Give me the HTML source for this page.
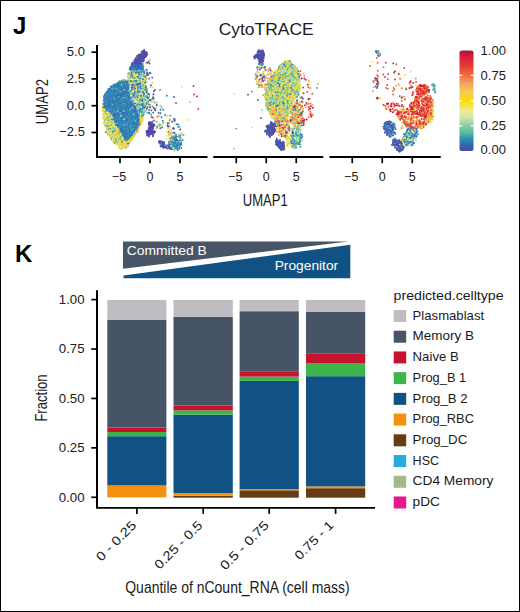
<!DOCTYPE html>
<html><head><meta charset="utf-8"><title>CytoTRACE</title>
<style>
html,body{margin:0;padding:0;background:#fff;}
.fig{position:relative;width:520px;height:612px;box-sizing:border-box;border:1px solid #000;overflow:hidden;background:#fff;}
svg{position:absolute;left:-1px;top:-1px;display:block;}
text{font-family:"Liberation Sans",sans-serif;}
</style></head><body>
<div class="fig">
<svg width="520" height="612" viewBox="0 0 520 612">
<text x="13" y="34.4" font-size="24" text-anchor="start" font-weight="bold" fill="#000" >J</text>
<text x="266.2" y="34.6" font-size="17.2" text-anchor="middle" font-weight="normal" fill="#1a1a1a" textLength="95" lengthAdjust="spacingAndGlyphs" >CytoTRACE</text>
<defs><filter id="sb" x="-5%" y="-5%" width="110%" height="110%"><feGaussianBlur stdDeviation="0.35"/></filter></defs>
<g fill="none" stroke-width="1.9" stroke-linecap="round" filter="url(#sb)">
<polygon points="143.8,50.9 146.8,53.5 145.2,56.3 142.1,60.5 141.5,63.7 132.9,64.2 134.2,61.6 137.4,57.3 141.3,53.4" fill="#504da7"/>
<polygon points="131.4,64.3 141.9,64.3 143.4,69.2 130.1,69.2" fill="#3b6eb3"/>
<polygon points="123.4,81.0 117.9,82.7 114.3,84.8 110.0,88.5 107.0,92.9 104.9,95.6 103.8,103.0 103.4,109.0 104.5,121.4 106.3,130.6 110.0,137.1 114.7,142.6 119.3,147.3 122.1,148.8 125.0,147.7 130.4,139.9 135.1,133.2 138.9,125.8 141.3,117.3 141.2,117.6 138.4,117.6 135.5,110.7 132.6,104.7 129.0,96.5 127.9,90.3 126.6,82.2" fill="#bcd888"/>
<polygon points="140.6,121.0 140.2,116.6 142.8,116.6 142.2,120.8 139.9,126.1 136.0,133.7 131.2,140.5 125.9,148.1 124.6,146.8 125.5,141.6 127.2,141.6 131.4,137.4 135.5,132.4 139.1,127.3" fill="#ecd050"/>
<polygon points="123.4,80.5 117.4,82.4 113.7,84.6 109.2,88.4 106.3,92.9 104.3,95.8 103.4,103.0 103.3,107.3 106.3,109.6 111.0,111.6 114.9,121.4 119.6,131.0 123.4,136.8 125.3,140.5 126.8,140.5 130.6,136.7 134.6,131.7 138.0,126.8 139.5,121.0 139.0,116.1 136.5,110.2 133.5,104.2 130.0,96.1 129.0,90.1 127.6,81.4" fill="#3d7bbb"/>
<polygon points="258.5,50.6 261.9,50.6 263.1,52.2 263.5,55.4 262.7,59.2 262.2,62.3 260.9,63.0 259.9,62.5 259.4,59.2 256.0,55.6 254.5,57.2 254.6,57.5 255.7,55.1 258.2,52.9" fill="#5349a6"/>
<polygon points="284.3,62.0 289.9,62.0 293.8,65.8 296.1,68.2 298.1,72.9 298.9,80.4 299.4,88.8 296.6,96.3 292.6,102.3 289.1,111.0 286.7,117.3 281.7,119.4 276.5,118.9 273.8,117.3 268.8,110.1 266.6,102.7 265.8,95.4 266.6,88.1 269.4,80.7 274.2,73.1 277.9,70.1 281.4,64.8" fill="#cadc84"/>
<polygon points="284.0,61.2 290.3,61.2 294.3,65.3 296.8,67.8 298.9,72.7 299.2,77.4 290.1,79.2 280.6,75.4 277.9,70.0 280.9,64.3" fill="#a8d49a"/>
<polygon points="272.2,123.6 273.9,124.4 274.3,129.6 272.3,134.4 270.5,135.3 267.8,133.5 266.8,131.3 268.4,126.4" fill="#4a55ab"/>
<polygon points="277.4,140.5 280.0,141.0 283.4,144.1 283.7,148.0 282.6,148.8 278.6,147.3 276.6,142.9" fill="#4a55ab"/>
<path d="M259.4 61.7h0M391.8 131.3h0M258.7 57.8h0M392.2 128.8h0M255.5 57.5h0M260.0 52.9h0M163.0 146.8h0M257.5 56.8h0M137.6 62.8h0M378.5 54.2h0M392.7 140.1h0M254.6 58.6h0M140.0 59.8h0M269.2 131.3h0M161.4 146.0h0M259.5 58.9h0M260.4 59.4h0M386.9 132.3h0M268.0 125.4h0M141.1 54.4h0M278.9 146.9h0M284.2 145.7h0M149.7 125.5h0M149.4 124.3h0M283.0 145.0h0M282.7 149.2h0M150.9 124.1h0M271.7 134.8h0M140.5 57.2h0M257.6 57.7h0M273.9 128.1h0M259.4 58.0h0M384.8 128.0h0M393.0 143.3h0M261.5 62.3h0M167.6 125.2h0M133.0 64.5h0M147.1 131.4h0M147.0 133.2h0M154.5 102.4h0M398.8 151.0h0M279.0 146.8h0M148.9 123.9h0M392.0 133.3h0M176.0 134.8h0M389.3 122.1h0M275.9 141.2h0M141.2 54.0h0M138.5 57.2h0M146.6 62.5h0M274.0 124.0h0M150.0 132.0h0M151.9 123.7h0M281.8 149.4h0M272.5 124.6h0M393.1 135.5h0M150.6 126.5h0M151.8 125.8h0M260.8 74.9h0M134.3 64.4h0M258.5 50.9h0M259.6 57.3h0" stroke="#5646a4"/>
<path d="M399.9 143.3h0M289.5 130.6h0M174.9 137.7h0M293.7 109.5h0M380.2 54.1h0M268.9 129.6h0M255.1 57.5h0M386.9 128.6h0M161.9 145.7h0M390.3 136.7h0M167.6 148.6h0M292.0 67.6h0M393.9 142.8h0M136.1 60.3h0M174.1 136.5h0M137.4 59.2h0M264.0 53.2h0M131.7 65.0h0M140.2 59.0h0M149.2 104.5h0M276.0 144.4h0M149.3 122.3h0M275.9 85.3h0M148.6 61.8h0M258.6 55.5h0M144.1 93.6h0M258.1 55.2h0M271.2 76.2h0M394.3 140.3h0M279.2 141.3h0M258.6 55.5h0M393.5 123.4h0M132.6 114.7h0M150.7 123.8h0M261.5 55.4h0M271.0 133.1h0M164.4 144.6h0M259.7 69.5h0M259.4 55.2h0" stroke="#504ea9"/>
<path d="M140.6 64.4h0M138.1 64.2h0M114.4 130.4h0M376.8 78.8h0M282.3 69.9h0M170.2 139.5h0M270.8 122.3h0M302.3 101.6h0M398.4 141.3h0M393.0 127.1h0M142.7 59.9h0M399.9 149.6h0M280.4 147.9h0M139.4 65.1h0M281.1 125.2h0M275.5 129.8h0M398.0 150.2h0M136.8 59.9h0M138.2 61.4h0M402.0 144.8h0M414.2 143.0h0M264.0 55.4h0M157.3 126.7h0M155.2 110.3h0M277.1 144.8h0M394.5 139.9h0M144.0 54.0h0M142.5 57.9h0" stroke="#4b56ae"/>
<path d="M156.4 102.6h0M399.0 143.1h0M136.8 65.9h0M387.3 134.9h0M256.6 55.0h0M257.4 52.1h0M137.1 68.6h0M109.3 116.4h0M131.6 68.5h0M139.7 120.6h0M112.3 93.7h0M112.8 91.5h0M124.3 138.1h0M265.9 70.1h0M399.1 145.9h0M177.3 146.1h0M130.8 109.5h0M298.1 80.1h0M277.3 122.6h0M116.1 93.2h0M144.7 86.2h0M114.2 106.4h0M136.9 70.0h0M134.2 62.5h0M136.4 72.0h0M394.7 124.9h0M396.6 143.9h0M168.7 126.5h0M139.2 91.2h0M112.7 102.1h0M166.1 145.9h0M173.6 143.9h0M149.2 78.5h0M404.3 134.6h0M144.1 80.7h0M395.4 141.9h0M130.0 109.2h0M125.0 92.0h0M141.9 60.3h0" stroke="#445fb1"/>
<path d="M123.8 91.2h0M136.7 60.4h0M297.6 104.0h0M122.0 82.6h0M117.1 118.5h0M123.9 122.0h0M393.1 130.6h0M132.2 68.0h0M118.3 83.1h0M125.2 118.3h0M147.0 98.2h0M418.1 134.3h0M119.5 117.1h0M139.3 67.0h0M277.2 77.3h0M276.4 142.5h0M125.6 125.9h0M123.9 85.7h0M133.1 64.1h0M272.9 130.6h0M135.0 68.9h0M296.3 131.8h0M129.3 128.0h0M127.4 115.8h0M115.9 119.8h0M115.1 103.4h0M103.7 101.4h0M138.4 114.1h0M395.7 139.9h0M279.4 129.6h0M118.2 103.7h0M124.2 104.0h0M265.4 88.7h0M119.9 136.5h0M405.2 135.0h0M149.4 113.3h0M138.2 56.0h0" stroke="#3e68b4"/>
<path d="M390.8 126.4h0M110.8 88.0h0M134.8 85.2h0M126.0 137.3h0M118.9 107.5h0M118.2 85.0h0M137.9 126.4h0M266.4 91.9h0M142.3 104.3h0M132.2 67.1h0M271.9 88.7h0M140.3 83.2h0M137.1 82.6h0M173.5 143.3h0M397.6 148.7h0M392.5 127.8h0M128.0 109.4h0M149.2 109.9h0M132.3 66.3h0M112.7 103.1h0M390.3 136.1h0M125.1 109.7h0M135.1 128.2h0M407.9 128.5h0M120.0 91.3h0M398.1 144.8h0M137.5 115.7h0M386.6 124.9h0M145.2 105.9h0M126.9 123.2h0M121.6 83.8h0M126.3 122.5h0M111.8 112.4h0M411.2 137.0h0M118.8 108.6h0M126.5 133.6h0M142.6 69.6h0M119.2 100.8h0M107.1 109.0h0M135.1 129.2h0M129.7 133.0h0M128.3 85.0h0M124.4 120.1h0M118.5 95.7h0M120.8 102.4h0M390.3 133.4h0M140.3 64.4h0M132.5 96.2h0M107.0 93.3h0M103.4 101.7h0M116.6 111.2h0M137.9 67.1h0M280.5 75.1h0M103.4 107.1h0M117.7 86.2h0M127.7 99.2h0M120.0 116.6h0M118.7 103.4h0M298.9 116.7h0M135.3 80.9h0M120.1 120.0h0M120.7 89.1h0M126.7 82.7h0M292.6 146.8h0M109.7 92.4h0M121.1 93.3h0M282.5 64.3h0M130.8 115.4h0M138.6 120.6h0M408.4 141.5h0M390.1 125.3h0M137.3 121.7h0M116.9 107.6h0M175.6 142.8h0M124.4 106.8h0M147.0 99.4h0M122.3 96.3h0M129.1 76.5h0M136.8 115.2h0" stroke="#3671b7"/>
<path d="M128.6 131.9h0M133.8 124.4h0M118.3 118.9h0M117.6 97.0h0M116.9 84.9h0M120.2 93.0h0M132.2 113.4h0M294.7 140.8h0M133.8 71.0h0M293.8 65.4h0M133.4 104.2h0M263.2 63.7h0M126.9 108.6h0M119.9 118.6h0M125.0 137.2h0M116.0 91.9h0M126.1 106.2h0M123.0 84.2h0M125.0 113.6h0M122.9 98.2h0M132.3 66.4h0M113.6 118.0h0M131.8 98.6h0M122.4 111.9h0M124.3 129.5h0M133.8 91.3h0M115.7 102.5h0M268.6 131.4h0M104.9 108.8h0M122.9 111.9h0M116.6 103.4h0M287.2 95.8h0M135.8 68.0h0M142.7 64.0h0M118.7 119.3h0M122.6 97.6h0M110.5 90.4h0M113.0 105.1h0M126.4 127.8h0M130.5 133.9h0M131.0 131.3h0M137.8 110.0h0M134.6 124.9h0M123.4 135.8h0M127.0 124.7h0M118.1 88.5h0M124.4 108.3h0M114.8 89.9h0M133.9 84.9h0M134.7 67.6h0M115.9 124.4h0M118.4 125.3h0M105.7 108.6h0M117.6 112.9h0M119.6 124.9h0M108.8 96.2h0M125.7 85.6h0M124.9 83.2h0M122.0 89.7h0M118.3 95.6h0M107.7 117.6h0M133.1 119.5h0M128.4 129.6h0M113.0 114.9h0M134.3 118.0h0M135.9 73.1h0M132.6 129.0h0M413.5 143.4h0M128.4 84.0h0M123.9 95.0h0M118.2 99.9h0M128.7 128.2h0M293.3 136.0h0M124.1 102.4h0M129.2 111.8h0M131.3 111.0h0M120.8 127.7h0M118.7 123.1h0M126.9 131.3h0M115.2 115.2h0M407.0 142.2h0M129.7 128.1h0M122.4 111.7h0M110.7 92.4h0M114.2 93.1h0M119.0 87.7h0M296.1 147.4h0M259.9 63.1h0M135.9 123.6h0M138.0 86.5h0M116.8 89.2h0M126.9 104.8h0M179.8 140.4h0M127.3 137.4h0M136.3 111.8h0M128.3 109.5h0M119.8 113.0h0M115.0 101.5h0" stroke="#327bb8"/>
<path d="M123.8 100.6h0M108.8 106.5h0M110.5 93.4h0M181.2 142.7h0M132.3 108.5h0M108.7 106.4h0M104.2 96.1h0M122.4 89.8h0M116.3 120.4h0M126.6 120.2h0M127.0 135.3h0M175.7 142.9h0M109.8 100.3h0M405.0 135.0h0M107.6 100.9h0M129.1 116.0h0M115.2 117.9h0M405.7 133.7h0M127.7 136.8h0M124.5 127.7h0M140.0 74.4h0M120.3 94.2h0M137.5 102.0h0M412.7 134.0h0M123.9 114.9h0M390.8 135.9h0M271.5 90.7h0M130.4 118.8h0M122.5 112.7h0M113.5 91.9h0M128.5 83.8h0M127.8 97.4h0M128.7 114.3h0M104.1 101.1h0M111.2 111.4h0M408.9 135.5h0M130.0 135.9h0M113.2 104.5h0M104.4 106.5h0M129.6 116.6h0M122.4 113.4h0M129.1 98.3h0M114.1 108.4h0M128.4 119.4h0M135.6 85.0h0M116.5 107.2h0M121.0 96.5h0M402.4 150.1h0M406.7 135.3h0M175.9 146.3h0M134.1 115.5h0M121.7 95.0h0M129.8 100.2h0M128.5 95.8h0M117.0 111.4h0M121.1 123.4h0M260.8 63.5h0M120.0 95.1h0M139.5 91.2h0M111.2 89.2h0M109.4 88.9h0M108.1 123.0h0M128.7 114.4h0M128.6 99.1h0M126.8 123.2h0M125.1 93.3h0M127.2 85.9h0M170.2 148.6h0M126.7 99.3h0M291.9 135.3h0M158.6 112.7h0M124.6 84.6h0M105.0 97.5h0M125.8 86.2h0" stroke="#3184b7"/>
<path d="M122.1 130.0h0M111.2 101.3h0M410.4 134.2h0M144.3 99.4h0M137.1 72.9h0M113.6 117.6h0M126.0 87.4h0M271.8 101.1h0M131.1 136.0h0M137.7 68.5h0M120.1 107.8h0M279.8 97.1h0M135.8 79.2h0M114.2 97.1h0M272.1 131.8h0M137.3 69.8h0M301.8 136.1h0M120.5 88.3h0M110.5 110.9h0M286.9 89.2h0M137.8 77.3h0M127.9 116.2h0M126.8 106.0h0M128.6 76.8h0M118.9 82.9h0M129.5 138.1h0M124.0 97.4h0M121.2 94.9h0M408.9 126.3h0M144.5 106.7h0M123.5 89.6h0M129.5 116.4h0M128.6 119.0h0M116.2 88.0h0M132.6 127.2h0M138.8 121.6h0M133.5 117.4h0M172.1 139.0h0M137.1 72.8h0M110.2 106.7h0M111.0 101.7h0M136.0 118.8h0M143.7 95.8h0M302.2 136.6h0M171.8 146.8h0M125.9 113.7h0M121.6 94.6h0M300.1 129.7h0M299.6 126.0h0M132.3 111.8h0M124.1 115.7h0M115.6 113.3h0M379.7 53.5h0M125.2 123.7h0M129.5 108.3h0M294.3 145.2h0M293.1 146.3h0" stroke="#308eb6"/>
<path d="M111.6 92.9h0M119.5 105.4h0M130.3 125.8h0M129.3 107.9h0M111.4 112.6h0M117.8 97.9h0M114.6 101.2h0M115.5 84.3h0M392.0 132.8h0M124.3 129.3h0M301.8 134.6h0M113.7 115.7h0M110.9 88.0h0M121.5 105.3h0M289.6 70.2h0M127.4 94.6h0M298.3 91.7h0M135.2 120.9h0M128.6 117.1h0M120.8 92.7h0M109.0 106.1h0M117.1 119.3h0M124.1 95.4h0M285.9 63.0h0M122.3 124.0h0M291.0 141.8h0M148.0 100.2h0M134.1 75.0h0M143.2 72.1h0M131.2 99.0h0M124.3 126.4h0M131.2 125.7h0M116.8 88.4h0M403.1 140.2h0M119.5 91.2h0M113.2 88.2h0M174.3 137.3h0M142.9 102.8h0M290.6 77.8h0M173.1 145.2h0" stroke="#3599b4"/>
<path d="M126.0 97.6h0M114.0 91.8h0M141.4 90.3h0M127.7 89.7h0M392.2 132.8h0M112.1 111.8h0M290.4 82.8h0M405.8 132.9h0M274.3 104.9h0M137.4 120.4h0M299.3 136.4h0M145.6 96.7h0M136.1 122.5h0M391.5 125.4h0M147.7 102.3h0M115.1 102.4h0M395.1 127.0h0M181.4 140.9h0M278.3 98.5h0M141.0 76.1h0M285.9 64.7h0M236.3 128.6h0M115.2 106.2h0M131.2 123.5h0M413.1 139.7h0M271.5 85.7h0M140.2 77.1h0M283.2 133.2h0M288.9 89.1h0M294.2 85.2h0M290.9 102.1h0M128.2 73.7h0M434.5 89.3h0" stroke="#42a4af"/>
<path d="M178.0 140.5h0M123.9 81.5h0M282.0 89.5h0M287.6 68.8h0M292.6 144.9h0M292.2 133.0h0M110.9 115.1h0M284.2 103.2h0M286.4 114.9h0M408.0 140.3h0M143.7 76.2h0M145.4 100.8h0M177.6 141.5h0M267.0 102.1h0M138.9 79.7h0M269.9 103.9h0M127.8 145.7h0M143.5 72.2h0M280.9 125.4h0M295.8 76.7h0M294.9 88.7h0M292.1 67.6h0M300.6 136.8h0M143.2 81.5h0M266.2 87.9h0M282.8 107.1h0M135.4 84.2h0M298.6 138.2h0M294.0 145.1h0M119.9 95.9h0M269.4 83.4h0M280.0 96.9h0M129.3 73.8h0M270.0 88.2h0M274.9 83.1h0M104.7 121.1h0M281.3 118.6h0M142.6 100.9h0M288.9 96.7h0M393.4 128.9h0" stroke="#4fb0ab"/>
<path d="M277.7 102.7h0M286.9 81.1h0M143.9 78.6h0M277.6 82.4h0M138.6 84.9h0M270.7 81.4h0M417.3 133.4h0M296.9 120.0h0M110.8 94.3h0M297.5 89.3h0M299.3 76.8h0M257.1 83.9h0M288.3 68.0h0M296.4 88.5h0M281.2 77.9h0M297.2 88.8h0M275.2 98.9h0M133.7 131.9h0M148.1 99.6h0M138.3 82.3h0M112.9 131.2h0M135.5 70.6h0M105.5 111.2h0M272.8 78.6h0M118.6 145.0h0M279.9 86.2h0M293.6 109.5h0M268.3 108.6h0M266.6 99.6h0M123.5 134.3h0M134.0 99.9h0M108.7 127.5h0M127.9 142.6h0M295.6 116.3h0M144.1 71.7h0M291.1 83.0h0M414.7 137.7h0M134.5 103.4h0M115.5 104.2h0M278.1 83.8h0M130.5 118.4h0M121.3 101.9h0M271.7 93.8h0M287.7 92.3h0M111.8 139.9h0M280.8 70.7h0M131.7 138.3h0" stroke="#5cbba6"/>
<path d="M280.1 81.4h0M284.7 109.1h0M279.9 118.3h0M280.1 67.1h0M123.6 107.3h0M298.1 110.0h0M142.7 111.1h0M278.6 107.2h0M277.4 94.7h0M105.6 119.7h0M288.8 87.0h0M132.4 73.9h0M299.7 126.5h0M110.7 128.8h0M149.2 96.4h0M267.2 97.9h0M273.0 107.3h0M297.4 83.2h0M384.7 127.2h0M296.5 83.5h0M292.9 117.4h0M145.4 87.9h0M270.0 73.5h0M139.9 112.0h0M275.9 107.4h0M281.2 84.1h0M433.7 86.6h0M276.9 116.3h0M116.7 87.0h0M279.1 70.4h0M130.1 79.1h0M147.3 94.1h0M277.3 101.9h0M142.1 100.4h0M297.8 120.2h0M291.8 85.7h0M107.5 120.8h0M292.0 92.7h0M287.2 99.0h0M137.8 121.3h0M258.4 84.2h0" stroke="#6ec2a6"/>
<path d="M286.5 68.6h0M435.4 85.6h0M278.3 110.0h0M296.3 74.9h0M287.7 115.5h0M284.8 89.9h0M140.7 101.5h0M267.5 103.6h0M113.8 120.4h0M300.1 147.0h0M130.0 82.7h0M258.1 72.4h0M286.5 94.2h0M292.1 99.4h0M126.5 124.4h0M112.0 129.4h0M296.4 70.1h0M132.7 128.7h0M274.5 101.3h0M105.0 116.0h0M283.2 120.1h0M296.7 80.2h0M119.4 139.5h0M296.7 67.9h0M275.7 85.6h0M301.2 112.5h0M176.4 136.0h0" stroke="#80caa5"/>
<path d="M279.3 113.5h0M279.7 72.8h0M139.3 74.7h0M287.6 73.2h0M147.3 96.1h0M270.1 88.2h0M298.9 91.7h0M113.1 132.6h0M416.1 140.1h0M273.9 81.9h0M267.5 96.9h0M286.9 64.2h0M295.4 96.8h0M284.0 68.9h0M111.9 85.5h0M109.4 113.2h0M285.7 88.3h0M296.0 116.7h0M291.2 64.4h0M120.3 137.0h0M136.7 86.9h0M120.4 135.2h0M291.4 75.2h0M296.3 73.8h0M281.3 119.2h0M130.4 109.0h0M279.9 70.9h0M162.0 108.0h0M272.9 109.5h0M290.7 104.8h0" stroke="#92d2a4"/>
<path d="M288.2 94.9h0M292.5 106.0h0M403.3 138.5h0M271.2 84.5h0M266.7 90.5h0M296.3 81.7h0M298.2 124.5h0M133.0 72.7h0M293.5 122.6h0M271.4 96.1h0M283.5 95.6h0M283.6 78.4h0M283.1 84.1h0M280.7 66.4h0M295.0 90.2h0M296.7 71.7h0M296.4 124.4h0M282.4 78.3h0M294.9 77.1h0M285.8 118.9h0M297.1 120.5h0" stroke="#a4d9a4"/>
<path d="M274.1 105.7h0M298.2 83.4h0M276.1 95.4h0M132.7 81.4h0M278.3 76.5h0M118.6 140.7h0M273.5 110.2h0M268.6 93.4h0M293.9 99.2h0M292.9 78.0h0M285.0 82.4h0M291.3 68.8h0M292.2 121.8h0M137.1 99.2h0M139.4 73.0h0M139.5 94.7h0M291.2 102.0h0M280.7 102.9h0M288.8 71.5h0M262.2 66.4h0M282.5 107.7h0M271.5 88.0h0M271.3 107.2h0M293.0 71.0h0M284.4 85.4h0M271.5 82.0h0M300.7 125.0h0M286.2 87.7h0M138.9 74.5h0M282.6 92.8h0M134.3 81.0h0M294.5 77.9h0" stroke="#b2dea2"/>
<path d="M118.4 133.5h0M119.6 144.7h0M277.7 88.7h0M283.5 100.5h0M103.8 114.9h0M118.0 143.8h0M182.0 133.1h0M298.6 88.7h0M252.0 127.6h0M300.3 110.3h0M282.7 96.2h0M123.7 145.1h0M290.0 71.4h0M294.6 109.5h0M291.3 76.3h0M284.2 66.5h0M111.0 128.5h0M106.7 121.9h0M288.8 69.8h0M107.3 111.5h0M137.1 91.6h0M281.4 98.6h0" stroke="#c0e2a0"/>
<path d="M107.7 132.2h0M114.9 139.6h0M275.3 119.2h0M408.6 129.2h0M293.4 85.4h0M430.6 121.1h0M285.0 101.8h0M300.8 112.6h0M288.3 144.4h0M402.8 140.2h0M112.3 128.3h0M288.1 78.6h0M111.2 115.1h0M279.6 71.8h0M107.2 112.0h0M109.4 115.9h0M276.8 90.5h0M109.6 130.5h0M179.4 135.4h0" stroke="#cee69e"/>
<path d="M108.9 120.2h0M281.3 93.3h0M136.2 83.0h0M276.0 96.1h0M122.6 139.3h0M278.2 75.9h0M116.7 128.3h0M276.9 99.7h0M143.6 105.5h0M294.4 75.8h0M288.0 105.5h0M283.4 71.5h0M268.8 103.8h0M287.1 61.4h0M294.2 82.3h0" stroke="#dceb9c"/>
<path d="M276.9 72.0h0M120.1 144.9h0M138.6 89.3h0M279.1 128.8h0M113.3 142.0h0M118.6 133.0h0M287.3 108.6h0M274.4 117.0h0M429.5 109.4h0M106.6 111.2h0M110.2 124.0h0M145.4 77.8h0M137.8 90.7h0M141.9 109.4h0M141.1 104.0h0" stroke="#e2ea89"/>
<path d="M295.5 72.5h0M109.3 124.3h0M273.8 111.6h0M286.8 101.4h0M110.5 126.4h0M282.0 116.3h0M430.6 122.3h0M120.1 133.8h0M110.3 116.5h0M281.9 87.2h0M166.7 135.8h0M274.9 104.0h0M301.6 111.8h0M187.0 120.0h0M117.6 130.9h0M105.2 117.7h0M290.7 120.9h0M292.5 90.5h0M280.0 87.3h0M120.7 148.9h0M432.4 109.5h0M290.4 97.0h0M288.2 62.3h0M283.4 125.8h0M283.3 76.8h0" stroke="#e9e876"/>
<path d="M279.7 83.8h0M273.7 113.8h0M298.2 91.0h0M281.1 65.2h0M297.1 75.2h0M281.0 113.1h0M281.0 119.5h0M144.1 104.5h0M263.3 87.3h0M292.2 77.8h0M289.1 63.6h0M285.1 113.6h0M411.5 135.3h0M283.2 67.7h0M277.5 124.5h0M279.6 86.1h0M283.9 115.8h0M169.7 135.4h0M287.0 84.4h0M270.1 106.8h0M298.9 105.2h0M273.1 83.1h0M291.3 86.9h0M139.1 93.4h0M288.8 73.5h0M275.5 83.1h0M286.9 103.5h0M122.1 137.8h0M142.1 116.9h0M279.7 99.5h0M110.9 137.0h0" stroke="#efe763"/>
<path d="M146.6 63.5h0M279.8 76.1h0M111.8 125.9h0M108.4 114.9h0M295.6 115.3h0M280.7 78.5h0M272.6 94.6h0M270.9 115.2h0M277.8 88.0h0M279.9 109.4h0M281.0 112.1h0M276.1 112.1h0M271.3 85.0h0M301.0 135.9h0M103.3 110.9h0M292.0 81.6h0M280.1 83.1h0M277.8 91.0h0M272.2 115.9h0M118.2 138.0h0M131.9 81.4h0M282.8 91.4h0M118.0 145.3h0M274.8 116.6h0M295.3 96.2h0M271.4 77.2h0M275.9 116.0h0M282.5 79.7h0M108.4 127.7h0M107.6 111.9h0M295.5 114.5h0M267.0 108.0h0M430.6 98.9h0M281.2 112.7h0M279.4 133.2h0M272.0 90.9h0M115.7 144.0h0M276.7 113.0h0M277.9 128.7h0" stroke="#f3e44e"/>
<path d="M282.1 88.8h0M289.2 124.8h0M289.0 94.9h0M135.2 78.1h0M128.0 141.6h0M295.1 77.4h0M113.5 119.8h0M131.6 96.7h0M268.0 107.0h0M121.1 136.5h0M172.6 139.2h0M298.5 74.4h0M287.7 108.6h0M402.1 127.5h0M285.7 101.8h0M292.6 116.1h0M269.7 91.8h0M407.6 120.9h0M295.2 114.4h0M129.7 141.9h0M125.5 141.4h0M290.6 93.7h0M285.2 104.7h0M274.0 78.6h0M280.3 118.0h0M270.6 101.8h0M266.6 94.9h0M279.6 116.9h0M114.1 139.9h0M282.0 77.2h0M162.4 125.4h0M277.8 119.8h0M142.9 111.0h0M283.8 70.7h0M137.8 102.9h0M286.5 97.9h0M146.7 109.5h0M272.7 99.5h0M271.5 113.2h0" stroke="#f6df37"/>
<path d="M137.6 104.8h0M274.8 96.1h0M282.1 92.9h0M137.3 75.9h0M269.7 111.0h0M287.4 137.2h0M299.2 79.7h0M290.3 92.2h0M282.2 96.2h0M109.6 112.9h0M297.1 94.0h0M399.5 86.1h0M116.3 131.2h0M102.3 108.8h0M280.2 114.2h0M298.0 142.4h0M292.9 77.8h0M285.5 107.3h0M113.4 136.5h0M289.2 109.3h0M132.8 138.2h0M116.6 135.8h0M120.2 144.8h0M419.6 114.2h0M281.5 92.8h0M144.4 78.7h0M293.7 98.0h0M407.4 136.6h0M140.3 88.4h0M114.7 133.4h0M269.6 91.4h0M274.6 107.5h0M288.0 138.8h0M289.1 85.4h0M285.1 112.9h0M284.5 113.9h0" stroke="#f8da20"/>
<path d="M290.4 108.8h0M140.3 99.0h0M291.3 104.7h0M408.8 113.9h0M420.8 127.9h0M429.6 116.9h0M296.1 84.6h0M121.6 145.8h0M291.0 101.6h0M142.8 117.2h0M264.3 87.5h0M103.1 108.9h0M274.5 107.1h0M287.5 115.7h0M263.5 73.9h0M419.7 108.3h0M406.4 136.5h0M295.9 110.6h0M299.6 78.7h0M290.4 76.4h0M134.1 133.7h0M279.4 111.5h0M277.9 80.6h0M272.5 111.1h0M125.5 145.0h0M126.0 144.9h0M140.4 122.1h0" stroke="#f8d42c"/>
<path d="M109.4 121.0h0M126.7 142.7h0M269.9 111.2h0M103.8 122.6h0M148.1 93.4h0M420.1 125.2h0M119.7 140.9h0M142.7 118.0h0M428.3 104.6h0M278.7 111.5h0M416.5 105.9h0M295.5 105.1h0M293.8 129.9h0M113.5 135.3h0M431.6 100.6h0M266.0 83.9h0M259.0 67.5h0M121.0 142.1h0M111.7 134.7h0M271.4 89.8h0" stroke="#f8cf38"/>
<path d="M270.7 114.8h0M270.6 85.9h0M285.5 134.6h0M407.8 127.6h0M291.3 93.5h0M125.6 146.8h0M291.6 113.3h0M429.4 100.1h0M276.5 128.5h0M265.7 96.4h0M273.5 117.4h0M398.9 115.4h0" stroke="#f7ca44"/>
<path d="M430.3 117.3h0M419.8 93.3h0M258.8 83.1h0M135.5 90.3h0M423.8 87.3h0M271.5 82.4h0M137.4 131.1h0M414.9 102.9h0M424.1 113.7h0M137.9 89.0h0M290.0 64.3h0M420.4 108.7h0M126.1 142.0h0M295.6 123.0h0M429.2 119.4h0M429.6 110.1h0M137.0 85.9h0M281.3 114.9h0M429.8 105.8h0" stroke="#f7c450"/>
<path d="M137.5 130.1h0M128.8 141.8h0M402.3 117.8h0M428.7 120.6h0M273.1 110.4h0M401.8 109.1h0M305.6 107.4h0M289.1 126.8h0M279.0 129.4h0M270.0 84.5h0M397.9 114.3h0M268.6 109.4h0M379.4 54.1h0" stroke="#f6ba52"/>
<path d="M130.0 77.2h0M126.4 142.7h0M431.9 112.5h0M303.5 73.6h0M413.8 91.8h0M269.3 97.5h0M301.3 107.5h0M426.8 100.0h0M283.0 116.6h0M110.2 114.2h0M408.6 115.9h0M428.2 107.6h0M266.7 87.7h0M406.0 116.7h0M425.8 105.1h0M106.9 130.7h0M291.6 91.7h0M280.8 117.4h0" stroke="#f6b054"/>
<path d="M421.8 119.0h0M265.5 84.6h0M278.0 115.5h0M373.8 87.2h0M429.9 119.9h0M282.7 114.8h0M147.2 95.5h0M409.0 126.8h0M294.1 121.4h0M289.1 127.3h0M139.8 116.4h0M296.9 109.6h0M413.1 106.8h0" stroke="#f5a656"/>
<path d="M408.2 113.6h0M418.5 98.7h0M428.9 120.8h0M307.1 91.6h0M269.5 83.2h0M426.9 118.1h0M429.2 103.7h0M423.3 92.2h0M285.6 113.2h0M271.0 79.5h0M270.6 111.1h0M275.0 121.2h0M428.0 116.1h0M393.0 102.8h0M404.0 96.7h0M424.5 114.2h0" stroke="#f49c58"/>
<path d="M418.4 89.1h0M157.0 117.0h0M427.6 102.6h0M385.8 87.8h0M416.5 123.7h0M258.8 81.3h0M286.1 122.2h0M266.8 77.6h0M300.6 121.9h0M287.4 136.3h0M411.3 108.3h0M274.9 85.7h0M413.5 112.5h0M296.6 111.4h0M430.0 100.4h0" stroke="#f39052"/>
<path d="M424.3 90.3h0M292.4 123.5h0M421.9 94.4h0M424.5 113.9h0" stroke="#f2844c"/>
<path d="M409.8 128.0h0M428.4 117.0h0M412.6 108.5h0M421.1 128.4h0M268.0 74.5h0M418.8 87.5h0" stroke="#f17846"/>
<path d="M310.3 88.0h0M430.5 101.1h0M158.5 116.3h0M406.0 124.6h0M423.9 90.5h0M411.1 128.1h0M425.4 116.2h0M271.2 80.4h0M418.8 102.4h0M280.0 125.5h0M405.5 112.2h0M419.1 121.9h0M428.8 104.7h0M402.0 88.3h0" stroke="#f06c40"/>
<path d="M399.0 112.7h0M310.7 106.3h0M280.1 128.2h0M407.3 123.2h0M419.6 109.4h0M417.3 120.2h0" stroke="#ee613d"/>
<path d="M413.9 127.9h0M310.7 113.2h0M415.8 125.4h0M297.3 106.8h0M418.5 102.1h0M393.2 94.5h0M394.0 104.1h0M301.3 115.6h0M422.9 123.4h0M423.9 123.8h0M418.8 102.2h0M416.4 126.3h0" stroke="#ec563a"/>
<path d="M425.9 103.1h0M414.7 98.8h0M418.1 99.2h0M429.3 113.4h0M419.1 116.8h0M423.6 90.7h0" stroke="#e94b37"/>
<path d="M311.2 106.3h0M423.5 123.5h0M426.9 113.4h0M419.7 120.9h0M406.4 126.2h0M308.8 107.2h0M415.3 100.9h0M423.7 100.0h0M422.4 93.8h0M421.1 95.8h0M394.9 105.6h0" stroke="#e74034"/>
<path d="M402.2 115.4h0M430.5 108.7h0M409.1 125.3h0M428.1 97.6h0M417.8 92.0h0M409.9 105.4h0M421.5 107.3h0M394.5 89.1h0M426.7 104.9h0M390.5 105.5h0M426.1 112.2h0M426.2 110.0h0M429.6 111.6h0" stroke="#e43633"/>
<path d="M426.3 103.3h0M411.6 106.2h0M421.3 95.6h0M297.1 121.5h0M416.3 102.2h0M413.1 116.4h0M421.4 107.3h0M259.1 85.0h0" stroke="#e12f36"/>
<path d="M426.0 97.0h0M421.8 108.5h0M417.2 120.0h0M271.2 79.4h0M419.7 115.4h0M421.5 111.5h0M412.7 92.4h0M413.5 103.0h0M410.7 81.3h0M284.6 127.1h0M276.0 122.0h0M419.1 86.1h0M424.3 117.0h0M427.3 90.4h0M292.3 114.3h0" stroke="#dd2738"/>
<path d="M421.3 94.1h0M373.5 81.3h0M419.4 120.4h0M304.4 119.7h0M412.4 94.9h0M264.4 76.1h0M403.4 111.3h0M402.4 118.8h0M419.9 111.1h0M423.0 124.8h0M383.6 104.9h0" stroke="#da203b"/>
<path d="M261.7 78.4h0M401.4 106.1h0M399.8 96.1h0M423.2 94.3h0M411.9 120.4h0M297.0 100.7h0M432.1 103.8h0M424.0 109.6h0" stroke="#d11b3c"/>
<path d="M397.1 110.3h0M422.0 112.9h0M426.0 91.9h0M426.5 99.8h0" stroke="#c3183d"/>
<path d="M431.2 104.4h0M310.0 108.7h0M396.6 103.6h0" stroke="#b6153d"/>
<path d="M419.7 85.5h0M426.6 112.4h0" stroke="#a8123e"/>
<path d="M270.9 126.6h0M136.9 61.5h0M395.7 129.1h0M272.2 125.0h0M149.6 73.0h0M150.3 123.2h0M260.7 59.5h0M142.6 51.9h0M142.2 59.2h0M390.4 135.7h0M276.8 138.9h0M414.5 131.8h0M150.0 131.7h0M261.7 56.0h0M263.4 57.2h0M147.2 54.2h0M262.3 58.8h0M259.0 54.1h0M149.3 131.4h0M148.0 134.7h0M280.8 146.5h0M384.8 125.0h0M141.4 64.5h0M262.5 56.9h0M275.4 126.1h0M274.2 127.1h0M172.1 133.1h0M271.8 130.7h0M150.7 128.1h0M398.5 146.4h0M258.3 57.1h0M153.9 132.2h0M148.9 124.2h0M254.0 56.4h0M282.3 146.3h0M134.4 83.6h0M273.3 131.0h0M260.8 55.7h0M303.2 87.6h0M261.9 51.9h0M147.9 132.5h0M264.0 54.8h0M261.4 59.0h0M281.5 143.2h0M149.2 135.2h0M259.7 50.7h0M139.6 59.8h0M150.3 131.6h0M266.4 126.2h0M143.2 104.4h0M281.3 149.9h0" stroke="#5646a4"/>
<path d="M267.5 132.1h0M410.1 129.6h0M274.1 129.7h0M162.3 144.4h0M388.2 74.1h0M400.6 149.5h0M393.5 128.9h0M152.4 126.2h0M136.4 64.6h0M164.7 147.0h0M293.3 116.8h0M143.5 54.1h0M139.6 60.8h0M152.5 128.0h0M148.7 123.8h0M174.6 141.8h0M386.9 132.7h0M262.1 77.2h0M140.6 61.0h0M269.0 133.0h0M143.6 50.7h0M271.4 123.2h0M150.7 130.0h0M150.1 125.7h0M387.2 134.2h0M395.1 140.7h0M260.7 59.2h0M135.3 62.1h0M275.5 123.0h0M140.1 61.4h0M174.4 132.8h0M283.5 147.3h0M259.9 57.9h0M141.5 64.8h0M279.3 147.5h0M388.4 124.3h0M140.0 68.5h0" stroke="#504ea9"/>
<path d="M144.9 56.1h0M141.5 59.5h0M305.0 105.2h0M262.6 57.0h0M411.1 138.8h0M148.9 112.7h0M135.2 88.8h0M284.1 148.7h0M174.6 120.8h0M387.2 130.2h0M393.9 132.8h0M271.4 83.9h0M165.7 147.6h0M264.4 80.1h0M406.9 130.9h0M294.9 118.2h0M401.3 149.9h0M146.6 53.4h0M283.3 143.7h0M144.3 57.6h0M277.5 141.2h0M150.2 100.4h0M393.2 63.4h0M280.8 147.5h0M133.0 62.6h0M261.0 118.0h0M288.6 129.4h0M161.4 141.8h0M280.4 142.0h0M286.6 135.7h0M281.0 149.4h0M400.2 147.6h0M387.0 131.9h0" stroke="#4b56ae"/>
<path d="M412.1 142.0h0M127.6 112.3h0M138.4 114.3h0M389.0 124.9h0M265.5 131.2h0M279.7 147.0h0M136.7 66.6h0M135.0 66.5h0M411.9 127.2h0M276.6 144.4h0M267.6 133.1h0M272.2 97.3h0M389.8 132.7h0M395.1 140.7h0M271.0 128.2h0M134.8 126.0h0M407.4 136.2h0M124.7 90.9h0M278.9 120.2h0M130.3 68.6h0M117.8 82.9h0M141.3 69.3h0M140.3 84.8h0M177.0 124.2h0M129.5 90.0h0M270.4 134.8h0M275.0 129.5h0M130.5 132.0h0" stroke="#445fb1"/>
<path d="M132.3 70.3h0M133.9 90.4h0M107.0 91.7h0M120.0 81.7h0M121.8 118.7h0M127.1 140.3h0M291.1 68.6h0M131.2 112.5h0M115.4 113.4h0M178.7 142.6h0M128.8 108.8h0M137.0 66.0h0M129.7 76.3h0M113.9 111.6h0M133.5 120.9h0M283.9 148.4h0M136.0 123.4h0M272.8 133.8h0M391.5 122.1h0M115.7 111.4h0M269.3 134.2h0M117.9 93.2h0M280.6 149.2h0M410.1 137.7h0M128.0 90.8h0M127.8 95.3h0M180.1 145.7h0M122.0 131.7h0M142.0 103.9h0M123.3 98.0h0M132.9 118.1h0M410.7 132.7h0M138.4 84.1h0M125.9 91.6h0M262.4 57.3h0M126.1 126.5h0M411.2 137.7h0M131.9 89.3h0M393.2 142.4h0M106.4 99.0h0M140.4 65.8h0M390.8 131.5h0M393.8 144.5h0" stroke="#3e68b4"/>
<path d="M128.9 99.7h0M113.9 90.3h0M173.9 138.6h0M295.2 71.1h0M171.8 143.8h0M143.3 90.7h0M121.9 100.2h0M292.5 146.5h0M108.2 101.0h0M105.6 104.2h0M131.1 129.0h0M121.5 84.6h0M404.6 140.8h0M128.8 124.4h0M120.0 130.3h0M285.5 112.9h0M114.9 100.1h0M130.7 120.9h0M258.0 100.0h0M118.6 100.6h0M123.5 128.6h0M127.4 126.3h0M172.7 138.2h0M108.1 97.2h0M135.9 116.3h0M125.3 136.9h0M387.0 124.3h0M130.9 67.0h0M411.9 133.9h0M123.7 91.6h0M279.7 147.7h0M391.8 144.9h0M125.1 91.2h0M272.2 89.5h0M124.7 124.8h0M127.7 129.7h0M115.8 97.9h0M127.8 76.8h0M112.1 93.3h0M291.1 102.9h0M281.4 124.8h0M127.1 133.9h0M389.9 130.0h0M134.2 122.4h0M298.9 136.3h0M146.0 91.3h0M126.5 133.1h0M298.1 142.7h0M124.0 124.4h0M140.5 65.7h0M393.2 127.3h0M111.2 132.9h0M120.3 95.0h0M128.6 138.9h0M123.9 93.8h0M170.6 148.2h0M117.3 121.7h0M138.0 85.5h0M138.7 121.4h0M145.6 77.5h0M415.9 131.6h0M140.5 65.0h0M131.4 127.4h0M112.8 111.3h0M126.8 88.1h0M109.2 106.0h0M117.6 97.5h0M130.9 80.8h0M128.3 93.4h0M390.1 136.5h0M402.3 144.4h0M121.1 109.1h0M104.5 101.4h0M136.3 129.6h0M116.6 125.1h0M136.3 116.2h0M131.1 124.1h0M114.8 92.9h0M398.6 148.9h0M173.1 143.1h0M114.7 85.0h0M388.6 123.8h0M133.4 123.6h0" stroke="#3671b7"/>
<path d="M134.0 68.6h0M114.3 100.1h0M416.3 136.2h0M122.1 86.6h0M293.9 85.3h0M134.1 128.3h0M298.7 138.0h0M177.6 146.9h0M120.2 127.6h0M108.1 112.0h0M287.8 69.1h0M143.6 111.8h0M130.0 137.8h0M124.5 91.3h0M125.4 140.2h0M131.8 116.5h0M136.0 98.7h0M113.2 115.1h0M129.9 85.6h0M175.1 139.2h0M119.3 119.0h0M126.7 115.1h0M121.4 85.5h0M122.5 109.1h0M121.0 108.0h0M137.0 76.1h0M109.1 100.5h0M121.6 128.5h0M287.4 93.1h0M129.6 74.7h0M283.5 106.1h0M121.4 98.5h0M114.3 95.3h0M131.9 118.4h0M123.0 135.5h0M297.9 135.4h0M145.5 100.8h0M126.1 131.9h0M128.8 98.0h0M125.8 129.9h0M134.9 81.2h0M114.9 94.1h0M296.5 131.9h0M113.6 105.2h0M123.8 124.4h0M125.3 90.6h0M114.2 92.1h0M292.8 130.6h0M115.9 89.2h0M120.7 92.4h0M124.9 118.7h0M406.1 140.3h0M107.1 105.8h0M290.0 87.9h0M105.3 108.2h0M130.5 66.9h0M127.1 95.3h0M133.1 131.8h0M107.3 98.1h0M115.9 114.7h0M122.1 135.8h0M118.9 113.0h0M117.2 112.5h0M280.6 66.0h0M119.0 107.8h0M276.2 96.6h0M280.1 81.1h0M124.4 92.8h0M125.5 139.9h0M111.1 109.1h0M138.0 64.0h0M115.4 119.8h0M114.9 93.3h0M131.1 90.3h0M176.6 136.5h0M117.2 106.1h0M133.2 121.5h0M297.1 143.7h0M133.2 109.4h0M113.0 91.4h0M130.7 110.1h0M123.8 137.4h0M123.3 119.1h0M125.4 90.1h0M133.1 110.1h0M117.9 102.2h0M283.9 115.3h0M123.7 104.4h0M131.7 129.8h0M124.9 99.4h0M131.3 102.8h0M119.0 82.0h0M112.6 110.2h0M126.1 135.9h0M128.6 102.7h0M106.1 102.0h0M127.0 125.2h0M122.5 123.9h0M110.9 125.1h0M290.1 70.1h0M130.7 103.6h0M108.6 104.9h0M107.3 95.7h0M124.0 133.7h0M131.9 69.4h0M120.6 95.7h0M128.0 90.7h0M114.6 86.5h0M118.7 120.5h0" stroke="#327bb8"/>
<path d="M127.6 109.4h0M128.9 93.8h0M179.0 143.3h0M278.6 88.9h0M108.0 110.4h0M123.3 128.9h0M107.1 98.1h0M106.8 109.5h0M114.0 86.1h0M122.7 110.8h0M114.1 119.2h0M131.8 105.3h0M121.1 127.7h0M122.0 97.9h0M143.9 92.3h0M299.5 134.2h0M286.3 81.7h0M119.3 94.8h0M106.0 104.9h0M128.7 79.9h0M125.1 114.2h0M125.0 93.6h0M118.5 123.3h0M134.2 122.1h0M133.2 101.3h0M128.4 103.7h0M119.8 114.1h0M396.8 149.0h0M115.5 120.5h0M116.6 86.3h0M177.2 135.4h0M124.1 95.5h0M138.3 126.0h0M104.1 100.3h0M138.3 96.8h0M130.0 131.6h0M287.4 92.3h0M105.4 99.6h0M133.0 113.1h0M130.7 135.4h0M134.3 130.9h0M123.1 112.1h0M126.6 129.7h0M115.9 121.2h0M116.2 90.1h0M290.1 80.6h0M105.2 99.7h0M104.0 96.2h0M278.0 70.2h0M292.0 129.1h0M121.8 86.0h0M133.1 128.9h0M130.5 119.8h0M134.9 110.9h0M108.6 95.7h0M117.5 122.9h0M135.4 121.6h0M121.2 90.4h0M115.3 91.5h0M414.5 129.4h0M142.0 114.9h0M128.6 129.8h0M127.4 102.5h0M127.4 127.7h0M127.2 85.6h0M402.5 141.1h0M113.8 116.6h0M115.6 96.6h0M118.7 89.3h0M135.9 107.8h0M138.2 76.2h0M115.1 90.1h0M132.4 107.0h0M128.6 90.0h0M123.4 135.9h0M123.2 83.0h0M145.4 100.9h0M125.7 128.9h0" stroke="#3184b7"/>
<path d="M120.8 124.9h0M130.3 135.0h0M104.3 103.9h0M116.1 89.9h0M282.6 85.9h0M119.0 93.5h0M111.1 88.6h0M124.2 88.9h0M130.3 130.7h0M131.0 110.5h0M175.4 143.7h0M127.1 116.2h0M295.5 142.3h0M118.2 101.3h0M120.8 86.0h0M130.4 102.2h0M124.6 122.1h0M292.4 68.9h0M134.3 108.6h0M119.2 107.3h0M121.1 117.5h0M146.1 86.5h0M105.0 97.5h0M413.1 136.1h0M136.0 66.6h0M268.2 102.6h0M155.3 108.7h0M124.3 105.3h0M104.4 106.4h0M389.3 123.2h0M115.2 125.7h0M112.2 87.4h0M432.9 85.1h0M108.7 120.8h0M123.2 90.5h0M295.3 133.9h0M384.3 124.2h0M135.9 119.2h0M394.4 142.1h0M111.8 104.5h0M295.6 145.7h0M137.8 122.3h0M139.9 110.5h0M133.5 109.8h0M123.1 83.9h0M103.9 97.7h0M127.7 134.4h0M136.6 116.9h0M133.5 128.7h0M121.6 86.0h0M290.7 135.0h0M252.0 91.6h0M121.2 127.7h0M109.7 110.4h0M136.2 122.6h0M135.8 94.6h0M108.2 103.8h0M298.1 130.1h0M120.7 87.5h0M128.1 98.1h0M131.5 130.3h0" stroke="#308eb6"/>
<path d="M137.4 108.7h0M117.5 83.0h0M123.5 93.1h0M128.6 79.2h0M258.9 64.0h0M119.3 91.1h0M118.8 100.3h0M284.0 104.2h0M128.4 138.6h0M111.4 109.8h0M123.7 91.0h0M142.5 82.3h0M126.7 90.7h0M131.9 120.1h0M131.8 93.9h0M270.1 107.9h0M149.2 112.7h0M182.7 140.0h0M113.9 110.0h0M123.8 122.0h0M142.5 109.8h0M178.6 136.6h0M110.2 111.2h0M116.8 107.3h0M119.3 116.0h0M115.7 87.6h0M106.2 115.0h0M130.2 116.5h0M297.6 133.9h0M126.5 122.3h0M129.6 102.1h0M122.1 128.6h0M389.8 130.4h0M123.6 132.8h0M114.3 94.1h0M402.3 141.5h0M135.7 65.1h0" stroke="#3599b4"/>
<path d="M134.2 127.7h0M146.6 104.2h0M146.7 92.2h0M378.0 84.6h0M407.2 136.6h0M125.7 102.8h0M141.5 111.4h0M267.3 89.1h0M407.7 144.1h0M130.9 111.5h0M126.8 82.5h0M289.1 79.8h0M274.6 122.1h0M276.1 98.1h0M124.4 132.1h0M111.3 100.3h0M133.1 129.7h0M172.8 144.3h0M141.3 73.5h0M142.5 84.1h0M121.9 117.6h0M122.5 111.9h0M276.0 93.7h0M283.1 115.3h0" stroke="#42a4af"/>
<path d="M277.3 113.6h0M131.7 72.4h0M106.1 105.6h0M117.2 125.3h0M115.9 117.0h0M301.1 121.8h0M138.9 123.2h0M144.7 107.3h0M143.4 89.3h0M299.6 137.0h0M171.5 142.4h0M129.5 120.8h0M268.7 103.3h0M299.4 89.8h0M276.0 104.0h0M146.9 91.2h0M294.0 128.3h0M111.7 107.4h0M269.0 95.9h0M294.7 93.9h0M278.7 104.3h0M295.9 85.4h0M279.9 79.0h0M125.6 95.5h0M406.4 132.4h0M257.7 76.0h0M136.4 122.5h0M132.5 99.4h0M121.6 99.4h0M168.9 123.2h0M141.1 114.1h0M136.4 97.6h0M295.1 106.8h0M268.6 86.3h0M123.1 108.1h0M386.6 133.1h0M134.0 118.8h0M286.3 109.1h0M110.8 133.0h0M124.8 116.1h0M273.3 83.9h0M415.8 133.1h0M144.9 99.6h0M138.0 89.6h0M434.5 85.9h0" stroke="#4fb0ab"/>
<path d="M146.3 82.0h0M266.8 105.2h0M291.6 64.5h0M276.9 126.1h0M140.3 81.1h0M297.0 129.4h0M143.0 71.4h0M122.3 125.7h0M132.2 98.0h0M276.0 74.5h0M114.9 103.3h0M415.8 78.5h0M286.6 99.0h0M432.7 85.8h0M292.3 73.0h0M282.0 109.9h0M275.1 111.3h0M268.6 87.5h0M412.0 143.1h0M140.6 74.7h0M299.8 120.4h0M379.7 55.6h0M412.6 139.1h0M298.4 136.6h0M270.3 88.3h0M124.6 107.6h0M297.8 80.3h0M282.2 100.6h0M280.7 109.9h0M143.1 115.1h0M138.5 100.9h0M176.9 140.8h0M268.8 83.2h0M376.7 51.0h0M280.8 119.1h0M301.1 113.9h0M179.6 126.8h0M150.3 105.1h0M418.3 133.5h0M276.6 100.5h0M280.9 110.5h0" stroke="#5cbba6"/>
<path d="M292.0 141.1h0M130.9 74.1h0M289.7 64.4h0M275.5 101.0h0M157.3 126.7h0M283.1 116.3h0M274.0 73.0h0M293.3 89.8h0M146.3 110.3h0M270.0 94.6h0M273.3 102.7h0M269.8 109.1h0M292.0 85.5h0M288.4 61.0h0M291.2 72.2h0M142.0 91.1h0M279.6 113.9h0M115.0 125.7h0M292.7 81.8h0M300.4 112.7h0M293.8 90.2h0M288.0 91.9h0M115.2 123.7h0M299.1 125.1h0M279.5 90.6h0M138.7 109.2h0M283.4 86.5h0M297.0 88.8h0M297.5 93.2h0M268.7 92.4h0M290.3 77.3h0M273.7 113.1h0M271.8 79.8h0M280.7 88.8h0M131.7 129.7h0M132.0 77.8h0M264.7 94.6h0M282.1 88.5h0M297.4 78.6h0M292.4 120.4h0M286.9 103.3h0M409.0 127.6h0M292.6 130.8h0M129.0 93.1h0M279.7 92.8h0M273.7 106.1h0" stroke="#6ec2a6"/>
<path d="M290.4 102.4h0M274.7 78.2h0M272.4 100.4h0M282.9 91.3h0M170.8 143.9h0M114.2 118.5h0M272.6 102.8h0M294.3 94.9h0M279.2 75.4h0M288.6 113.2h0M277.9 104.1h0M296.7 92.0h0M434.9 88.8h0M174.7 145.1h0M268.7 98.0h0M404.5 141.5h0M296.3 123.3h0M289.2 65.0h0M137.1 106.6h0M278.4 118.5h0M282.9 83.1h0M267.8 105.6h0M138.1 102.1h0M275.9 82.6h0M276.3 100.8h0M151.6 100.0h0M288.9 93.6h0M301.9 139.9h0M282.9 110.3h0M288.6 101.0h0M295.1 145.3h0" stroke="#80caa5"/>
<path d="M290.0 110.3h0M283.1 69.7h0M137.5 86.7h0M291.9 69.0h0M131.2 72.2h0M282.4 78.3h0M167.5 115.8h0M284.3 67.8h0M296.6 130.1h0M138.0 82.2h0M265.5 99.7h0M271.2 102.1h0M286.1 98.0h0M107.1 128.2h0M434.0 86.7h0M299.7 125.9h0M271.9 88.0h0M276.9 81.2h0M139.1 126.4h0M110.5 132.8h0M272.3 104.6h0M275.2 88.4h0M118.1 139.2h0M292.5 69.3h0M269.7 109.9h0M285.0 95.0h0M280.8 98.6h0M299.5 141.0h0" stroke="#92d2a4"/>
<path d="M287.7 124.2h0M112.5 126.7h0M288.9 63.5h0M274.9 99.2h0M298.4 73.8h0M294.4 119.4h0M293.3 103.9h0M282.2 102.6h0M272.5 118.1h0M298.8 73.3h0M296.9 71.7h0M106.2 117.9h0M288.7 93.8h0M108.8 129.5h0M145.2 110.6h0M275.7 85.2h0M286.2 72.2h0M111.4 121.8h0M290.8 104.8h0M285.2 120.4h0M292.9 101.7h0M410.7 134.8h0M291.6 75.3h0M284.6 85.4h0M273.4 111.1h0M284.5 70.0h0M287.2 139.5h0M174.4 139.7h0M113.8 86.4h0M125.6 141.1h0" stroke="#a4d9a4"/>
<path d="M297.7 124.5h0M278.3 117.4h0M279.8 116.3h0M135.6 106.2h0M411.4 132.9h0M289.8 71.1h0M129.5 81.7h0M152.4 83.0h0M418.0 133.4h0M138.4 128.3h0M273.4 99.2h0M151.9 101.6h0M133.2 80.1h0M295.8 105.4h0" stroke="#b2dea2"/>
<path d="M283.2 63.8h0M295.5 84.9h0M284.6 82.6h0M128.5 141.8h0M282.2 114.0h0M133.7 86.4h0M147.1 93.3h0M287.7 116.7h0M301.8 122.0h0M288.6 137.3h0M107.5 121.2h0M119.8 146.0h0M128.0 77.0h0M268.0 108.9h0M293.5 146.1h0M272.7 90.8h0M287.6 70.8h0M292.0 110.1h0M268.5 105.2h0M266.0 105.1h0M175.7 138.3h0M282.0 69.5h0M123.3 144.1h0M291.4 69.8h0M282.5 64.6h0M402.4 125.9h0M104.4 112.5h0" stroke="#c0e2a0"/>
<path d="M274.0 79.6h0M145.9 90.2h0M286.4 142.1h0M290.8 71.7h0M293.3 143.6h0M111.6 116.3h0M285.3 62.5h0M289.3 70.0h0M132.1 136.0h0M289.7 66.5h0M293.7 125.0h0M127.3 142.3h0M117.0 143.5h0M280.7 104.0h0M111.7 127.9h0" stroke="#cee69e"/>
<path d="M112.0 116.4h0M278.4 94.5h0M272.0 102.8h0M288.2 78.3h0M267.8 99.3h0M287.7 142.6h0M124.4 143.7h0M268.9 110.4h0M173.5 143.9h0M296.9 125.5h0M121.0 143.5h0M281.8 119.9h0M108.0 129.0h0M296.0 88.2h0M281.2 64.9h0M278.8 116.5h0" stroke="#dceb9c"/>
<path d="M281.4 68.4h0M123.4 144.9h0M109.8 117.8h0M287.7 67.9h0M282.3 72.6h0M286.6 79.6h0M109.2 133.3h0M111.8 122.4h0M267.2 103.4h0M152.6 87.3h0M286.1 62.3h0M120.5 146.0h0M119.8 148.2h0M287.3 105.5h0M268.4 97.5h0M137.0 84.3h0M295.0 70.4h0M263.5 72.1h0" stroke="#e2ea89"/>
<path d="M164.6 122.7h0M286.3 93.3h0M283.8 118.1h0M104.6 110.5h0M297.1 133.6h0M152.1 116.9h0M107.4 132.7h0M115.7 135.1h0M268.5 78.2h0M169.9 125.8h0M285.1 119.9h0M300.5 88.9h0M299.4 84.3h0M290.9 108.4h0M261.9 75.6h0M280.9 81.7h0M137.7 108.2h0M269.2 98.3h0M112.5 123.5h0M288.5 83.8h0M291.5 92.7h0" stroke="#e9e876"/>
<path d="M288.9 104.4h0M294.4 142.5h0M278.2 114.3h0M122.3 141.3h0M295.6 108.6h0M286.4 111.6h0M283.4 102.2h0M137.6 102.9h0M283.1 66.2h0M268.1 98.9h0M129.0 79.6h0M115.7 138.5h0M276.7 93.3h0M137.6 101.4h0M269.6 105.2h0M114.6 126.0h0M283.1 119.4h0M290.9 98.2h0M285.5 76.6h0M280.2 100.9h0M289.1 110.1h0M275.7 78.5h0M282.7 111.3h0M105.2 124.2h0M142.5 78.1h0M166.7 131.3h0M294.3 100.8h0M275.5 81.9h0M142.6 118.4h0M287.9 64.1h0M119.4 131.9h0M285.8 134.4h0" stroke="#efe763"/>
<path d="M302.2 108.5h0M274.4 96.1h0M277.1 110.1h0M285.2 69.6h0M292.8 72.2h0M296.7 94.1h0M287.0 117.6h0M279.0 107.0h0M297.3 95.9h0M116.2 126.7h0M280.3 97.7h0M103.6 108.2h0M276.6 107.4h0M292.0 87.7h0M297.7 88.5h0M274.4 109.3h0M170.1 137.3h0M284.7 126.4h0M271.3 77.9h0M279.5 85.4h0M275.4 88.7h0M116.7 131.4h0M271.8 116.8h0M427.5 121.8h0M280.2 94.3h0M266.8 100.2h0M288.5 142.1h0M294.4 88.0h0M274.1 77.9h0M105.4 115.0h0M294.3 141.9h0M289.1 85.4h0M138.6 93.8h0M134.3 86.8h0M279.9 112.9h0M108.6 122.4h0M290.1 89.5h0M284.3 83.6h0" stroke="#f3e44e"/>
<path d="M422.4 128.0h0M143.5 106.5h0M290.7 83.9h0M265.6 97.4h0M133.5 134.9h0M281.4 114.0h0M401.2 129.1h0M288.8 106.1h0M145.7 86.3h0M291.6 142.4h0M289.1 88.2h0M287.4 84.2h0M277.6 107.8h0M274.9 96.6h0M288.3 103.9h0M297.3 78.8h0M131.4 140.5h0M290.6 143.3h0M112.7 130.9h0M155.0 121.1h0M276.7 87.0h0M277.9 86.4h0M280.0 115.3h0M282.2 93.8h0M278.5 118.5h0M284.9 105.9h0M291.1 106.7h0M296.4 72.8h0M296.6 82.3h0M288.6 77.5h0M274.7 114.0h0M126.8 145.8h0M284.9 81.8h0M300.1 118.4h0M283.2 87.5h0M283.9 101.1h0M277.8 118.1h0M298.2 82.1h0M296.5 89.6h0M280.9 130.1h0M297.3 88.0h0M283.4 109.0h0M298.3 82.9h0M273.4 93.8h0M116.6 139.0h0" stroke="#f6df37"/>
<path d="M271.1 99.4h0M412.6 117.4h0M267.4 91.7h0M292.1 74.9h0M296.3 93.3h0M129.7 81.2h0M291.5 99.6h0M286.0 111.8h0M259.0 83.8h0M277.1 94.6h0M290.3 139.8h0M116.7 133.9h0M278.5 102.9h0M182.4 134.5h0M130.2 76.6h0M274.2 101.2h0M429.3 98.1h0M299.1 81.9h0M431.0 117.6h0M272.1 82.3h0M299.7 113.4h0M135.5 93.3h0M290.4 92.9h0M297.2 102.3h0M427.7 109.9h0M295.9 74.8h0" stroke="#f8da20"/>
<path d="M277.3 116.5h0M114.1 138.2h0M432.6 104.8h0M403.2 122.4h0M287.3 85.9h0M430.6 120.1h0M109.9 124.2h0M141.9 118.9h0M291.9 97.0h0M285.6 99.0h0M285.3 61.2h0M398.5 118.1h0M293.5 116.9h0M288.1 114.5h0M426.1 111.3h0M408.8 142.8h0M429.9 99.6h0M293.9 90.2h0M273.9 101.2h0M106.9 126.0h0M278.6 80.9h0M282.6 89.4h0M278.7 88.2h0M142.6 83.3h0M271.9 117.2h0M119.1 136.5h0M120.0 138.7h0M267.2 89.5h0" stroke="#f8d42c"/>
<path d="M113.6 132.9h0M274.1 96.3h0M123.1 144.6h0M277.5 126.9h0M114.5 123.4h0M281.4 119.4h0M279.8 76.8h0M264.5 97.0h0M285.7 118.2h0M141.7 119.9h0M269.9 86.2h0M426.9 102.1h0M288.1 86.5h0M269.5 82.2h0M135.2 133.4h0M275.4 114.9h0M114.4 127.1h0M141.1 123.8h0M422.1 123.2h0M116.4 138.5h0M413.3 118.7h0M415.5 100.4h0M119.1 138.5h0" stroke="#f8cf38"/>
<path d="M269.2 109.6h0M399.0 116.9h0M140.6 118.4h0M286.2 66.9h0M287.4 114.6h0M419.3 127.3h0M134.8 133.3h0M277.6 116.0h0M139.7 100.9h0M271.0 73.9h0M105.9 116.7h0M413.3 112.2h0M299.0 124.3h0M295.1 83.9h0M271.8 108.1h0M420.5 126.2h0M127.2 143.5h0M269.1 69.2h0M277.4 118.4h0M120.3 141.0h0M292.2 75.5h0" stroke="#f7ca44"/>
<path d="M298.9 105.0h0M405.4 122.2h0M285.6 114.4h0M285.7 118.3h0M415.7 100.0h0M412.8 117.6h0M294.0 109.5h0M280.7 126.1h0M288.6 133.1h0M430.3 103.1h0M432.8 113.1h0M279.0 112.3h0M280.8 104.5h0" stroke="#f7c450"/>
<path d="M432.3 119.8h0M413.0 122.7h0M110.0 116.6h0M428.2 117.3h0M427.7 105.3h0M404.5 123.0h0M432.8 117.8h0M380.3 98.5h0M280.9 127.9h0M422.5 100.3h0M428.6 107.2h0M425.6 112.5h0M402.6 117.5h0" stroke="#f6ba52"/>
<path d="M431.4 105.8h0M130.6 139.2h0M422.9 107.1h0M398.4 110.9h0M267.9 106.3h0M285.0 115.8h0M426.6 117.5h0M432.7 117.4h0M276.9 110.7h0M398.0 111.6h0M429.5 113.1h0M124.6 146.8h0M417.6 97.1h0M127.9 145.3h0M277.7 115.3h0" stroke="#f6b054"/>
<path d="M287.2 103.1h0M403.6 122.2h0M432.9 111.6h0M424.1 98.5h0M283.5 113.2h0M278.8 85.9h0M408.3 124.9h0M432.3 113.3h0M405.9 124.7h0M428.3 112.8h0M423.2 99.4h0M288.3 128.8h0M277.4 120.0h0M278.8 135.1h0" stroke="#f5a656"/>
<path d="M278.1 115.4h0M405.0 123.1h0M286.1 116.9h0M430.2 99.2h0M422.9 93.9h0M414.2 128.2h0M273.4 86.2h0M427.1 120.3h0" stroke="#f49c58"/>
<path d="M300.8 107.7h0M426.9 115.8h0M266.1 90.8h0M405.9 89.6h0M263.0 95.0h0M284.0 124.2h0M276.4 111.5h0M408.8 123.1h0M291.4 119.2h0M292.1 120.1h0M422.3 94.2h0M276.2 109.6h0" stroke="#f39052"/>
<path d="M429.8 100.6h0M295.6 105.9h0M414.3 103.8h0M423.1 107.6h0M423.9 91.2h0M430.0 102.6h0M415.7 99.2h0M433.0 100.6h0M290.5 112.7h0M396.2 114.4h0M428.3 113.6h0M279.9 113.3h0M428.9 104.6h0" stroke="#f2844c"/>
<path d="M422.3 89.8h0M429.5 121.7h0M426.9 97.1h0M431.1 118.8h0M391.5 105.9h0M271.3 107.8h0M427.7 91.2h0M279.7 131.6h0M284.1 119.3h0M419.0 100.2h0M413.5 108.0h0" stroke="#f17846"/>
<path d="M377.8 70.7h0M394.5 105.3h0M408.9 126.5h0M405.4 122.8h0M431.4 107.5h0M401.7 117.5h0M410.7 121.9h0M424.0 99.9h0M421.7 113.5h0M413.7 113.2h0M413.9 128.4h0M307.2 91.9h0M293.3 118.4h0" stroke="#f06c40"/>
<path d="M425.6 85.2h0M419.4 115.6h0M426.6 98.7h0M295.9 108.0h0M406.9 122.6h0M299.1 105.3h0M293.8 107.2h0M285.2 130.2h0" stroke="#ee613d"/>
<path d="M408.8 114.0h0M430.1 105.4h0M416.3 117.8h0M279.4 122.7h0M428.5 91.4h0M393.1 90.9h0M412.4 128.8h0" stroke="#ec563a"/>
<path d="M411.1 118.8h0M412.4 95.2h0M420.7 93.9h0M413.5 112.3h0M388.4 106.8h0M300.7 113.4h0M426.9 89.8h0M426.3 112.4h0M277.3 131.7h0M292.8 120.2h0M297.7 114.2h0" stroke="#e94b37"/>
<path d="M400.8 111.7h0M419.3 98.2h0M385.8 62.8h0M300.1 71.2h0M302.0 125.4h0M417.7 104.5h0M287.4 128.0h0M302.9 118.1h0M418.3 94.5h0" stroke="#e74034"/>
<path d="M420.1 85.4h0M421.3 93.6h0M419.6 96.3h0M425.6 105.0h0M407.8 113.9h0M419.6 89.8h0M409.6 83.0h0M421.6 118.9h0M414.9 106.7h0" stroke="#e43633"/>
<path d="M281.7 136.5h0M427.6 97.9h0M428.3 90.1h0M409.7 127.9h0M410.5 119.8h0M301.7 116.3h0M399.3 106.0h0M409.5 127.9h0M419.0 93.6h0" stroke="#e12f36"/>
<path d="M387.2 85.1h0M425.7 93.5h0M428.9 91.9h0M431.0 98.4h0M424.0 108.3h0M417.0 118.0h0M412.6 113.7h0M376.8 98.0h0M416.3 121.0h0M416.9 128.6h0M415.8 106.2h0M422.8 101.5h0M416.3 111.2h0" stroke="#dd2738"/>
<path d="M422.2 95.2h0M423.9 92.1h0M426.8 112.7h0M279.5 126.2h0M413.2 82.9h0M419.7 114.7h0M426.1 99.9h0M417.0 88.5h0M423.9 92.6h0M417.8 114.0h0" stroke="#da203b"/>
<path d="M400.5 118.6h0M411.5 114.8h0M422.7 116.0h0M256.7 76.4h0M295.4 115.2h0M418.8 90.6h0M415.6 111.8h0M420.1 126.6h0" stroke="#d11b3c"/>
<path d="M429.7 112.7h0M430.8 113.0h0M411.7 108.2h0M403.4 106.6h0M390.6 109.7h0M424.2 111.6h0M405.0 99.2h0M424.5 88.3h0M312.9 107.7h0" stroke="#c3183d"/>
<path d="M417.1 94.0h0M405.3 116.5h0M410.6 107.3h0M420.5 85.0h0M423.6 86.0h0M306.6 119.5h0" stroke="#b6153d"/>
<path d="M421.0 108.5h0" stroke="#a8123e"/>
<path d="M148.6 131.4h0M262.4 55.8h0M137.5 62.4h0M140.6 58.8h0M142.5 57.3h0M166.4 147.8h0M148.1 101.8h0M257.9 57.8h0M263.1 53.5h0M259.9 52.7h0M378.7 55.8h0M285.6 136.9h0M150.6 123.7h0M273.4 124.6h0M163.9 147.4h0M135.3 59.4h0M162.9 146.7h0M147.6 131.1h0M148.9 122.8h0M142.7 58.0h0M151.1 123.2h0M152.1 127.3h0M164.5 147.3h0M390.4 122.2h0M268.2 132.9h0M260.4 58.3h0M148.6 130.3h0M151.8 132.1h0M137.2 97.1h0M385.6 123.0h0M271.9 123.6h0M144.0 59.0h0M273.1 134.0h0M140.2 62.7h0M283.2 149.7h0M261.8 62.1h0M150.4 126.3h0M389.1 123.7h0M168.9 147.7h0M280.7 147.5h0M258.7 50.2h0M163.4 147.7h0M151.2 129.7h0M259.3 52.9h0M141.3 54.5h0M260.9 52.7h0M149.1 124.6h0M274.3 130.1h0M150.6 123.3h0M138.6 61.0h0M269.4 131.2h0M284.1 145.2h0M138.1 57.8h0M146.9 102.1h0M257.4 55.6h0M162.7 145.9h0M260.4 52.9h0M145.2 52.6h0M271.7 127.4h0M293.9 106.7h0M272.0 122.8h0M170.9 140.0h0M135.0 61.0h0M274.3 128.7h0M152.2 122.0h0M259.7 63.2h0M154.1 131.9h0M143.9 60.3h0M262.4 57.2h0M138.4 61.1h0M261.4 55.4h0" stroke="#5646a4"/>
<path d="M139.9 57.2h0M277.3 145.8h0M271.0 133.8h0M259.5 57.0h0M268.3 127.4h0M163.8 142.4h0M140.6 61.3h0M128.5 84.4h0M400.1 147.6h0M115.1 130.1h0M263.1 51.0h0M402.9 148.8h0M135.5 68.2h0M262.1 61.0h0M146.5 131.0h0M144.4 51.6h0M391.8 128.0h0M289.5 128.3h0M260.8 52.3h0M137.8 65.0h0M149.0 136.6h0M269.0 132.6h0M147.2 133.5h0M145.0 53.3h0M139.6 95.4h0M288.8 129.6h0M267.8 125.7h0M153.8 124.4h0M389.9 127.6h0M399.1 147.8h0M134.5 97.4h0M136.7 63.7h0M262.3 54.2h0M393.3 141.9h0M168.3 146.9h0M143.0 51.4h0M272.0 75.9h0M149.3 133.9h0M153.7 125.9h0M271.5 125.0h0M168.2 145.2h0M140.1 58.6h0M146.3 52.2h0" stroke="#504ea9"/>
<path d="M141.5 60.9h0M141.1 58.8h0M267.1 133.4h0M396.8 141.7h0M150.6 126.0h0M141.6 51.8h0M159.9 143.5h0M153.4 94.3h0M152.2 77.6h0M150.4 106.9h0M287.2 106.5h0M137.9 63.8h0M401.1 149.3h0M416.4 136.7h0M282.6 148.4h0M137.8 62.4h0M147.0 73.6h0M149.6 63.5h0M276.2 142.9h0M405.1 139.3h0M408.4 129.1h0M147.2 74.4h0M272.8 125.7h0M140.1 58.1h0M115.1 109.1h0" stroke="#4b56ae"/>
<path d="M160.4 113.3h0M142.2 115.8h0M125.5 80.8h0M113.6 100.7h0M277.1 126.5h0M120.6 85.6h0M140.4 76.3h0M259.4 79.6h0M272.1 123.4h0M139.3 68.4h0M263.4 55.0h0M277.4 120.0h0M386.9 134.5h0M109.8 92.0h0M274.8 124.3h0M132.1 64.5h0M274.3 124.3h0M289.8 61.2h0M399.4 146.3h0M274.1 129.6h0M137.6 83.4h0M136.8 66.0h0M377.0 80.5h0M126.4 101.4h0M126.4 129.9h0M297.1 142.5h0M147.0 75.2h0M386.8 124.9h0M132.0 63.6h0M266.1 94.0h0M276.7 142.1h0M131.8 108.8h0" stroke="#445fb1"/>
<path d="M401.2 146.5h0M119.8 117.0h0M131.1 67.5h0M401.3 144.9h0M139.5 65.4h0M400.7 150.1h0M403.3 137.8h0M135.5 128.6h0M136.4 124.1h0M134.3 77.5h0M120.5 117.2h0M115.2 114.9h0M141.3 105.2h0M117.4 106.1h0M296.4 146.8h0M131.2 119.9h0M131.2 103.4h0M124.3 127.1h0M175.3 140.5h0M130.3 121.2h0M135.5 112.6h0M395.6 145.5h0M283.0 143.2h0M388.6 134.5h0M135.2 66.0h0M391.4 127.4h0M402.8 148.2h0M129.6 73.2h0M161.4 142.7h0M281.7 71.9h0M408.4 137.5h0M283.8 93.8h0M115.6 93.2h0M136.8 116.6h0M388.5 127.3h0M270.7 133.7h0M291.6 68.3h0M390.1 135.2h0M162.2 141.6h0M107.0 110.1h0M119.2 124.4h0M124.8 124.0h0M388.3 129.9h0M129.4 135.9h0M143.6 104.9h0" stroke="#3e68b4"/>
<path d="M383.3 126.7h0M120.0 80.9h0M133.5 107.1h0M134.8 115.9h0M176.7 143.9h0M108.0 96.7h0M120.9 95.6h0M172.3 143.4h0M127.3 81.3h0M118.5 93.8h0M133.4 119.2h0M112.5 88.6h0M130.0 118.4h0M118.5 84.0h0M126.2 91.5h0M133.6 120.3h0M275.8 121.2h0M392.0 134.8h0M128.8 87.4h0M294.5 142.6h0M115.0 87.6h0M405.8 141.5h0M269.8 124.6h0M118.9 86.3h0M123.7 111.8h0M299.0 136.9h0M291.6 136.2h0M131.7 67.3h0M113.4 97.1h0M124.1 136.7h0M122.7 144.4h0M142.8 92.6h0M126.7 87.4h0M118.0 102.3h0M117.0 125.1h0M135.0 113.0h0M118.2 87.6h0M113.6 89.1h0M117.3 85.1h0M116.2 118.2h0M131.7 65.1h0M128.3 123.0h0M391.5 126.8h0M120.5 123.5h0M399.7 151.5h0M121.6 125.8h0M117.2 85.9h0M132.1 75.8h0M120.3 105.4h0M121.7 120.3h0M105.9 93.4h0M120.9 133.6h0M113.2 114.1h0M119.6 113.9h0M283.6 146.8h0M174.2 139.3h0M120.6 122.1h0M117.8 87.6h0M121.7 110.7h0M130.3 121.8h0M129.4 131.2h0M393.3 124.4h0M138.1 69.0h0M125.3 99.1h0M117.9 125.6h0M125.8 99.7h0M130.5 127.3h0M128.1 124.2h0M129.8 68.8h0M141.2 97.0h0M127.4 113.2h0M117.0 95.0h0M121.1 129.1h0M134.3 90.7h0M267.9 129.7h0M114.0 111.7h0M137.0 128.2h0M128.0 121.5h0M122.2 91.7h0M136.5 68.4h0" stroke="#3671b7"/>
<path d="M122.1 100.5h0M106.5 104.6h0M386.2 125.1h0M123.2 131.7h0M272.3 87.5h0M113.9 105.9h0M122.8 92.5h0M135.2 125.0h0M129.1 129.2h0M128.4 121.4h0M278.1 99.8h0M123.2 118.3h0M110.8 102.5h0M131.0 133.7h0M115.9 96.8h0M119.7 91.1h0M179.5 147.1h0M114.4 111.0h0M111.5 111.7h0M291.8 76.2h0M111.5 112.4h0M120.7 110.1h0M118.1 95.6h0M301.6 137.8h0M123.8 85.7h0M108.4 98.6h0M121.8 121.8h0M108.9 98.5h0M123.2 135.6h0M130.9 67.6h0M109.2 103.8h0M120.6 97.8h0M120.5 86.6h0M114.8 118.6h0M117.6 97.4h0M399.4 148.4h0M126.4 107.4h0M118.5 111.5h0M141.9 92.3h0M173.5 128.2h0M128.0 104.5h0M127.3 86.9h0M134.7 127.7h0M408.1 133.3h0M123.3 116.2h0M127.8 109.4h0M119.6 129.7h0M131.8 109.0h0M176.0 148.6h0M115.0 106.1h0M121.2 116.8h0M255.6 55.0h0M119.8 88.1h0M123.0 116.3h0M132.3 116.8h0M115.6 99.9h0M129.4 93.6h0M115.0 100.8h0M125.3 100.5h0M384.9 127.9h0M107.1 105.4h0M119.0 106.2h0M133.8 118.7h0M412.8 138.6h0M137.9 99.8h0M280.0 118.8h0M172.3 139.4h0M128.6 91.8h0M282.6 68.3h0M122.5 108.2h0M114.5 111.2h0M131.5 117.3h0M108.5 105.5h0M128.8 112.9h0M135.7 112.9h0M291.6 89.7h0M406.8 145.3h0M396.3 147.9h0M126.7 116.9h0M143.0 96.9h0M129.3 95.2h0M121.5 130.6h0M110.0 109.6h0M136.5 115.7h0M129.3 93.3h0M119.7 131.4h0M113.6 91.3h0M135.9 82.6h0M130.1 119.2h0M122.4 111.1h0M175.4 147.9h0M125.6 116.5h0M114.4 116.1h0M132.4 89.8h0M136.3 109.6h0M120.9 101.6h0M121.5 103.7h0M123.4 91.5h0M107.9 134.3h0M109.9 95.1h0" stroke="#327bb8"/>
<path d="M137.3 120.8h0M104.1 99.8h0M113.5 86.9h0M114.6 98.9h0M112.1 114.4h0M125.0 127.2h0M137.0 121.8h0M299.4 129.9h0M119.2 111.5h0M123.0 83.8h0M120.5 128.8h0M118.2 91.8h0M124.3 87.5h0M121.8 83.1h0M130.3 105.7h0M412.5 144.7h0M128.6 86.6h0M110.6 87.1h0M108.5 110.4h0M119.9 102.5h0M128.3 129.7h0M114.6 117.0h0M132.1 112.6h0M118.8 86.7h0M118.5 94.2h0M126.3 138.4h0M123.6 125.0h0M142.1 68.5h0M127.1 111.8h0M119.7 89.0h0M140.8 90.9h0M393.5 143.0h0M292.6 145.6h0M137.6 126.1h0M156.9 104.6h0M401.1 145.9h0M108.8 96.8h0M118.7 110.7h0M282.2 121.8h0M107.5 103.6h0M115.4 92.5h0M409.8 142.5h0M113.8 85.4h0M112.7 90.8h0M121.9 106.2h0M112.6 89.6h0M132.8 119.2h0M123.7 86.9h0M131.4 133.8h0M123.3 111.5h0M123.1 129.3h0M130.2 112.0h0M140.1 105.3h0M127.2 82.8h0M172.0 149.2h0M297.0 144.2h0M122.7 96.2h0M171.9 148.0h0M120.7 105.6h0M131.0 103.1h0M128.7 105.1h0M129.1 95.1h0M133.3 109.5h0M119.8 100.1h0M176.4 148.5h0M124.1 115.2h0M111.5 113.5h0M129.6 135.3h0M120.5 124.1h0M120.4 105.5h0M122.3 98.4h0M135.0 114.9h0M126.9 102.3h0M114.9 94.0h0M130.9 106.8h0M404.1 136.9h0M124.3 131.5h0M131.0 102.6h0M103.8 102.4h0M173.7 146.4h0M108.5 128.9h0M384.5 129.3h0M115.4 116.6h0M121.6 98.1h0M298.3 136.3h0M125.2 102.6h0" stroke="#3184b7"/>
<path d="M137.1 107.1h0M110.8 105.7h0M115.5 88.3h0M111.4 93.5h0M390.6 124.7h0M388.0 130.8h0M128.5 100.5h0M171.3 139.7h0M118.1 124.0h0M118.1 112.2h0M142.0 69.1h0M116.4 115.2h0M135.5 115.7h0M140.9 104.4h0M135.1 107.1h0M128.2 95.8h0M127.6 89.8h0M118.4 110.0h0M393.3 144.7h0M137.1 83.4h0M119.5 139.6h0M126.1 131.2h0M135.8 126.1h0M179.8 137.7h0M124.2 135.0h0M130.4 118.9h0M159.6 125.4h0M160.6 144.3h0M138.0 117.5h0M120.9 122.9h0M132.1 84.5h0M137.4 65.2h0M114.9 94.3h0M103.5 102.3h0M119.4 113.1h0M118.6 101.8h0M170.2 144.8h0M118.8 125.1h0M175.1 140.8h0M300.6 108.3h0M171.9 146.3h0M134.1 109.0h0M114.3 99.3h0M121.7 88.3h0M135.0 108.2h0M135.6 110.8h0M126.6 107.7h0M406.7 145.0h0M125.9 127.8h0M141.5 76.1h0M115.7 91.9h0M122.6 88.7h0M262.0 65.7h0M131.3 118.9h0M129.9 126.5h0M116.8 120.6h0M139.4 102.3h0M120.2 105.7h0M271.4 113.9h0M128.0 131.7h0M121.3 106.6h0M137.6 114.7h0" stroke="#308eb6"/>
<path d="M133.7 119.3h0M120.9 124.9h0M121.6 97.7h0M410.4 137.9h0M123.4 134.0h0M112.1 102.2h0M120.8 118.8h0M273.4 84.3h0M128.9 88.7h0M128.1 96.2h0M293.6 146.1h0M178.0 141.9h0M132.8 112.6h0M126.2 123.3h0M133.1 131.3h0M416.6 131.0h0M145.0 75.7h0M134.4 68.7h0M121.2 128.4h0M118.7 100.9h0M139.1 117.9h0M134.6 124.7h0M130.2 119.7h0M128.0 117.1h0M274.8 130.7h0M415.5 134.6h0M123.7 103.8h0M111.1 86.9h0M123.4 81.4h0M117.0 107.2h0M121.5 80.9h0M130.6 92.9h0M132.3 132.4h0M123.5 80.1h0M116.6 109.0h0" stroke="#3599b4"/>
<path d="M133.0 86.8h0M289.8 83.4h0M142.9 67.0h0M141.6 84.9h0M136.6 83.9h0M123.3 116.2h0M140.4 112.7h0M138.9 124.6h0M143.2 81.6h0M129.2 106.4h0M383.5 67.2h0M116.4 105.0h0M404.8 137.0h0M125.5 103.0h0M145.9 89.4h0M126.8 130.3h0M178.0 143.1h0M119.2 130.3h0M122.5 128.5h0M119.8 94.6h0M135.7 73.0h0M291.5 91.3h0M126.4 102.3h0M295.4 141.9h0M294.5 144.9h0M120.8 123.1h0M118.3 101.9h0M142.7 99.8h0M281.6 85.3h0M127.5 122.2h0M269.2 101.9h0M109.7 98.6h0M282.2 84.4h0M106.9 108.8h0M112.6 126.4h0" stroke="#42a4af"/>
<path d="M269.3 104.2h0M286.3 85.9h0M410.7 131.1h0M284.4 88.4h0M410.9 133.9h0M275.7 101.2h0M280.9 77.4h0M140.5 97.0h0M122.9 124.4h0M126.2 103.3h0M290.6 90.1h0M180.8 138.8h0M296.7 136.8h0M287.9 95.4h0M269.8 87.5h0M119.0 140.1h0M292.5 110.3h0M115.6 141.1h0M270.1 83.4h0M147.0 90.3h0M270.5 78.3h0M107.1 109.1h0M179.3 143.5h0M275.4 106.2h0M109.9 116.8h0M292.0 75.5h0M273.1 89.4h0M137.9 72.4h0M293.9 83.1h0M171.8 142.3h0M297.8 80.8h0M297.7 78.8h0M136.4 107.0h0M282.5 69.4h0M281.0 100.3h0M292.0 141.6h0M283.1 108.5h0M286.8 111.6h0M284.8 62.3h0M296.4 128.1h0M279.8 108.9h0M128.0 136.5h0M137.9 90.2h0M298.8 138.1h0M300.1 109.5h0M183.5 135.1h0M296.4 91.8h0" stroke="#4fb0ab"/>
<path d="M269.9 112.2h0M298.7 90.1h0M432.3 84.7h0M412.1 130.4h0M141.2 78.1h0M113.1 133.1h0M280.1 99.1h0M116.2 135.9h0M292.1 75.8h0M272.8 111.1h0M163.1 122.6h0M278.8 79.5h0M268.9 110.8h0M111.8 123.6h0M288.0 84.4h0M144.5 70.9h0M410.2 137.9h0M180.0 135.8h0M290.1 99.4h0M129.3 139.5h0M266.3 95.5h0M294.2 115.3h0M142.4 115.3h0M299.0 131.0h0M290.0 90.0h0M291.7 75.5h0M268.6 110.3h0M294.2 119.4h0M293.5 90.0h0M131.0 70.6h0M143.0 99.9h0M137.4 77.1h0M271.4 91.5h0M123.5 143.3h0M279.2 72.0h0M126.1 147.6h0" stroke="#5cbba6"/>
<path d="M299.3 113.3h0M299.4 139.7h0M278.5 77.8h0M293.2 113.0h0M299.2 125.7h0M133.9 87.8h0M298.4 132.6h0M277.9 117.8h0M280.3 102.3h0M289.2 75.5h0M272.8 102.7h0M124.7 97.8h0M276.3 113.8h0M286.6 112.2h0M269.8 99.4h0M141.7 71.1h0M432.3 84.5h0M299.3 134.8h0M288.0 103.0h0M296.0 69.2h0M277.0 97.1h0M293.5 99.5h0M276.6 100.0h0M268.7 90.8h0M290.0 82.1h0M299.0 116.5h0M109.6 112.4h0M278.6 74.0h0M402.7 139.8h0M279.4 83.4h0M289.6 77.5h0M295.0 123.8h0" stroke="#6ec2a6"/>
<path d="M268.3 85.8h0M290.3 107.2h0M295.6 120.3h0M291.1 82.8h0M429.9 103.9h0M413.1 139.2h0M297.8 79.3h0M409.2 128.3h0M144.6 84.0h0M295.5 91.6h0M285.4 71.9h0M271.8 112.6h0M281.8 93.0h0M271.4 78.2h0M281.7 65.7h0M296.9 81.5h0M139.3 95.4h0M270.6 81.5h0M291.7 110.1h0M288.2 86.6h0M149.0 78.9h0M296.8 123.1h0M114.6 125.4h0M271.9 90.2h0M143.4 110.2h0M281.1 117.7h0M290.2 67.2h0M296.5 72.7h0M278.8 67.3h0M292.4 119.1h0M179.2 136.6h0M284.1 124.4h0M105.4 110.1h0M146.0 88.2h0M297.2 129.8h0M292.0 70.9h0M277.0 73.1h0M148.0 99.9h0M292.7 136.2h0M300.3 113.2h0M270.0 93.5h0M294.8 69.1h0M270.7 84.1h0M118.1 140.0h0M288.9 81.8h0M275.3 113.6h0" stroke="#80caa5"/>
<path d="M287.9 108.8h0M121.5 99.3h0M283.7 75.2h0M287.1 117.0h0M281.7 74.1h0M134.6 119.5h0M277.3 110.6h0M109.8 125.5h0M276.0 92.5h0M288.5 72.1h0M300.0 114.1h0M285.4 114.9h0M278.6 103.8h0M288.9 61.0h0M108.7 111.6h0M108.6 110.9h0M109.2 127.5h0M114.7 143.1h0M295.8 102.4h0M290.3 73.5h0M112.9 136.6h0M283.8 72.0h0M297.0 128.3h0M290.1 76.7h0M287.9 94.1h0M270.4 78.1h0M272.4 87.2h0M434.7 88.7h0M266.4 95.0h0M300.0 133.4h0M142.3 107.5h0M288.6 82.5h0M170.4 115.6h0M297.6 78.8h0M285.8 102.8h0M294.1 113.4h0M284.0 121.3h0M289.2 89.2h0M272.5 98.0h0" stroke="#92d2a4"/>
<path d="M276.0 93.1h0M266.8 88.8h0M296.5 146.3h0M285.1 62.8h0M286.9 113.8h0M288.3 115.5h0M111.8 117.5h0M293.1 97.6h0M103.9 117.8h0M290.4 76.0h0M287.4 66.0h0M119.3 132.8h0M286.7 84.5h0M108.1 110.1h0M279.0 87.6h0M119.3 144.4h0M284.6 82.0h0M273.9 95.4h0M122.7 141.7h0M380.0 54.8h0M170.2 140.8h0M282.4 114.2h0M284.0 107.8h0M286.0 93.2h0M272.5 101.3h0M289.6 63.4h0M274.7 72.8h0M271.7 96.4h0M291.3 112.6h0M286.3 118.0h0" stroke="#a4d9a4"/>
<path d="M143.9 112.7h0M278.8 94.5h0M285.3 112.9h0M286.7 90.8h0M281.9 80.7h0M282.6 100.1h0M294.0 69.9h0M130.4 75.0h0M273.0 99.7h0M267.9 109.8h0M275.9 98.7h0M294.5 118.1h0M115.0 128.9h0M113.6 130.4h0M109.9 115.0h0M292.0 66.9h0M277.8 74.7h0M300.2 142.8h0M404.9 143.7h0M285.2 116.0h0M109.0 135.6h0M283.9 99.4h0" stroke="#b2dea2"/>
<path d="M284.0 104.3h0M295.3 105.3h0M117.0 127.6h0M262.1 81.0h0M171.6 135.7h0M107.9 121.6h0M288.4 94.7h0M170.0 127.4h0M270.5 79.3h0M109.9 130.9h0M274.1 91.8h0M291.1 77.2h0M296.1 67.8h0M113.4 135.7h0M180.3 134.5h0M268.9 80.5h0M271.9 87.8h0M284.1 93.4h0" stroke="#c0e2a0"/>
<path d="M288.8 97.7h0M280.2 97.1h0M303.3 99.0h0M179.1 133.7h0M139.5 76.9h0M405.3 138.1h0M296.9 89.3h0M302.7 114.0h0M138.8 126.7h0M124.2 143.0h0M125.8 142.5h0M411.3 129.9h0M148.4 99.6h0M136.8 105.5h0M300.0 103.3h0M287.9 86.3h0M123.4 144.4h0M294.7 81.3h0" stroke="#cee69e"/>
<path d="M288.0 92.6h0M129.8 86.6h0M286.8 84.2h0M108.1 124.7h0M285.7 116.5h0M105.3 121.5h0M152.4 108.9h0M276.4 127.3h0M295.7 74.0h0M268.4 103.0h0M281.2 103.9h0M276.1 78.8h0M141.3 75.8h0M142.2 73.0h0" stroke="#dceb9c"/>
<path d="M115.8 136.4h0M298.6 143.8h0M102.6 110.6h0M145.3 75.3h0M270.4 91.1h0M289.8 138.6h0M122.1 80.3h0M281.6 75.9h0M120.5 136.9h0M272.3 112.6h0M289.7 92.4h0M119.9 132.9h0" stroke="#e2ea89"/>
<path d="M295.9 95.6h0M300.3 86.3h0M296.1 121.4h0M284.8 103.0h0M273.4 79.9h0M284.6 105.8h0M295.4 96.9h0M234.2 93.7h0M150.6 107.3h0M111.4 122.4h0M169.1 134.8h0M111.1 136.9h0M270.4 79.1h0M274.3 109.4h0M272.6 116.7h0" stroke="#e9e876"/>
<path d="M121.1 136.0h0M282.3 111.2h0M104.6 119.1h0M274.3 88.4h0M285.0 95.7h0M140.0 113.5h0M282.8 69.2h0M274.6 94.5h0M293.5 69.9h0M118.9 145.8h0M113.3 119.9h0M144.4 79.4h0M290.4 89.5h0M272.4 101.6h0M109.9 132.7h0M275.8 75.2h0M281.5 73.2h0M290.8 81.9h0" stroke="#efe763"/>
<path d="M278.5 116.7h0M289.5 91.8h0M114.1 133.7h0M270.2 82.8h0M289.0 138.8h0M283.6 86.9h0M140.8 92.6h0M288.9 86.4h0M300.3 104.7h0M133.4 83.2h0M106.8 132.3h0M296.9 81.1h0M105.5 124.6h0M256.3 79.8h0M122.8 141.5h0M278.6 111.7h0M286.7 144.9h0M269.7 101.7h0M290.2 107.8h0M282.1 111.8h0M291.1 100.7h0M120.1 141.9h0M298.7 72.2h0M431.2 111.4h0M169.6 120.4h0M291.0 134.6h0M262.8 67.8h0M119.6 142.8h0M120.2 136.4h0M289.3 122.1h0M141.7 120.2h0M275.2 95.0h0M111.3 136.4h0M271.5 109.5h0M264.3 71.5h0M115.7 130.0h0M124.8 140.8h0M293.4 85.3h0" stroke="#f3e44e"/>
<path d="M277.5 73.9h0M273.9 112.9h0M281.7 108.3h0M290.4 78.6h0M138.0 98.6h0M139.4 79.3h0M294.8 93.8h0M273.9 117.5h0M275.4 71.3h0M140.2 88.2h0M288.0 115.0h0M282.5 82.5h0M273.8 117.7h0M135.0 99.8h0M277.0 72.1h0M269.1 94.3h0M281.3 110.7h0M277.9 113.7h0M170.0 132.8h0M132.4 78.0h0M283.8 90.5h0M275.6 89.5h0M119.8 146.4h0M111.0 119.1h0M294.6 74.1h0M268.9 81.3h0M269.6 88.4h0M167.8 128.2h0M281.3 105.5h0M102.8 117.9h0M140.5 122.5h0M278.4 71.0h0M267.2 89.0h0M295.3 118.4h0M291.4 83.9h0M298.2 115.8h0M288.9 136.9h0M104.8 119.2h0M297.3 96.3h0M287.5 85.2h0M133.5 135.5h0M279.2 118.0h0M298.8 113.7h0M273.5 89.0h0M272.8 80.6h0" stroke="#f6df37"/>
<path d="M105.6 115.4h0M285.2 99.3h0M127.0 144.8h0M295.5 97.7h0M110.4 128.5h0M270.6 113.8h0M272.2 112.9h0M280.3 110.3h0M119.7 137.0h0M120.9 134.0h0M274.7 87.4h0M293.4 70.5h0M286.2 66.9h0M290.6 69.9h0M278.0 118.7h0M298.4 83.3h0M276.9 95.8h0M110.6 138.6h0M429.7 108.6h0M296.4 95.1h0M129.1 74.5h0M272.3 116.0h0M117.3 136.7h0M134.0 75.5h0M417.6 104.3h0M288.1 90.4h0M139.6 82.3h0M159.4 115.4h0M275.6 86.2h0M121.0 137.7h0M271.4 109.7h0M276.5 117.0h0M267.4 96.7h0M292.8 97.2h0M122.7 139.4h0M292.0 71.6h0M406.3 109.7h0M286.9 71.3h0M281.1 114.5h0" stroke="#f8da20"/>
<path d="M276.2 71.9h0M275.4 114.2h0M288.3 61.4h0M129.6 143.3h0M108.8 126.2h0M256.5 81.8h0M270.7 69.3h0M294.0 67.4h0M275.9 119.6h0M103.3 109.6h0M290.2 94.0h0M132.5 77.5h0M133.4 88.8h0M294.5 121.0h0M269.4 104.4h0M400.8 109.6h0M292.2 113.3h0M130.8 140.7h0M290.5 91.0h0M272.4 84.4h0M115.0 140.7h0M261.3 83.9h0" stroke="#f8d42c"/>
<path d="M138.5 129.8h0M293.9 113.8h0M275.8 112.6h0M129.6 142.9h0M266.2 91.0h0M269.3 107.0h0M170.4 130.2h0M140.4 118.7h0M281.8 68.5h0M133.7 90.9h0M171.0 135.1h0M141.8 116.8h0M284.9 62.8h0M408.4 110.0h0M286.0 111.8h0M430.2 110.8h0M275.0 107.3h0" stroke="#f8cf38"/>
<path d="M284.9 118.0h0M296.5 69.3h0M114.0 121.9h0M286.7 117.0h0M282.5 73.8h0M432.0 100.6h0M125.5 144.6h0M274.4 112.6h0M255.7 75.8h0M283.7 87.5h0M294.5 124.6h0M281.6 100.8h0M284.5 128.5h0" stroke="#f7ca44"/>
<path d="M271.6 78.9h0M273.8 113.6h0M269.6 111.3h0M308.7 85.0h0M422.8 123.5h0M421.4 121.1h0M278.4 114.2h0M426.3 94.2h0M412.3 102.9h0M282.6 119.3h0M104.1 119.0h0M275.0 117.0h0" stroke="#f7c450"/>
<path d="M427.8 114.0h0M285.4 101.8h0M159.4 123.6h0M432.5 107.7h0M432.2 111.8h0M282.7 115.3h0M273.0 75.2h0M287.8 80.0h0" stroke="#f6ba52"/>
<path d="M269.7 112.4h0M286.9 98.9h0M417.0 111.3h0M412.2 104.5h0M280.3 110.2h0M429.4 102.5h0M417.1 121.7h0M138.5 99.4h0M303.3 92.8h0M273.7 108.9h0M150.4 87.0h0M429.1 119.1h0" stroke="#f6b054"/>
<path d="M411.8 125.0h0M293.8 116.3h0M126.6 144.7h0M430.0 101.8h0M429.8 97.2h0M419.2 125.8h0M261.2 86.3h0M429.1 97.9h0M282.6 133.5h0M300.7 98.3h0M426.1 111.9h0M415.8 103.2h0M287.2 135.5h0M421.2 94.8h0M281.8 83.5h0" stroke="#f5a656"/>
<path d="M415.3 98.2h0M275.5 111.3h0M397.3 110.7h0M429.6 118.5h0M293.6 115.8h0M415.3 113.4h0M283.4 136.1h0M421.6 95.1h0M422.4 96.5h0M398.5 84.3h0M411.2 105.2h0M416.8 111.4h0M125.1 144.0h0" stroke="#f49c58"/>
<path d="M430.5 111.1h0M417.9 89.7h0M401.4 113.7h0M407.8 125.0h0M282.4 133.1h0M414.7 110.6h0M431.4 116.7h0M269.8 67.9h0M268.6 70.9h0M386.5 88.0h0M428.9 119.4h0M418.1 86.2h0M418.3 114.3h0M428.6 118.1h0M286.6 136.2h0" stroke="#f39052"/>
<path d="M276.1 126.6h0M417.1 124.8h0M427.7 105.5h0M272.4 75.8h0M286.0 132.3h0M407.5 119.3h0M428.8 99.9h0M430.8 107.5h0M293.5 114.4h0M419.2 103.8h0M420.0 93.9h0M285.6 119.5h0M431.0 106.8h0M421.2 115.1h0M429.0 101.7h0" stroke="#f2844c"/>
<path d="M422.7 85.0h0M276.1 106.0h0M295.8 112.7h0M276.3 119.3h0M126.6 142.7h0M432.6 99.8h0M423.5 89.9h0M399.4 118.8h0M432.9 116.7h0M418.1 105.5h0M270.7 104.5h0M405.2 119.7h0" stroke="#f17846"/>
<path d="M415.8 103.2h0M412.7 86.9h0M310.6 103.7h0M415.8 102.8h0M276.6 108.7h0M411.0 126.1h0M418.3 113.2h0M430.5 106.9h0M417.7 127.4h0M417.1 116.4h0" stroke="#f06c40"/>
<path d="M429.0 101.2h0M400.1 78.7h0M425.9 89.1h0M428.3 116.7h0M410.4 109.2h0M423.2 105.3h0M410.9 110.1h0M419.3 124.1h0M427.9 95.6h0M387.8 79.2h0" stroke="#ee613d"/>
<path d="M293.0 108.9h0M396.2 64.2h0M377.6 85.6h0M420.8 111.7h0M406.8 109.1h0M273.7 117.3h0M424.5 110.8h0M416.7 101.2h0M417.1 101.8h0M406.4 126.2h0" stroke="#ec563a"/>
<path d="M422.5 94.0h0M417.1 105.9h0M411.3 127.9h0M285.6 133.8h0M426.3 92.7h0M416.1 82.0h0M418.7 109.4h0M405.6 117.5h0M419.1 98.1h0M429.6 104.2h0M430.5 104.0h0" stroke="#e94b37"/>
<path d="M427.8 104.5h0M429.8 112.6h0M386.9 103.7h0M300.4 74.7h0M377.9 83.8h0M298.6 111.1h0M410.5 104.6h0M416.4 122.9h0" stroke="#e74034"/>
<path d="M400.2 119.8h0M417.2 97.4h0M398.1 104.9h0M293.2 113.2h0M376.9 83.8h0M257.4 67.4h0M415.8 96.8h0" stroke="#e43633"/>
<path d="M427.4 108.2h0M422.2 94.6h0M277.8 124.1h0M413.4 120.8h0M413.4 129.4h0M430.2 105.7h0M376.6 80.4h0M255.6 78.8h0M306.3 102.9h0" stroke="#e12f36"/>
<path d="M421.0 115.8h0M297.3 100.1h0M423.8 110.3h0M412.8 107.3h0M304.1 120.2h0M424.7 110.4h0M375.3 78.3h0" stroke="#dd2738"/>
<path d="M426.2 108.3h0M377.8 97.8h0M418.3 93.9h0M423.9 93.6h0M422.7 92.2h0M426.4 123.7h0M413.5 113.2h0M424.1 115.7h0M408.5 110.6h0M426.5 102.6h0M303.6 125.1h0" stroke="#da203b"/>
<path d="M416.7 89.3h0M430.4 96.2h0M387.5 104.1h0M410.5 105.1h0M426.9 111.1h0M422.4 90.8h0M404.3 112.4h0M422.5 104.3h0" stroke="#d11b3c"/>
<path d="M430.5 102.4h0M411.3 103.9h0M429.0 99.7h0M404.4 116.5h0M424.1 93.5h0M424.3 88.2h0M420.4 124.4h0M412.1 109.1h0" stroke="#c3183d"/>
<path d="M302.7 111.6h0M419.4 107.8h0M301.6 78.5h0M423.4 110.2h0M395.0 71.4h0" stroke="#a8123e"/>
<path d="M272.5 132.2h0M259.5 54.2h0M279.5 148.1h0M151.4 132.9h0M168.0 126.3h0M274.2 132.4h0M289.2 128.0h0M150.4 125.4h0M135.6 58.2h0M138.8 64.0h0M146.2 55.4h0M279.9 145.7h0M389.2 121.3h0M283.4 144.7h0M150.9 133.3h0M154.9 89.9h0M276.6 140.9h0M258.3 56.4h0M397.4 144.1h0M149.1 129.1h0M147.0 135.5h0M387.6 123.6h0M152.0 125.8h0M138.2 58.8h0M270.8 128.2h0M150.5 134.3h0M254.4 56.8h0M149.7 132.2h0M154.5 132.5h0M146.1 54.9h0M132.6 64.7h0M151.8 131.2h0M390.1 122.4h0M132.1 87.8h0M152.3 134.0h0M146.6 52.5h0M378.5 51.2h0M148.2 74.8h0M278.2 144.9h0M258.3 56.2h0M139.5 55.0h0M163.6 145.1h0M152.2 131.1h0M259.6 58.0h0M268.5 126.7h0M149.9 128.9h0M146.6 132.6h0M260.1 54.2h0M394.0 132.3h0M151.9 132.3h0M283.2 141.6h0M282.2 120.8h0M154.6 131.8h0M257.5 53.8h0M263.2 55.9h0M143.0 56.8h0M140.3 56.5h0M153.3 124.4h0M284.0 148.4h0M389.2 129.5h0M379.9 54.4h0M267.6 129.0h0M162.1 143.0h0M390.6 131.1h0M271.6 125.6h0M270.0 137.1h0M270.2 136.5h0M136.1 60.8h0M154.3 131.5h0M152.3 126.6h0M260.7 55.5h0M257.8 58.6h0M146.0 56.4h0M144.4 55.9h0M153.2 135.2h0M260.1 59.9h0M275.7 126.1h0M150.4 129.8h0M255.9 56.7h0M268.8 135.5h0M284.2 146.3h0M260.8 57.9h0M137.4 64.0h0M269.2 129.1h0M279.4 124.9h0M141.0 62.4h0M259.3 50.7h0M404.7 142.4h0M257.8 54.2h0M134.0 63.9h0M153.2 128.3h0M278.6 141.2h0M263.4 53.5h0" stroke="#5646a4"/>
<path d="M144.4 50.0h0M301.6 101.5h0M259.7 61.4h0M140.6 57.1h0M399.3 151.5h0M271.1 123.4h0M257.8 52.7h0M271.8 129.8h0M257.7 57.6h0M388.0 132.6h0M138.0 60.8h0M134.9 65.1h0M166.8 145.5h0M255.4 55.9h0M145.5 57.1h0M274.2 117.1h0M135.0 63.5h0M153.5 132.8h0M136.7 62.9h0M150.3 132.6h0M377.1 88.0h0M144.5 107.7h0M144.5 57.1h0M286.8 124.5h0M137.9 55.8h0M263.1 61.2h0M377.4 87.0h0" stroke="#504ea9"/>
<path d="M284.3 136.0h0M294.5 142.8h0M145.5 52.5h0M387.1 123.9h0M135.7 60.2h0M268.3 133.1h0M159.0 142.3h0M132.9 65.7h0M384.6 125.9h0M152.4 98.7h0M163.6 144.1h0M396.0 141.4h0M395.2 144.3h0M167.7 123.3h0M260.3 75.5h0M396.5 142.2h0M262.6 61.0h0M257.4 67.4h0M393.2 142.2h0M282.2 148.7h0M274.7 126.2h0M170.8 140.8h0M134.1 60.5h0M168.8 131.6h0M142.6 61.3h0M174.3 132.8h0M270.5 105.0h0M386.7 130.6h0M386.9 130.8h0M297.2 101.3h0M289.4 128.6h0M137.4 67.9h0M259.2 53.5h0M267.2 84.4h0M393.6 126.6h0M145.8 53.9h0" stroke="#4b56ae"/>
<path d="M176.6 136.6h0M389.3 124.1h0M107.6 97.9h0M132.9 132.1h0M135.3 65.3h0M114.0 85.6h0M275.3 123.8h0M387.3 121.9h0M122.7 89.2h0M275.8 96.8h0M136.4 69.5h0M169.0 132.7h0M143.4 104.3h0M171.2 148.9h0M116.1 100.9h0M111.2 112.4h0M291.0 92.2h0M274.0 129.4h0M133.8 64.5h0M393.3 144.3h0M134.8 108.8h0M394.9 147.6h0M272.2 126.0h0M174.2 148.9h0M139.6 83.3h0M115.2 121.9h0M116.3 100.5h0M174.7 119.5h0M285.1 97.2h0" stroke="#445fb1"/>
<path d="M134.4 84.8h0M115.4 102.7h0M143.4 107.0h0M393.5 128.6h0M112.5 93.6h0M140.7 66.8h0M174.0 118.8h0M375.6 78.0h0M145.6 87.8h0M129.9 125.7h0M119.9 98.6h0M135.2 74.6h0M387.6 130.2h0M119.9 91.4h0M133.3 93.8h0M406.4 137.4h0M299.1 140.3h0M113.1 94.5h0M123.4 142.6h0M391.7 132.7h0M386.9 132.4h0M393.9 127.8h0M119.6 97.9h0M133.0 68.6h0M117.1 119.4h0M128.1 130.7h0M123.7 112.4h0M151.3 110.4h0M300.3 133.4h0M131.6 110.5h0M174.5 120.8h0M143.4 79.6h0" stroke="#3e68b4"/>
<path d="M119.6 111.6h0M113.5 117.5h0M271.1 86.0h0M135.4 114.4h0M127.1 135.9h0M172.9 142.8h0M117.7 114.1h0M118.4 103.3h0M130.8 132.1h0M116.2 110.8h0M126.4 103.6h0M122.8 131.1h0M108.0 105.9h0M126.2 112.2h0M396.4 141.5h0M107.2 126.0h0M127.0 83.9h0M399.1 141.0h0M123.0 131.9h0M136.0 72.7h0M116.1 107.0h0M411.9 133.3h0M272.3 77.1h0M135.0 114.3h0M410.0 137.6h0M142.4 87.3h0M166.8 95.8h0M108.4 89.0h0M400.2 142.1h0M105.2 96.9h0M160.0 141.2h0M134.2 113.6h0M298.6 94.4h0M121.6 81.4h0M131.6 66.8h0M103.5 103.9h0M138.1 67.5h0M177.1 145.9h0M128.4 125.2h0M117.1 86.8h0M138.1 124.8h0M280.1 144.9h0M176.5 139.9h0M123.2 98.2h0M106.9 96.2h0M140.2 110.2h0M125.8 86.9h0M390.4 125.3h0M386.6 128.5h0M129.6 97.3h0M143.7 84.0h0M123.5 118.5h0M134.3 122.7h0M117.5 123.9h0M119.1 94.4h0M121.1 81.8h0M284.1 87.1h0M131.8 69.0h0M126.9 102.4h0M131.4 104.9h0M113.3 90.7h0M168.9 144.8h0M113.9 115.0h0M390.2 130.5h0M385.1 126.8h0M124.2 116.2h0M414.5 136.3h0M392.6 125.3h0M113.1 99.5h0M127.3 105.6h0M174.0 128.7h0M120.3 113.7h0M122.1 129.7h0" stroke="#3671b7"/>
<path d="M119.6 110.4h0M143.6 114.1h0M125.7 90.1h0M132.8 77.2h0M123.9 133.4h0M401.8 140.3h0M111.8 94.5h0M131.5 87.3h0M170.8 139.2h0M404.5 137.9h0M143.5 91.0h0M140.4 108.8h0M128.6 117.8h0M103.4 107.9h0M132.3 117.5h0M123.6 117.8h0M119.0 114.4h0M109.8 103.0h0M129.0 134.5h0M119.7 138.1h0M394.2 141.3h0M131.8 114.0h0M283.7 145.4h0M138.0 116.4h0M283.6 88.1h0M123.2 113.5h0M112.8 104.1h0M128.5 136.1h0M124.1 121.8h0M126.9 98.1h0M112.2 111.3h0M127.3 83.4h0M127.5 108.0h0M120.3 127.6h0M290.2 81.6h0M113.4 85.0h0M146.7 96.0h0M114.0 103.0h0M132.3 120.3h0M299.6 142.1h0M105.7 98.2h0M129.9 101.7h0M139.1 65.2h0M130.3 112.7h0M125.6 95.1h0M121.4 102.9h0M119.6 103.8h0M134.3 120.2h0M105.5 96.4h0M116.9 121.5h0M110.9 95.5h0M125.8 118.5h0M127.3 102.2h0M122.7 119.1h0M131.1 112.3h0M127.1 137.9h0M122.3 125.1h0M129.0 103.7h0M292.4 71.0h0M110.0 90.6h0M133.9 110.7h0M129.8 135.2h0M105.5 111.3h0M110.8 91.0h0M135.3 120.1h0M134.4 127.0h0M137.2 123.3h0M122.5 105.4h0M176.0 143.1h0M113.6 98.9h0M117.4 104.7h0M126.3 107.8h0M128.1 87.6h0M109.2 107.2h0M126.2 83.0h0M131.6 103.6h0M121.4 122.2h0M130.0 123.5h0M109.6 107.1h0M128.5 128.0h0M179.4 149.0h0M176.1 138.3h0M133.5 128.6h0M105.2 96.1h0M390.6 126.3h0M389.8 127.6h0M110.6 101.0h0M125.0 139.4h0M135.3 116.1h0M121.8 131.0h0M106.0 108.9h0M119.0 102.1h0M292.6 131.8h0M123.9 131.9h0M292.9 139.0h0M134.3 64.8h0M125.6 96.0h0M126.8 105.8h0M288.5 112.6h0M120.5 102.7h0M111.7 90.7h0M140.7 100.3h0M125.9 116.9h0M123.8 89.0h0M119.8 111.4h0M118.0 123.7h0M135.5 69.6h0M118.5 105.0h0M127.8 95.6h0M110.8 86.7h0M110.3 111.3h0M118.0 83.6h0" stroke="#327bb8"/>
<path d="M105.5 96.1h0M130.1 120.5h0M268.5 106.7h0M138.7 122.2h0M288.8 73.9h0M120.5 129.3h0M127.9 92.9h0M122.8 134.1h0M291.8 85.7h0M285.6 81.1h0M132.1 110.3h0M121.8 126.4h0M107.9 95.8h0M121.8 101.4h0M112.9 131.2h0M125.4 135.7h0M125.1 121.0h0M282.4 148.0h0M131.3 101.4h0M121.0 81.8h0M127.5 123.1h0M127.2 139.1h0M126.8 83.3h0M124.4 89.0h0M106.7 95.6h0M117.4 100.6h0M128.6 131.2h0M126.5 106.4h0M122.2 82.4h0M390.8 123.1h0M108.2 109.4h0M109.1 91.6h0M402.4 147.8h0M110.1 97.2h0M115.1 94.8h0M289.8 80.2h0M128.1 135.3h0M124.8 85.3h0M128.6 135.7h0M112.7 96.8h0M148.1 98.8h0M104.9 94.2h0M130.2 130.5h0M105.3 102.3h0M299.9 129.8h0M141.3 66.0h0M121.3 95.5h0M126.1 104.8h0M136.1 115.3h0M176.9 147.5h0M122.2 121.3h0M122.9 132.3h0M128.3 109.7h0M141.0 108.9h0M126.5 106.2h0M108.0 100.7h0M177.8 150.2h0M123.7 89.1h0M120.9 86.4h0M125.4 104.7h0M128.2 139.1h0M128.8 96.2h0M123.4 102.0h0M112.0 103.6h0M108.1 96.7h0M284.6 109.8h0M132.4 134.5h0M122.9 106.3h0M137.6 124.1h0M104.7 96.3h0M134.9 121.6h0M120.9 82.3h0M105.1 99.6h0M128.6 97.4h0M112.3 99.9h0M143.3 70.5h0M133.6 110.1h0M130.4 120.3h0M177.5 143.1h0M147.3 98.9h0M119.2 90.6h0M124.4 108.9h0M137.2 111.6h0M136.0 112.0h0M111.7 136.4h0M133.5 72.2h0M261.9 63.1h0M122.3 124.6h0M133.5 87.2h0M125.4 83.5h0M130.1 110.8h0M129.0 118.5h0" stroke="#3184b7"/>
<path d="M118.7 96.0h0M105.4 100.9h0M110.1 94.8h0M118.1 88.1h0M119.2 107.0h0M274.9 80.1h0M120.3 100.7h0M413.4 135.4h0M126.8 84.9h0M124.5 121.3h0M126.3 139.5h0M136.5 96.6h0M132.7 108.4h0M117.0 118.5h0M132.5 104.6h0M176.0 146.0h0M174.1 145.6h0M389.7 131.2h0M276.7 105.9h0M121.9 113.0h0M134.2 103.1h0M378.2 81.7h0M126.1 115.9h0M141.6 71.9h0M298.2 71.1h0M169.5 147.0h0M143.9 71.5h0M113.6 118.6h0M123.6 91.6h0M129.1 130.4h0M127.4 132.3h0M134.4 131.9h0M180.4 135.8h0M131.7 100.9h0M131.1 107.5h0M134.8 116.3h0M281.6 75.1h0M125.3 90.3h0M126.8 102.0h0M118.5 126.3h0M181.4 144.5h0M146.8 91.2h0M113.5 91.1h0M130.0 132.7h0M277.8 115.5h0M115.6 98.8h0" stroke="#308eb6"/>
<path d="M293.0 143.8h0M179.3 142.7h0M113.2 113.4h0M145.2 101.2h0M119.0 125.0h0M142.1 65.2h0M111.3 105.7h0M406.7 135.8h0M277.0 99.6h0M126.3 92.1h0M279.0 141.3h0M123.0 97.3h0M128.1 93.8h0M127.3 108.3h0M125.3 84.0h0M293.0 77.7h0M138.1 89.4h0M129.8 91.9h0M126.0 118.5h0M119.7 121.1h0M126.7 83.3h0M293.7 66.7h0M133.1 130.6h0M132.1 83.0h0M121.4 92.3h0" stroke="#3599b4"/>
<path d="M299.8 140.7h0M291.1 92.5h0M105.9 97.4h0M133.3 120.5h0M433.9 88.2h0M268.7 84.8h0M410.9 85.6h0M123.0 104.1h0M121.4 109.6h0M273.4 79.9h0M105.6 119.4h0M140.8 71.0h0M406.7 142.2h0M300.4 143.9h0M435.2 92.6h0M416.0 131.9h0M136.2 119.5h0M137.0 80.6h0M291.0 73.8h0M290.8 142.0h0M273.8 94.5h0M293.7 136.1h0M407.6 135.4h0M178.7 135.8h0M115.8 121.5h0M407.2 142.5h0M139.7 107.6h0M133.8 132.4h0M130.4 126.5h0M283.9 85.2h0M143.7 98.0h0M299.1 109.9h0" stroke="#42a4af"/>
<path d="M137.4 95.3h0M139.7 90.7h0M270.2 85.0h0M277.2 93.2h0M378.4 51.5h0M257.6 69.6h0M389.0 123.2h0M434.8 91.1h0M433.9 84.3h0M409.4 127.9h0M129.8 100.5h0M291.3 109.7h0M290.9 109.5h0M144.2 72.3h0M293.9 92.6h0M273.0 76.6h0M279.0 85.2h0M281.1 101.2h0M157.1 126.9h0M130.5 121.0h0M265.9 98.9h0M278.7 103.8h0M277.9 119.3h0M284.2 101.8h0M129.0 84.7h0M392.7 133.7h0M138.5 103.0h0M294.2 147.8h0M300.5 146.5h0M300.2 136.8h0M287.0 114.8h0M294.9 104.9h0M176.4 135.8h0M130.7 73.8h0M146.0 104.9h0M144.4 99.4h0" stroke="#4fb0ab"/>
<path d="M408.0 134.3h0M286.7 121.4h0M291.0 65.4h0M274.0 108.3h0M299.0 81.0h0M278.4 117.8h0M291.4 138.9h0M107.4 114.0h0M131.4 105.8h0M270.2 93.5h0M112.1 93.3h0M286.5 70.2h0M280.0 94.8h0M284.4 115.7h0M298.5 87.6h0M267.6 86.7h0M289.5 97.0h0M133.4 81.9h0M174.1 149.0h0M409.1 135.8h0M145.0 103.5h0M280.1 96.1h0M111.5 122.2h0M258.7 87.2h0M377.9 55.1h0M282.5 91.9h0M267.3 108.3h0M145.2 96.2h0M280.5 83.2h0M270.1 109.2h0M293.5 87.7h0M280.5 87.0h0M138.2 86.0h0M266.8 87.6h0M126.0 124.8h0M298.5 128.1h0M120.5 91.2h0M288.8 101.9h0M105.3 101.2h0" stroke="#5cbba6"/>
<path d="M285.2 92.2h0M293.8 68.1h0M265.4 87.8h0M294.2 86.7h0M287.6 64.1h0M288.5 69.8h0M294.8 107.6h0M277.9 77.2h0M134.1 114.2h0M160.6 124.7h0M427.6 116.5h0M134.1 72.5h0M118.0 135.0h0M140.2 120.5h0M266.3 103.2h0M299.1 89.5h0M278.8 106.2h0M277.7 75.3h0M279.6 106.3h0M292.3 89.3h0M173.7 149.2h0M292.0 146.4h0M276.8 86.8h0M285.1 99.7h0M128.9 91.1h0M271.5 78.6h0M281.1 115.1h0M109.8 120.0h0M294.6 80.2h0M282.4 103.3h0M295.5 132.2h0M143.8 100.0h0M297.8 110.5h0M302.3 112.8h0M270.8 98.4h0M270.2 97.8h0M272.1 99.1h0M113.5 124.9h0M284.1 115.1h0M267.5 87.5h0M156.7 121.8h0M287.9 91.9h0M123.2 133.3h0M373.4 80.6h0" stroke="#6ec2a6"/>
<path d="M280.6 90.0h0M268.8 105.4h0M103.4 113.6h0M433.5 89.6h0M402.5 96.6h0M299.1 114.4h0M294.4 108.7h0M295.0 67.0h0M279.9 109.9h0M263.0 74.2h0M130.2 93.4h0M106.7 115.6h0M286.0 70.5h0M296.0 84.4h0M110.5 116.3h0M116.8 128.3h0M289.5 102.6h0M110.6 121.5h0M269.2 88.5h0M271.2 101.2h0M280.4 99.8h0M287.2 75.7h0M281.4 81.7h0M416.2 132.4h0M287.4 106.9h0M288.0 99.4h0M272.2 102.7h0M271.2 107.5h0M280.0 100.6h0M139.7 85.5h0" stroke="#80caa5"/>
<path d="M297.0 144.2h0M280.6 65.0h0M271.0 110.5h0M284.1 94.0h0M280.2 105.0h0M273.5 100.9h0M284.8 78.5h0M276.2 102.1h0M297.0 88.5h0M282.9 67.6h0M170.5 138.8h0M108.2 123.4h0M136.8 87.8h0M119.7 134.4h0M287.7 122.8h0M273.5 80.6h0M300.0 97.5h0M276.5 95.1h0M285.8 73.9h0M409.7 142.9h0M119.7 130.8h0M156.5 128.6h0M296.7 111.0h0M285.9 72.1h0M277.3 113.6h0M280.0 73.6h0M138.9 76.6h0M147.2 92.0h0M108.2 133.0h0M277.8 75.2h0M115.4 133.8h0M282.2 84.7h0M273.0 98.6h0M293.8 80.4h0M115.1 139.1h0M298.9 133.6h0M287.0 76.2h0M280.8 85.7h0" stroke="#92d2a4"/>
<path d="M266.3 102.7h0M282.5 124.7h0M266.2 105.2h0M110.8 114.8h0M286.4 90.4h0M287.5 64.7h0M289.7 143.0h0M285.9 96.7h0M139.4 79.3h0M282.2 114.0h0M139.2 89.4h0M261.5 66.5h0M297.3 94.9h0M284.5 112.7h0M174.1 150.6h0M285.6 72.1h0M136.9 103.5h0M404.5 139.9h0M291.7 75.3h0M301.8 124.0h0M295.1 70.5h0M120.6 143.5h0M285.6 89.1h0M268.3 101.7h0M289.3 102.1h0M135.1 86.2h0M270.8 93.5h0M297.7 122.3h0M281.2 104.1h0M293.1 133.9h0M139.3 79.5h0M114.5 125.2h0M288.4 87.6h0M280.0 110.6h0M289.5 70.7h0M121.6 134.9h0" stroke="#a4d9a4"/>
<path d="M283.2 68.3h0M103.0 115.3h0M272.4 92.1h0M298.3 124.4h0M141.9 109.7h0M154.2 102.1h0M282.0 88.9h0M146.5 99.7h0M284.2 66.7h0M288.8 101.8h0M288.3 112.9h0M273.9 90.6h0M277.7 110.7h0M291.5 128.7h0M297.1 69.3h0M120.4 134.6h0M401.4 128.2h0M281.8 83.7h0M405.0 137.8h0M181.6 133.6h0M117.1 134.9h0M291.4 111.9h0M134.7 99.5h0M272.9 116.1h0" stroke="#b2dea2"/>
<path d="M272.4 86.1h0M287.4 111.3h0M122.1 138.1h0M112.6 103.9h0M292.0 116.8h0M277.8 100.1h0M287.6 84.8h0M288.3 70.4h0M289.1 94.5h0M280.6 103.0h0M291.1 75.4h0M295.2 103.0h0M272.2 93.8h0M266.2 75.0h0M131.6 82.7h0M111.0 123.4h0M139.8 104.6h0" stroke="#c0e2a0"/>
<path d="M144.2 94.9h0M279.9 88.8h0M296.2 104.2h0M281.9 71.9h0M290.8 66.5h0M116.2 128.3h0M402.4 126.6h0M141.7 80.3h0M290.3 74.6h0M279.8 98.3h0M298.4 127.0h0M268.9 104.3h0M288.0 99.7h0M287.5 81.4h0M272.9 93.2h0M294.3 111.8h0M294.0 81.7h0M132.1 139.2h0M277.7 116.2h0M274.8 116.4h0M286.4 104.2h0M145.1 110.7h0M298.1 122.6h0M110.5 123.8h0M270.6 91.6h0" stroke="#cee69e"/>
<path d="M292.1 144.9h0M275.0 112.2h0M281.4 83.0h0M111.9 136.2h0M271.1 99.7h0M142.5 78.6h0M280.2 113.0h0M270.4 87.0h0M143.8 97.9h0M296.2 71.4h0M291.1 121.8h0M287.4 140.2h0M265.5 88.1h0M115.1 124.8h0M297.8 76.1h0M134.2 99.1h0M296.1 119.7h0M282.1 75.3h0M146.8 102.4h0" stroke="#dceb9c"/>
<path d="M143.8 82.7h0M292.3 92.1h0M272.4 110.0h0M286.1 113.5h0M182.0 87.0h0M286.3 102.8h0M130.8 93.9h0M294.9 134.9h0M277.4 111.0h0M113.7 122.4h0M116.2 132.7h0M146.3 102.0h0M297.3 76.4h0M293.4 84.2h0M104.6 114.8h0" stroke="#e2ea89"/>
<path d="M285.1 114.0h0M118.1 139.0h0M102.8 109.4h0M268.5 110.2h0M284.8 115.1h0M295.7 67.8h0M141.3 80.7h0M291.3 96.1h0M104.5 109.9h0M106.4 131.9h0M170.5 129.4h0M112.0 118.2h0M135.8 91.9h0M272.8 91.9h0M126.6 145.9h0M169.6 133.3h0M287.9 137.7h0M112.1 120.7h0M111.2 120.4h0" stroke="#e9e876"/>
<path d="M145.3 74.6h0M116.0 139.2h0M276.5 96.0h0M136.0 79.2h0M273.2 106.5h0M284.3 100.5h0M296.3 139.9h0M279.9 89.7h0M286.6 122.3h0M170.7 140.9h0M285.2 111.2h0M112.7 117.8h0M114.6 143.6h0M140.6 121.9h0M137.3 75.6h0M280.8 131.8h0M267.3 86.6h0M120.6 142.4h0M110.6 132.5h0M282.4 109.0h0M302.1 121.8h0M298.1 144.5h0M294.5 104.4h0" stroke="#efe763"/>
<path d="M410.9 71.6h0M274.7 76.6h0M112.3 116.9h0M277.1 113.5h0M265.6 91.1h0M276.1 84.5h0M277.6 114.0h0M110.8 131.4h0M269.5 107.3h0M122.8 144.0h0M279.6 94.6h0M105.0 121.9h0M281.5 118.6h0M300.2 86.4h0M294.0 89.0h0M267.9 100.6h0M266.6 90.5h0M292.4 66.4h0M278.6 87.5h0M274.4 111.0h0M278.2 108.8h0M291.1 96.3h0M278.3 118.8h0M430.5 120.2h0M269.9 84.7h0M272.3 71.3h0M277.9 99.9h0M276.8 115.5h0M293.3 124.5h0M116.9 128.9h0M279.0 117.4h0M278.4 127.2h0M147.3 101.9h0M112.7 120.1h0M275.5 78.3h0M273.5 115.7h0M146.0 97.9h0" stroke="#f3e44e"/>
<path d="M110.0 123.5h0M286.0 90.5h0M280.0 86.9h0M105.7 123.9h0M429.9 105.3h0M292.2 99.9h0M279.3 71.2h0M278.8 113.6h0M298.5 85.2h0M283.9 116.0h0M299.3 108.5h0M278.4 116.1h0M286.7 93.4h0M270.7 82.4h0M285.1 88.3h0M281.6 92.3h0M137.3 107.9h0M275.4 93.3h0M291.1 101.2h0M270.3 81.6h0M104.5 118.6h0M294.4 75.7h0M267.2 106.6h0M272.6 82.1h0M145.0 109.8h0M261.4 83.6h0M108.4 122.4h0M138.5 93.0h0M295.6 122.0h0M111.3 127.3h0M289.4 90.7h0M262.5 73.1h0M279.3 105.5h0M256.7 79.0h0M282.1 84.5h0M285.8 68.6h0M276.8 111.5h0M280.9 111.1h0M278.8 78.0h0M295.6 76.5h0M292.9 121.5h0M274.3 76.8h0M284.8 88.1h0M281.6 99.6h0" stroke="#f6df37"/>
<path d="M133.5 79.9h0M275.1 103.4h0M419.7 121.8h0M286.4 105.6h0M142.5 120.3h0M298.4 81.5h0M130.3 83.3h0M280.7 93.6h0M134.3 74.5h0M409.8 84.3h0M113.6 139.7h0M283.4 114.1h0M428.4 108.8h0M267.9 80.6h0M271.8 80.8h0M113.8 136.9h0M288.9 96.4h0M281.4 113.7h0M297.2 79.2h0M104.0 112.7h0M151.8 115.8h0M261.6 86.9h0M268.9 103.8h0M145.6 78.3h0M276.6 93.4h0M120.8 147.0h0M132.7 135.9h0M296.1 120.9h0M109.1 115.8h0M291.5 121.2h0M298.8 82.7h0M295.1 71.5h0M277.6 108.3h0" stroke="#f8da20"/>
<path d="M108.8 117.8h0M277.3 95.5h0M264.4 78.1h0M289.2 63.7h0M136.2 74.7h0M292.9 93.0h0M131.7 137.9h0M268.6 92.8h0M282.0 117.6h0M284.6 123.9h0M281.9 116.1h0M276.3 85.3h0M423.2 89.2h0M277.3 113.9h0M270.4 92.8h0M410.2 134.1h0M270.7 102.1h0M285.5 116.1h0M282.9 76.4h0M107.2 115.6h0M129.7 138.9h0M431.9 103.7h0M118.7 137.3h0M298.7 113.0h0M297.6 89.0h0M280.7 116.0h0M112.8 141.6h0M107.0 124.1h0M140.3 120.2h0" stroke="#f8d42c"/>
<path d="M286.1 114.8h0M271.7 75.0h0M280.3 110.2h0M114.4 140.6h0M413.2 116.5h0M110.2 132.4h0M429.6 97.0h0M273.5 95.2h0M289.7 67.7h0M112.6 129.5h0M287.1 136.5h0M294.1 70.7h0M110.2 132.8h0M287.9 142.9h0M294.4 87.0h0M289.6 88.6h0M143.8 78.3h0M280.1 110.6h0M425.1 103.8h0M292.9 88.4h0" stroke="#f8cf38"/>
<path d="M286.8 111.7h0M410.1 123.3h0M277.8 119.0h0M296.4 72.3h0M285.5 111.1h0M268.4 85.0h0M284.1 72.5h0M426.1 110.0h0M133.1 136.3h0M125.5 144.3h0" stroke="#f7ca44"/>
<path d="M432.2 112.0h0M428.4 111.5h0M405.9 140.4h0M276.0 109.9h0M172.0 121.0h0M279.9 119.4h0M281.9 134.5h0M428.9 112.7h0M403.5 111.1h0M109.6 128.7h0M273.7 109.4h0M282.4 111.8h0M431.3 106.8h0" stroke="#f7c450"/>
<path d="M110.1 131.0h0M303.2 120.8h0M293.6 121.5h0M117.2 133.3h0M398.7 114.6h0M136.0 82.8h0M153.2 98.2h0M308.6 80.4h0M419.0 104.6h0M281.4 116.8h0M278.5 109.7h0M285.3 116.8h0M416.0 126.3h0M297.7 108.3h0" stroke="#f6ba52"/>
<path d="M281.3 119.6h0M272.0 108.9h0M424.9 125.3h0M401.8 109.6h0M277.0 119.6h0M312.7 104.9h0M296.9 121.0h0M423.0 112.4h0M299.1 77.7h0M431.5 99.9h0M293.0 122.8h0M281.8 130.5h0M136.5 132.8h0M283.7 110.6h0M267.0 98.4h0M396.2 85.8h0" stroke="#f6b054"/>
<path d="M279.4 115.3h0M408.0 110.9h0M131.1 139.0h0M170.5 133.8h0M410.1 117.3h0M416.4 118.2h0M262.3 85.0h0M404.7 120.2h0M415.6 102.3h0M282.5 133.9h0M385.5 108.2h0M432.5 105.4h0M422.0 116.8h0" stroke="#f5a656"/>
<path d="M283.5 113.7h0M265.2 80.4h0M398.7 110.9h0M290.8 109.4h0M300.8 121.1h0M146.6 79.1h0M134.0 87.2h0M287.2 125.7h0M283.8 114.4h0M410.6 109.0h0M268.4 78.6h0M405.9 116.8h0M417.8 89.1h0M285.4 130.2h0M278.4 115.3h0M281.7 133.9h0M420.7 106.5h0M288.1 82.4h0M286.7 126.9h0" stroke="#f49c58"/>
<path d="M296.4 120.4h0M283.0 111.6h0M408.1 124.9h0M397.8 116.0h0M425.8 124.2h0M398.1 103.7h0M290.4 116.9h0M297.0 101.4h0M419.6 123.7h0M431.1 118.4h0M417.1 91.4h0M287.3 120.2h0" stroke="#f39052"/>
<path d="M260.7 78.9h0M268.1 106.4h0M428.5 106.7h0M265.1 85.2h0M302.7 102.2h0M267.9 106.7h0M308.7 103.6h0M313.0 114.7h0M414.2 114.0h0" stroke="#f2844c"/>
<path d="M429.6 99.1h0M377.1 75.0h0M417.4 125.9h0M285.2 131.4h0M429.3 113.4h0M391.1 103.5h0M424.5 94.5h0M389.5 109.1h0" stroke="#f17846"/>
<path d="M282.7 113.9h0M431.9 115.7h0M169.5 120.5h0M411.2 123.3h0M417.9 126.2h0M413.1 104.4h0M296.2 119.2h0M430.6 99.3h0M292.8 118.1h0M424.1 94.8h0" stroke="#f06c40"/>
<path d="M256.4 75.5h0M429.0 105.8h0M277.2 117.6h0M423.6 122.8h0M376.8 58.0h0" stroke="#ee613d"/>
<path d="M431.1 114.3h0M418.2 92.6h0M425.4 86.4h0M400.3 116.8h0M410.8 120.0h0M421.9 88.3h0M297.3 121.2h0M387.8 88.7h0M393.6 87.9h0M422.8 114.8h0" stroke="#ec563a"/>
<path d="M421.6 90.1h0M427.0 98.5h0M422.7 94.4h0M294.2 114.1h0M409.1 113.7h0M418.8 106.9h0M311.0 116.9h0M378.0 76.3h0M375.5 79.8h0M412.6 112.7h0M270.0 112.1h0" stroke="#e94b37"/>
<path d="M425.2 104.5h0M418.7 103.8h0M418.3 92.5h0M281.9 134.9h0M427.5 107.0h0M423.1 98.8h0M301.4 120.7h0M425.8 111.5h0M303.7 93.2h0M285.1 126.7h0M308.7 109.8h0" stroke="#e74034"/>
<path d="M415.6 113.9h0M390.3 109.6h0M406.4 89.1h0M428.6 108.8h0M423.1 110.9h0M418.1 114.3h0M420.8 124.2h0M422.3 86.2h0M413.9 117.1h0M419.6 121.4h0M422.0 107.5h0" stroke="#e43633"/>
<path d="M419.1 88.5h0M377.4 98.7h0M303.5 122.1h0M411.5 106.4h0M422.6 123.1h0M424.9 111.7h0M430.8 102.9h0M420.0 122.7h0" stroke="#e12f36"/>
<path d="M425.7 119.3h0M422.1 101.3h0M411.4 126.8h0M420.4 112.8h0M428.0 86.6h0M431.1 114.9h0M422.2 115.8h0M410.3 82.0h0M303.8 123.8h0M394.2 72.4h0M385.5 105.9h0M414.2 109.4h0" stroke="#dd2738"/>
<path d="M416.6 104.4h0M413.6 109.0h0M420.6 92.9h0M430.1 99.1h0M409.4 88.0h0M377.3 80.1h0M412.0 87.1h0M431.6 105.2h0M385.0 76.9h0M430.6 113.1h0" stroke="#da203b"/>
<path d="M311.7 116.0h0M430.3 98.1h0M404.9 112.7h0M395.0 105.3h0M262.4 79.9h0M420.5 90.3h0M391.6 104.1h0M424.3 111.8h0M427.0 93.2h0" stroke="#d11b3c"/>
<path d="M426.0 113.8h0M294.7 106.1h0" stroke="#c3183d"/>
<path d="M429.0 90.2h0M430.6 102.0h0" stroke="#b6153d"/>
<path d="M421.6 100.5h0" stroke="#a8123e"/>
<path d="M149.3 127.2h0M152.9 136.3h0M143.9 53.8h0M160.7 141.8h0M283.4 128.1h0M392.0 125.4h0M153.7 132.4h0M158.9 141.4h0M384.8 132.7h0M273.6 132.3h0M285.1 121.3h0M162.3 146.6h0M277.3 143.7h0M132.3 62.8h0M262.4 77.7h0M272.8 131.5h0M258.9 60.2h0M150.7 127.8h0M273.4 131.4h0M398.1 143.7h0M147.8 133.7h0M150.0 128.8h0M283.2 146.2h0M384.9 122.9h0M399.0 142.4h0M385.5 130.8h0M135.7 62.2h0M264.8 67.0h0M398.3 141.3h0M140.4 61.4h0M153.9 131.1h0M152.3 132.8h0M394.6 141.3h0M150.1 124.7h0M258.7 57.6h0M170.8 148.1h0M153.2 126.5h0M403.5 146.4h0M137.0 56.7h0M261.3 64.1h0M151.2 134.0h0M140.9 61.3h0M143.3 61.4h0M149.3 125.5h0M399.9 150.1h0M260.1 61.8h0M152.5 130.0h0M262.3 61.9h0M141.9 54.2h0M261.8 56.7h0M152.0 132.3h0M169.6 148.5h0M152.9 97.9h0M270.8 122.5h0M139.6 60.7h0M138.8 65.0h0M160.3 128.3h0M137.2 66.3h0M152.2 133.7h0M258.4 54.0h0M138.8 63.8h0M402.0 143.9h0M137.0 59.9h0M139.1 60.4h0M383.9 128.6h0M263.2 58.4h0" stroke="#5646a4"/>
<path d="M392.6 129.4h0M262.7 53.6h0M397.4 145.7h0M274.7 129.2h0M151.1 130.8h0M142.1 101.1h0M139.1 62.9h0M154.5 125.1h0M271.1 127.3h0M277.2 105.8h0M160.5 146.4h0M393.1 145.0h0M278.8 124.4h0M131.9 80.9h0M261.6 60.4h0M160.5 141.3h0M145.0 54.9h0M274.0 125.3h0M282.6 144.5h0M269.4 126.9h0M153.0 117.6h0M137.1 64.3h0M153.1 126.2h0M261.5 58.0h0M130.7 69.7h0M140.9 85.9h0M148.2 134.8h0M255.0 57.2h0M273.7 103.1h0M267.0 126.8h0M260.6 74.6h0M284.0 142.9h0M148.7 129.5h0M267.0 134.5h0M144.6 51.6h0M268.6 131.1h0" stroke="#504ea9"/>
<path d="M137.9 86.1h0M393.4 123.6h0M269.5 129.7h0M283.0 145.7h0M145.6 86.6h0M176.0 103.0h0M389.8 124.5h0M285.4 136.3h0M149.1 94.4h0M134.8 61.5h0M146.5 92.2h0M396.9 140.1h0M379.4 55.3h0M270.2 126.5h0M398.6 143.7h0M388.9 124.2h0M123.7 102.1h0M260.8 55.8h0M387.6 123.6h0M400.2 143.1h0M138.3 63.7h0M305.8 79.8h0M134.4 126.6h0M153.2 112.6h0M136.6 58.5h0M115.5 139.5h0" stroke="#4b56ae"/>
<path d="M106.1 99.1h0M153.7 120.5h0M147.5 62.9h0M147.0 54.0h0M291.9 143.4h0M143.2 54.4h0M402.2 143.0h0M170.8 148.8h0M272.0 129.1h0M388.1 121.8h0M107.2 99.8h0M274.6 131.2h0M105.6 106.3h0M263.7 55.9h0M150.1 107.4h0M146.6 55.4h0M117.8 125.8h0M283.3 142.8h0M136.8 56.3h0M415.4 130.9h0M284.5 149.0h0M292.7 133.6h0M133.3 121.1h0M412.0 135.3h0M401.3 141.7h0" stroke="#445fb1"/>
<path d="M408.3 135.6h0M107.7 103.9h0M139.1 60.2h0M391.7 135.1h0M133.0 68.2h0M282.2 148.7h0M408.5 143.8h0M128.1 103.8h0M115.2 86.0h0M118.3 86.1h0M169.0 146.2h0M133.5 71.0h0M138.8 66.3h0M115.0 105.8h0M125.2 136.5h0M130.7 125.5h0M145.4 100.0h0M110.7 99.2h0M123.8 137.8h0M138.0 91.8h0M142.2 105.9h0M115.1 114.8h0M389.5 125.9h0M173.6 139.5h0M113.2 116.3h0M279.3 86.4h0M125.3 124.1h0M281.9 101.1h0M130.8 73.6h0M396.6 147.6h0M290.2 89.5h0M410.0 131.3h0M265.1 130.6h0M114.7 112.3h0M393.7 142.2h0M375.6 86.5h0M132.9 122.5h0M299.3 76.5h0M261.5 53.3h0M131.6 68.3h0M395.1 133.0h0M270.8 133.2h0M125.8 111.6h0M131.6 72.2h0M147.7 106.9h0M126.7 116.8h0M376.3 52.3h0" stroke="#3e68b4"/>
<path d="M114.8 85.2h0M126.9 87.8h0M115.8 110.2h0M134.3 85.1h0M135.7 118.8h0M122.2 128.8h0M175.5 137.2h0M130.5 111.4h0M117.9 102.5h0M122.2 116.0h0M125.6 123.5h0M137.5 127.8h0M283.6 96.2h0M283.5 129.8h0M129.2 123.5h0M172.3 121.9h0M290.2 120.6h0M114.6 85.4h0M135.9 110.1h0M130.9 117.0h0M127.6 81.8h0M124.2 88.8h0M122.1 88.9h0M136.0 110.7h0M125.3 91.5h0M109.4 93.3h0M402.6 148.7h0M126.9 113.9h0M122.7 110.9h0M131.4 105.2h0M281.3 113.8h0M413.0 137.9h0M127.9 87.4h0M120.4 131.4h0M133.0 109.1h0M177.0 140.0h0M118.6 132.9h0M125.3 116.9h0M131.4 109.8h0M120.2 103.0h0M133.9 126.0h0M128.8 114.4h0M300.1 143.3h0M169.4 144.6h0M124.0 136.0h0M118.3 99.5h0M132.4 85.1h0M290.2 72.6h0M138.2 125.6h0M131.1 76.5h0M115.8 125.1h0M120.2 114.5h0M414.9 133.3h0M111.8 119.5h0M132.0 126.8h0M121.2 87.6h0M140.3 99.0h0M403.5 141.2h0M130.2 114.5h0M118.1 125.8h0M134.5 112.8h0M126.5 132.7h0M125.8 90.3h0M106.0 109.5h0M107.3 91.9h0M121.8 111.3h0M134.1 66.2h0M160.5 109.7h0M110.3 128.3h0M104.4 104.1h0M140.5 87.2h0M260.1 62.3h0M126.1 90.3h0M113.1 113.8h0M293.5 138.9h0M124.8 94.6h0M279.7 115.5h0" stroke="#3671b7"/>
<path d="M137.2 116.1h0M125.7 102.1h0M119.9 84.6h0M282.1 97.5h0M116.1 86.5h0M108.3 94.1h0M140.6 109.6h0M118.3 127.0h0M134.5 106.3h0M138.9 96.2h0M134.6 92.9h0M131.3 119.0h0M118.9 119.2h0M118.5 94.7h0M135.2 128.6h0M399.6 141.0h0M133.7 122.2h0M115.1 85.5h0M298.4 74.3h0M281.8 131.1h0M387.5 134.1h0M123.5 96.5h0M126.6 138.3h0M386.4 125.8h0M116.0 141.0h0M112.5 108.5h0M115.5 103.3h0M121.1 113.4h0M118.0 96.7h0M132.6 113.7h0M283.3 103.0h0M121.4 102.4h0M137.5 124.2h0M118.6 86.2h0M392.2 127.4h0M300.3 141.7h0M122.4 131.9h0M113.1 90.6h0M132.9 96.8h0M125.0 122.7h0M116.9 88.0h0M134.4 131.4h0M126.9 105.6h0M140.8 88.3h0M135.9 116.2h0M125.8 125.3h0M133.3 125.9h0M404.1 133.9h0M127.9 113.5h0M134.3 124.5h0M132.9 127.3h0M288.3 85.4h0M177.0 144.8h0M168.9 141.9h0M120.8 118.3h0M111.1 97.1h0M118.5 104.3h0M134.5 113.1h0M135.8 108.6h0M123.6 109.8h0M121.4 107.3h0M162.7 120.7h0M283.1 118.1h0M131.8 114.7h0M281.6 146.4h0M115.9 95.7h0M126.9 114.8h0M114.2 119.4h0M143.7 94.9h0M122.2 122.5h0M150.5 73.3h0M123.7 121.3h0M126.2 84.1h0M125.8 111.4h0M129.4 97.2h0M142.6 88.4h0M135.0 120.2h0M109.4 90.1h0M139.1 74.4h0M124.3 107.4h0M125.0 140.3h0M171.9 148.9h0M406.7 135.2h0M139.8 65.6h0M119.8 88.4h0M135.5 111.2h0M116.0 116.3h0M133.0 125.4h0M135.4 127.7h0M120.3 97.6h0M133.1 124.5h0M130.9 107.0h0M130.7 136.1h0M123.0 103.4h0M138.4 118.4h0M268.0 95.2h0M145.4 87.3h0M117.0 106.8h0M118.7 115.5h0M112.0 119.7h0M135.6 112.8h0M411.2 145.3h0M123.5 123.7h0M124.2 90.6h0M117.5 101.2h0M125.1 110.1h0M132.2 123.6h0M178.3 124.6h0M114.4 107.7h0M161.5 117.3h0M104.1 102.8h0M279.4 69.0h0M114.4 102.9h0M118.0 97.6h0M112.5 102.2h0M135.3 103.4h0M117.5 91.3h0M282.8 147.6h0M120.2 128.2h0M388.9 127.3h0M129.0 105.5h0M124.7 90.4h0M143.7 107.9h0M121.5 120.1h0M395.2 134.1h0M130.3 101.8h0" stroke="#327bb8"/>
<path d="M270.2 130.1h0M130.0 104.8h0M134.3 109.4h0M134.3 131.4h0M145.3 90.2h0M171.2 140.9h0M107.8 94.9h0M298.9 90.4h0M127.6 111.4h0M117.5 91.1h0M412.4 135.4h0M112.0 91.6h0M105.9 99.9h0M286.8 106.7h0M124.9 131.4h0M123.1 94.6h0M145.1 81.1h0M144.5 111.5h0M116.3 98.3h0M130.5 109.9h0M143.5 111.5h0M127.6 112.0h0M138.3 119.3h0M137.9 113.4h0M118.0 96.3h0M138.7 72.7h0M285.4 77.1h0M113.4 112.7h0M120.6 129.9h0M106.0 93.2h0M121.7 121.0h0M130.7 119.7h0M122.6 86.1h0M112.3 115.3h0M117.0 97.3h0M142.0 99.0h0M130.1 100.1h0M121.9 124.2h0M400.4 151.3h0M112.3 98.0h0M123.0 134.5h0M125.5 121.3h0M135.0 117.3h0M112.1 88.0h0M122.6 89.3h0M130.4 92.1h0M127.3 98.7h0M128.5 138.7h0M122.5 84.3h0M129.7 129.1h0M398.3 141.4h0M133.2 110.5h0M124.9 95.0h0M105.6 132.1h0M108.6 107.0h0M129.4 137.7h0M132.0 112.8h0M115.3 119.8h0M108.5 110.4h0M109.2 95.7h0M136.8 81.2h0M131.6 121.4h0M280.0 102.9h0M259.9 53.9h0M111.3 105.2h0M126.6 86.7h0M139.4 113.5h0M112.8 103.0h0M133.1 107.8h0M139.3 111.4h0M112.5 90.3h0M105.5 97.4h0M131.7 97.8h0M133.0 80.6h0M148.4 94.0h0M115.6 104.5h0M391.9 130.7h0M134.9 120.8h0M134.6 78.1h0M112.8 88.3h0M406.3 138.3h0M137.6 77.2h0M285.9 63.9h0M129.8 116.7h0M284.0 103.3h0" stroke="#3184b7"/>
<path d="M406.6 136.7h0M299.3 140.1h0M128.0 107.3h0M128.7 136.5h0M175.3 145.7h0M168.9 144.0h0M137.6 122.4h0M112.7 92.4h0M285.4 73.5h0M143.1 114.9h0M282.8 68.3h0M301.3 114.1h0M124.0 102.2h0M131.8 114.5h0M110.7 99.1h0M286.3 83.0h0M116.0 119.4h0M289.8 67.1h0M142.9 79.2h0M297.1 135.3h0M125.4 106.3h0M129.5 127.4h0M129.7 104.8h0M122.1 122.3h0M283.6 81.9h0M129.8 123.1h0M171.2 138.8h0M146.5 97.3h0M120.2 116.7h0M134.0 70.1h0M124.3 91.1h0M113.8 127.9h0M115.4 120.7h0M135.8 96.6h0M112.5 113.5h0M108.7 99.0h0M129.1 107.3h0M297.9 143.8h0M125.0 125.7h0M126.6 122.2h0M119.0 84.7h0M268.2 109.6h0M110.9 115.6h0M174.1 143.5h0M145.6 106.6h0M105.1 97.4h0M407.5 132.0h0M121.4 124.1h0M114.6 97.7h0M125.6 138.4h0M140.9 95.9h0M417.3 131.2h0M274.3 75.9h0M139.1 78.1h0" stroke="#308eb6"/>
<path d="M169.5 142.2h0M118.9 90.0h0M263.0 64.2h0M104.7 100.8h0M300.3 130.3h0M129.2 108.8h0M269.3 91.9h0M129.3 73.5h0M136.1 84.7h0M266.7 99.4h0M406.1 141.2h0M118.0 122.7h0M301.1 135.5h0M393.5 139.4h0M143.7 72.3h0M116.8 93.7h0M172.9 145.0h0M294.5 141.8h0M177.0 149.0h0M118.2 89.4h0M110.5 110.1h0M135.8 92.1h0M390.1 135.8h0M137.4 105.1h0M414.4 129.9h0M294.6 105.8h0M122.5 82.5h0M408.8 143.0h0M296.2 141.8h0M135.8 122.3h0M299.2 137.1h0M116.6 117.8h0M120.9 100.7h0M117.9 86.2h0M127.0 91.1h0M129.7 94.3h0M285.6 73.7h0M122.1 125.7h0M128.2 130.5h0M176.5 147.7h0M148.5 97.7h0M141.4 95.2h0M406.8 134.2h0M119.5 127.1h0M296.4 128.2h0M126.7 105.4h0M128.7 103.6h0" stroke="#3599b4"/>
<path d="M299.9 143.7h0M291.0 140.8h0M134.6 81.0h0M296.1 131.7h0M408.4 137.0h0M284.0 117.7h0M415.7 135.2h0M140.0 101.2h0M146.1 102.7h0M160.0 90.0h0M287.4 103.5h0M114.4 110.7h0M131.3 116.5h0M289.5 82.0h0M131.2 73.3h0M435.1 91.7h0M395.2 138.5h0M126.8 124.9h0M277.6 92.0h0M287.9 94.1h0M295.0 143.2h0M291.5 112.3h0M174.8 139.5h0M266.9 131.8h0M142.1 87.9h0M143.6 75.4h0M293.8 140.3h0M139.8 87.4h0M406.1 135.3h0M317.0 88.0h0M289.8 105.8h0M106.2 104.5h0M138.2 88.0h0M409.9 130.8h0M177.4 146.1h0M124.1 104.6h0M122.8 103.6h0M135.4 121.2h0M286.8 75.9h0M286.2 112.1h0M289.8 105.9h0M130.5 111.0h0M127.2 129.3h0M129.7 75.5h0M291.8 141.0h0" stroke="#42a4af"/>
<path d="M269.8 102.6h0M143.2 114.6h0M299.6 143.9h0M178.6 145.2h0M294.1 90.1h0M130.6 127.9h0M298.2 90.8h0M176.4 145.6h0M115.1 130.4h0M409.5 135.3h0M302.9 121.7h0M299.4 80.2h0M273.4 97.1h0M129.2 114.5h0M295.4 143.4h0M115.8 112.0h0M278.0 95.4h0M144.0 89.6h0M284.7 84.8h0M111.9 89.0h0M296.5 87.1h0M135.8 85.9h0M291.9 88.4h0M269.5 80.4h0M263.1 63.4h0M132.9 128.5h0M278.9 105.1h0M136.4 104.8h0M414.1 130.3h0M285.4 88.4h0M114.5 142.9h0M268.8 107.5h0M294.8 147.8h0M297.2 73.4h0M268.8 105.8h0M286.1 83.7h0M266.0 98.4h0M434.2 85.0h0M290.1 88.5h0" stroke="#4fb0ab"/>
<path d="M143.2 91.1h0M135.1 120.5h0M137.4 93.3h0M119.1 132.4h0M117.8 142.8h0M268.9 108.5h0M295.3 144.4h0M287.0 105.7h0M296.3 138.8h0M273.3 113.1h0M292.5 106.7h0M122.5 142.0h0M405.6 142.5h0M269.0 69.2h0M114.4 98.7h0M268.9 109.6h0M282.9 115.0h0M270.6 86.7h0M433.3 89.5h0M292.8 74.6h0M280.9 92.7h0M275.2 82.8h0M284.0 105.6h0M294.2 136.1h0M288.6 125.7h0M277.4 77.9h0M290.9 70.5h0M286.7 132.7h0M135.0 83.3h0M147.0 112.5h0M289.5 90.5h0M296.1 136.8h0M284.4 106.5h0" stroke="#5cbba6"/>
<path d="M137.0 109.2h0M272.5 111.1h0M408.6 126.4h0M285.4 77.2h0M270.9 83.4h0M408.1 135.6h0M140.1 112.5h0M141.7 98.5h0M295.3 76.9h0M134.8 134.1h0M301.7 119.9h0M298.0 79.5h0M267.8 81.7h0M132.1 92.5h0M267.4 96.3h0M131.2 75.8h0M286.8 117.7h0M290.3 100.1h0M281.8 118.1h0M298.1 88.2h0M430.4 106.6h0M110.4 134.0h0M432.1 84.9h0M281.7 119.6h0M110.6 110.4h0M285.1 93.1h0M296.3 114.1h0M294.4 71.4h0M135.5 70.7h0M294.0 87.9h0M134.2 134.2h0M296.2 92.2h0M299.2 86.1h0M116.2 88.7h0M114.0 127.0h0M107.7 128.8h0M267.3 99.7h0M289.6 103.6h0M294.3 98.6h0M373.9 82.4h0M289.5 61.0h0M270.3 113.1h0M275.1 99.1h0" stroke="#6ec2a6"/>
<path d="M278.2 85.2h0M133.4 113.6h0M290.5 111.9h0M172.8 143.1h0M104.2 117.5h0M266.0 102.5h0M273.4 76.0h0M431.9 109.4h0M297.4 112.4h0M276.9 95.7h0M278.4 84.0h0M161.3 106.4h0M284.9 116.5h0M280.7 72.1h0M281.4 96.5h0M277.2 95.8h0M122.7 110.1h0M294.6 77.3h0M117.3 123.2h0M273.9 88.2h0M283.3 71.8h0M279.8 87.6h0M131.1 99.6h0M266.0 105.9h0M123.8 141.3h0M293.2 76.5h0M287.9 108.2h0M275.1 92.6h0M141.3 106.1h0M273.3 117.6h0M276.7 75.3h0M299.7 122.1h0M269.1 81.4h0M170.0 119.5h0M127.0 124.3h0M132.6 94.5h0M134.9 84.9h0M281.7 64.5h0M290.1 93.5h0" stroke="#80caa5"/>
<path d="M299.9 102.5h0M281.2 94.0h0M408.2 145.2h0M115.2 129.1h0M271.3 89.2h0M141.4 91.7h0M408.9 141.7h0M266.9 89.6h0M131.9 73.8h0M289.5 78.9h0M114.3 134.4h0M296.7 73.4h0M143.1 104.5h0M293.2 69.7h0M293.7 138.5h0M284.2 105.3h0M293.6 67.3h0M279.4 81.0h0M115.3 132.7h0M289.1 106.9h0M190.0 102.0h0M279.1 111.4h0M120.2 80.8h0M289.6 62.1h0M298.6 125.6h0M133.9 97.9h0M277.7 101.9h0M295.7 91.1h0M113.0 132.6h0M268.5 103.0h0M300.8 108.4h0M140.0 74.3h0M171.7 145.9h0M273.8 79.5h0" stroke="#92d2a4"/>
<path d="M289.0 69.2h0M298.1 121.2h0M290.2 103.7h0M130.0 109.6h0M275.9 87.6h0M124.2 90.0h0M295.9 137.1h0M109.4 117.5h0M275.7 84.4h0M299.6 81.5h0M295.3 66.9h0M143.5 89.2h0M415.5 138.3h0M302.1 116.6h0M142.8 73.6h0M285.8 117.1h0M138.0 102.6h0M379.9 53.4h0M267.6 89.4h0M291.2 62.7h0M285.4 75.0h0M411.8 134.6h0M118.5 143.9h0M141.3 123.4h0M296.7 69.5h0M110.7 130.0h0M145.5 101.9h0M402.7 128.1h0M139.1 78.7h0M295.7 70.4h0M109.8 121.5h0M280.9 70.6h0M115.2 135.7h0M294.6 84.8h0M275.8 75.1h0M283.5 71.9h0M160.1 106.0h0M293.4 71.2h0M299.9 123.5h0M282.2 65.1h0M138.6 100.7h0M285.9 104.9h0" stroke="#a4d9a4"/>
<path d="M298.2 82.4h0M276.6 103.9h0M287.8 65.9h0M110.7 137.7h0M300.1 143.1h0M292.8 84.6h0M132.5 71.0h0M283.1 99.6h0M295.6 125.6h0M146.6 95.9h0M277.1 118.5h0M145.2 103.5h0M267.5 97.3h0M290.8 113.4h0M281.8 98.2h0M271.0 111.6h0M119.7 136.7h0M288.2 109.4h0" stroke="#b2dea2"/>
<path d="M294.1 126.5h0M104.4 124.0h0M299.3 133.6h0M269.3 107.3h0M142.8 90.0h0M277.0 111.5h0M134.3 101.6h0M136.3 98.8h0M105.7 118.5h0M275.5 96.0h0M144.1 101.0h0M283.8 83.6h0M297.0 75.9h0M279.7 84.8h0M296.4 120.4h0M107.9 127.2h0M294.0 123.8h0M112.8 132.8h0M138.2 82.8h0M119.3 141.1h0M289.0 78.1h0" stroke="#c0e2a0"/>
<path d="M293.1 94.2h0M282.8 74.7h0M272.8 105.8h0M294.8 77.0h0M299.4 137.8h0M281.2 109.6h0M284.2 107.2h0M103.8 110.8h0M167.7 132.5h0M288.8 108.0h0M102.8 105.1h0M128.3 76.7h0M265.9 91.3h0M121.9 148.4h0M139.1 96.5h0M286.3 81.2h0" stroke="#cee69e"/>
<path d="M285.0 96.2h0M281.4 113.8h0M295.9 141.5h0M408.9 136.4h0M282.6 118.1h0M119.1 136.8h0M144.9 91.8h0M293.2 66.7h0M294.0 147.1h0M292.4 66.9h0M284.0 97.1h0" stroke="#dceb9c"/>
<path d="M125.5 144.2h0M277.5 112.3h0M296.0 130.6h0M129.4 76.6h0M110.8 120.5h0M287.2 74.3h0M113.4 124.8h0M122.1 137.8h0M129.9 89.8h0M265.7 99.3h0M290.0 137.1h0M298.6 126.4h0M146.2 98.7h0" stroke="#e2ea89"/>
<path d="M147.0 99.4h0M292.0 78.1h0M277.3 76.9h0M108.2 131.0h0M403.6 138.3h0M299.8 123.7h0M109.7 137.4h0M282.0 106.4h0M271.5 86.1h0M275.9 88.6h0M125.4 142.7h0M298.3 126.4h0M281.7 100.7h0M117.8 129.4h0M142.2 90.1h0M113.5 132.9h0" stroke="#e9e876"/>
<path d="M271.2 101.1h0M113.1 129.3h0M115.3 133.7h0M270.5 95.4h0M293.6 113.3h0M280.4 119.6h0M108.4 132.0h0M300.3 84.3h0M275.2 88.1h0M269.8 93.2h0M288.2 145.0h0M296.6 109.2h0M274.3 118.5h0M288.5 142.4h0M279.0 111.2h0M143.9 111.1h0M267.4 88.4h0M286.2 63.8h0M119.1 142.6h0" stroke="#efe763"/>
<path d="M284.0 130.3h0M291.1 104.9h0M276.3 115.3h0M124.9 146.3h0M271.4 107.5h0M299.7 90.9h0M283.1 119.9h0M288.3 124.0h0M298.0 87.0h0M111.2 133.5h0M294.4 99.0h0M121.6 140.6h0M283.7 111.6h0M297.2 87.9h0M269.9 96.4h0M295.5 101.6h0M269.6 100.7h0M122.4 147.0h0M297.4 112.9h0M295.8 94.1h0M289.7 93.4h0M273.5 109.4h0M405.1 138.1h0M282.7 65.8h0M297.1 94.3h0M298.8 121.0h0M282.8 134.5h0M287.5 145.4h0M286.3 118.4h0M105.6 117.9h0M109.2 126.6h0M287.6 129.4h0" stroke="#f3e44e"/>
<path d="M119.3 147.9h0M285.3 68.9h0M119.2 140.0h0M280.2 106.3h0M283.8 67.7h0M299.3 90.2h0M136.3 131.9h0M429.7 122.0h0M288.7 143.3h0M107.6 113.2h0M289.3 108.2h0M281.9 107.2h0M272.2 108.2h0M270.2 112.3h0M289.8 72.9h0M299.1 89.3h0M291.1 96.1h0M276.1 94.1h0M290.1 109.0h0M119.7 142.2h0M132.5 80.7h0M289.3 83.8h0M263.7 79.5h0M109.7 133.8h0M130.9 138.6h0M280.9 103.1h0M104.7 117.8h0" stroke="#f6df37"/>
<path d="M277.0 73.2h0M273.1 89.0h0M138.8 101.5h0M288.9 85.0h0M271.5 114.0h0M281.7 78.7h0M113.5 139.3h0M145.1 83.3h0M286.3 98.5h0M408.1 121.9h0M273.5 107.0h0M276.3 79.1h0M410.6 140.6h0M285.0 63.7h0M103.3 110.5h0M141.8 117.0h0M295.3 89.6h0M290.8 144.7h0M142.3 96.8h0M135.0 135.1h0M429.0 107.2h0M275.4 77.9h0M131.8 92.6h0M421.7 122.1h0M269.8 82.0h0M138.1 131.1h0M114.4 132.9h0M169.8 131.7h0M284.5 97.8h0" stroke="#f8da20"/>
<path d="M432.7 114.0h0M282.3 64.6h0M108.5 112.4h0M129.5 143.8h0M379.0 55.1h0M278.0 117.7h0M287.1 137.2h0M271.1 100.1h0M268.6 79.6h0M276.6 95.8h0M300.0 105.5h0M290.8 118.8h0M118.6 135.2h0M119.2 146.8h0M400.2 113.4h0M266.2 95.2h0M283.7 114.4h0M289.6 74.3h0M136.1 78.0h0M270.6 103.6h0M295.3 83.3h0M278.2 103.1h0M289.3 112.6h0M126.8 141.4h0M267.7 71.4h0M269.3 110.0h0M278.8 90.5h0M280.3 100.6h0M420.2 106.1h0M271.1 84.1h0M110.5 134.9h0M144.2 86.7h0" stroke="#f8d42c"/>
<path d="M271.8 106.0h0M300.6 104.2h0M272.6 94.5h0M297.1 85.6h0M118.6 134.2h0M280.7 78.7h0M290.3 72.0h0M274.2 95.8h0M108.2 113.2h0M107.8 114.6h0M297.1 125.9h0M143.8 81.9h0M428.8 102.0h0M299.1 124.9h0M140.4 122.1h0" stroke="#f8cf38"/>
<path d="M260.7 86.2h0M308.8 82.0h0M431.0 111.0h0M409.7 111.9h0M124.5 143.7h0M407.5 127.3h0M294.8 104.1h0M145.8 94.2h0M417.0 119.9h0M421.8 127.0h0M429.8 103.4h0M115.9 135.0h0M122.8 137.5h0M271.4 72.8h0M421.3 96.1h0M279.5 117.4h0" stroke="#f7ca44"/>
<path d="M271.6 103.0h0M431.8 107.7h0M256.1 79.1h0M121.8 140.4h0M287.5 82.3h0M278.0 121.8h0M281.0 90.5h0M415.9 107.5h0M286.3 114.7h0" stroke="#f7c450"/>
<path d="M280.9 118.0h0M425.4 109.6h0M401.3 111.8h0M273.6 81.5h0M137.8 129.2h0M415.7 106.2h0M273.0 117.0h0M296.7 108.1h0M277.8 131.2h0M412.2 120.5h0M274.9 87.9h0" stroke="#f6ba52"/>
<path d="M418.7 98.8h0M426.4 121.8h0M268.6 106.7h0M158.3 125.4h0M169.3 138.5h0M429.4 100.0h0M305.9 106.8h0M150.0 59.9h0M274.9 115.6h0M430.0 117.4h0" stroke="#f6b054"/>
<path d="M408.8 116.9h0M278.2 97.2h0M278.0 117.9h0M282.7 115.3h0M265.4 77.2h0M410.9 110.0h0M419.8 109.1h0M429.6 109.0h0M404.6 109.6h0" stroke="#f5a656"/>
<path d="M432.8 106.4h0M431.0 96.9h0M302.9 110.6h0M271.9 107.7h0M422.0 122.4h0M405.0 98.9h0M412.3 104.7h0M278.4 123.9h0" stroke="#f49c58"/>
<path d="M428.5 103.2h0M423.5 115.1h0M282.3 111.8h0M428.6 111.6h0M414.1 109.9h0M418.2 86.6h0M372.9 91.3h0M138.9 86.4h0M433.1 102.4h0M278.8 121.7h0M296.3 112.0h0M304.3 75.7h0M293.6 111.7h0" stroke="#f39052"/>
<path d="M285.3 125.7h0M269.8 109.0h0M255.7 74.0h0M427.1 106.6h0M378.6 83.4h0M295.0 114.8h0M281.1 131.6h0M152.4 99.3h0" stroke="#f2844c"/>
<path d="M287.0 121.7h0M403.5 122.5h0M286.3 114.9h0M301.8 106.1h0M418.7 89.3h0M431.7 116.5h0M424.6 97.4h0M428.9 118.6h0M408.7 123.9h0M428.7 98.0h0M260.7 85.4h0" stroke="#f17846"/>
<path d="M403.6 113.7h0M413.6 112.2h0M424.6 121.8h0M419.6 120.1h0M426.1 123.8h0M422.6 127.6h0M279.8 121.0h0M407.1 124.4h0M264.0 67.8h0M431.3 104.5h0M428.0 87.3h0" stroke="#f06c40"/>
<path d="M428.2 122.0h0M377.5 62.8h0M429.5 105.8h0M293.7 110.3h0M423.8 113.6h0M430.1 112.1h0M412.8 118.3h0M290.7 122.1h0" stroke="#ee613d"/>
<path d="M419.6 116.0h0M428.8 114.6h0M429.1 116.8h0M421.6 122.1h0M421.6 91.9h0M299.2 114.9h0M411.8 117.2h0M403.3 109.4h0M420.9 90.5h0M394.0 72.7h0M423.0 107.2h0" stroke="#ec563a"/>
<path d="M393.7 103.7h0M415.2 128.3h0M414.9 105.6h0M308.1 87.1h0M408.4 118.7h0M369.9 65.9h0M272.4 114.3h0M420.6 94.7h0M306.9 103.9h0M421.0 93.2h0M376.4 80.4h0M418.3 109.3h0M427.6 112.7h0M401.5 115.2h0M420.8 124.8h0M394.2 106.7h0" stroke="#e94b37"/>
<path d="M423.6 127.0h0M426.0 102.8h0M284.8 120.8h0M198.3 109.0h0M383.3 74.5h0M425.1 105.3h0M279.7 131.9h0M413.0 118.2h0M412.9 93.9h0M425.8 113.9h0" stroke="#e74034"/>
<path d="M396.9 114.5h0M425.7 100.2h0M429.2 100.5h0M418.8 113.7h0M294.9 105.9h0M286.5 131.6h0M430.6 113.2h0M423.2 105.1h0" stroke="#e43633"/>
<path d="M295.4 109.1h0M414.2 117.5h0M396.9 105.6h0M309.5 98.8h0M420.4 88.8h0M424.3 121.1h0M415.0 101.1h0M401.9 116.8h0M407.5 125.0h0M422.1 103.1h0M417.8 90.2h0M417.0 110.8h0M395.1 110.0h0M410.0 105.8h0M401.7 112.1h0" stroke="#e12f36"/>
<path d="M413.9 102.1h0M416.2 100.1h0M424.2 85.0h0M404.1 123.1h0M426.1 112.8h0M417.4 98.7h0M426.1 91.3h0M417.3 112.8h0M423.9 101.9h0M403.5 117.4h0M416.5 91.6h0" stroke="#dd2738"/>
<path d="M411.1 87.7h0M410.2 126.1h0M414.0 105.5h0M197.0 96.4h0M415.8 97.3h0M428.1 107.2h0M387.7 103.8h0M302.2 106.1h0M399.8 112.3h0M270.2 83.1h0M290.5 119.6h0M427.0 111.5h0M416.5 107.9h0M377.8 82.1h0M405.0 113.1h0M417.0 96.8h0M417.7 91.2h0M302.9 120.5h0" stroke="#da203b"/>
<path d="M407.5 108.7h0M431.2 110.8h0M303.6 121.5h0M404.2 68.1h0M417.7 106.7h0M404.1 121.1h0M426.1 98.2h0M412.0 122.4h0" stroke="#d11b3c"/>
<path d="M428.9 89.7h0M420.9 96.6h0M388.0 103.5h0M308.4 99.2h0M398.4 112.6h0M301.4 113.1h0M413.5 102.7h0M398.9 114.3h0M398.1 112.0h0" stroke="#c3183d"/>
<path d="M390.6 111.4h0M426.9 88.0h0M392.9 112.3h0M418.6 102.5h0M416.8 113.7h0M300.4 114.8h0" stroke="#b6153d"/>
<path d="M391.3 106.4h0M414.3 111.9h0" stroke="#a8123e"/>
<path d="M145.5 54.0h0M401.7 149.6h0M270.8 127.4h0M148.2 132.4h0M410.4 141.9h0M173.1 128.2h0M270.7 70.5h0M136.0 62.3h0M261.7 56.1h0M257.9 56.6h0M273.0 125.7h0M259.9 63.5h0M280.0 140.0h0M396.6 145.3h0M153.6 98.4h0M263.1 52.3h0M146.9 108.5h0M262.2 50.2h0M146.9 130.9h0M261.5 55.3h0M149.3 128.1h0M134.8 62.9h0M180.2 129.5h0M161.2 146.2h0M256.1 56.5h0M136.1 63.4h0M389.5 136.3h0M139.8 62.9h0M400.7 142.0h0M176.5 139.9h0M164.1 143.6h0M137.9 58.1h0M257.7 56.7h0M277.0 139.8h0M263.3 60.1h0M403.9 147.6h0M151.4 126.9h0M263.8 58.0h0M269.8 133.1h0M151.7 129.2h0M388.3 123.0h0M138.9 54.4h0M272.2 81.0h0M153.7 126.1h0M262.1 50.5h0M258.3 54.3h0M267.2 127.1h0M260.3 61.9h0M148.7 128.2h0M263.7 76.7h0M147.0 133.5h0M401.1 143.6h0M377.8 53.6h0M155.0 131.8h0M149.7 134.5h0" stroke="#5646a4"/>
<path d="M297.0 103.2h0M397.2 142.6h0M140.1 56.2h0M146.4 69.8h0M279.6 141.4h0M144.0 51.9h0M163.4 142.8h0M261.1 68.0h0M138.2 62.1h0M265.2 131.8h0M258.0 52.7h0M135.0 63.8h0M141.3 54.2h0M137.9 84.0h0M281.1 146.3h0M134.6 88.1h0M144.4 56.9h0M281.6 147.9h0M153.0 124.3h0M140.9 61.0h0M159.6 142.2h0M281.9 145.1h0M271.7 134.9h0M136.9 66.3h0M401.5 150.6h0M149.9 100.0h0M397.0 150.1h0M290.0 63.6h0M286.8 132.7h0M143.1 50.9h0M266.7 130.4h0M259.2 56.9h0M150.4 122.2h0M401.8 148.6h0M153.8 108.0h0M134.8 62.4h0" stroke="#504ea9"/>
<path d="M387.6 128.0h0M274.9 130.8h0M155.0 110.0h0M174.0 97.0h0M153.9 91.2h0M263.4 56.1h0M147.1 72.3h0M259.3 57.4h0M263.1 81.2h0M399.0 139.9h0M395.2 140.1h0M163.9 142.3h0M141.3 58.4h0M139.2 61.0h0M302.7 98.5h0M268.4 131.7h0M138.9 72.0h0M144.4 73.1h0M282.1 142.4h0M394.0 145.4h0M400.5 143.3h0M141.9 54.9h0" stroke="#4b56ae"/>
<path d="M132.3 126.0h0M377.2 53.3h0M399.4 141.5h0M124.7 110.2h0M123.8 91.6h0M386.0 122.3h0M121.7 110.0h0M116.5 97.1h0M260.1 61.7h0M110.0 110.7h0M395.1 145.7h0M165.6 146.8h0M103.2 107.1h0M281.2 134.3h0M115.4 93.4h0M120.7 128.3h0M270.7 124.2h0M130.1 113.7h0M137.7 120.9h0M279.6 84.7h0M284.1 64.3h0M266.9 131.8h0M130.4 69.8h0M118.1 95.2h0M129.3 96.8h0M174.7 140.5h0M126.1 107.6h0M122.5 112.6h0M270.7 84.7h0M274.7 124.1h0M269.3 127.5h0M135.6 68.9h0M135.1 106.6h0M162.2 127.4h0M150.9 85.2h0M402.4 146.0h0" stroke="#445fb1"/>
<path d="M282.1 147.5h0M132.8 107.6h0M397.9 148.5h0M298.9 143.9h0M273.2 126.0h0M176.4 145.5h0M376.7 84.0h0M391.1 127.2h0M108.9 106.0h0M110.8 86.6h0M112.7 101.0h0M108.4 97.1h0M175.2 146.5h0M409.3 133.6h0M143.1 68.1h0M110.1 90.1h0M395.5 142.6h0M293.2 132.6h0M134.0 95.4h0M121.0 95.3h0M134.7 124.6h0M134.4 111.1h0M130.5 67.1h0M414.5 135.2h0M407.2 130.5h0M287.6 101.3h0M267.2 133.6h0M113.8 86.1h0M178.9 148.3h0M110.1 99.7h0M115.9 117.3h0M129.0 98.4h0M275.6 123.5h0M416.2 129.3h0M278.1 83.4h0" stroke="#3e68b4"/>
<path d="M107.6 94.2h0M137.4 57.7h0M130.1 68.5h0M290.8 87.4h0M416.7 132.5h0M111.5 105.3h0M131.9 117.5h0M124.1 135.1h0M385.9 129.3h0M130.1 104.7h0M126.5 95.1h0M414.6 133.6h0M385.6 124.7h0M124.4 132.6h0M297.1 74.7h0M387.1 126.9h0M375.8 51.2h0M113.2 132.2h0M126.9 119.8h0M138.7 69.5h0M113.5 116.5h0M120.0 102.0h0M134.2 131.0h0M131.6 73.5h0M126.3 90.6h0M124.1 109.3h0M122.4 100.4h0M142.4 69.1h0M118.4 85.9h0M113.6 105.1h0M290.1 94.2h0M118.3 114.4h0M133.4 63.4h0M181.4 148.1h0M110.1 104.1h0M135.7 130.1h0M388.7 132.1h0M180.8 143.9h0M110.0 108.3h0M278.7 141.2h0M121.8 97.0h0M114.2 90.9h0M131.7 132.2h0M122.3 117.7h0M111.6 105.5h0M125.4 126.7h0M104.4 101.6h0M301.7 134.7h0M126.8 118.4h0M114.8 121.9h0M131.4 102.4h0M110.7 90.1h0M136.5 64.6h0M121.9 93.2h0M264.7 67.4h0M131.3 111.3h0M147.0 97.2h0M294.8 77.6h0M248.0 94.8h0M378.2 55.7h0M130.4 81.3h0M104.8 106.8h0M287.3 108.0h0M407.6 129.8h0M123.2 118.3h0M122.6 129.0h0M113.0 116.3h0M292.7 139.0h0M263.0 56.2h0M122.9 116.9h0M165.0 115.0h0" stroke="#3671b7"/>
<path d="M296.9 96.9h0M108.4 104.7h0M298.2 94.6h0M134.0 121.7h0M386.4 122.2h0M129.2 98.7h0M159.7 140.9h0M122.1 99.6h0M139.5 78.4h0M124.5 137.2h0M112.6 107.2h0M107.0 95.1h0M133.3 68.2h0M141.1 72.6h0M110.1 89.2h0M126.3 115.7h0M113.3 92.3h0M411.9 135.7h0M259.1 63.8h0M107.9 104.3h0M126.7 87.9h0M147.0 103.4h0M110.7 96.2h0M110.5 111.7h0M293.8 135.8h0M115.8 121.0h0M113.8 92.5h0M106.8 98.0h0M131.9 135.2h0M120.7 116.4h0M128.1 106.0h0M140.1 65.8h0M121.4 119.3h0M172.2 148.5h0M123.0 117.9h0M115.3 93.8h0M118.6 112.6h0M285.3 66.4h0M112.6 112.4h0M127.5 133.9h0M139.2 118.9h0M139.3 118.6h0M411.8 127.0h0M113.2 103.3h0M122.9 111.5h0M128.1 107.9h0M140.2 104.1h0M118.4 117.1h0M136.4 67.0h0M118.4 99.9h0M128.5 108.5h0M133.4 94.0h0M140.5 69.6h0M129.5 116.1h0M124.7 82.0h0M121.1 89.8h0M128.6 125.0h0M129.6 124.1h0M123.5 94.1h0M124.6 133.5h0M131.4 127.2h0M112.0 98.8h0M115.8 90.2h0M120.5 116.7h0M104.2 107.2h0M298.1 73.8h0M126.5 92.5h0M122.1 124.6h0M413.2 140.6h0M120.7 116.7h0M145.2 76.5h0M119.8 89.0h0M127.3 119.7h0M138.6 119.4h0M132.6 109.5h0M117.4 96.4h0M122.4 111.2h0M134.4 125.2h0M279.1 121.8h0M118.7 114.3h0M116.8 113.2h0M111.5 91.4h0M114.3 88.6h0M172.0 137.2h0M258.7 53.0h0M132.4 105.3h0M266.7 130.0h0M126.3 106.2h0M127.6 86.9h0M120.4 121.1h0M107.9 110.7h0M132.6 116.5h0M128.7 109.0h0" stroke="#327bb8"/>
<path d="M131.8 125.5h0M406.1 144.7h0M126.9 130.3h0M115.4 87.1h0M402.7 149.3h0M116.0 91.9h0M121.2 123.1h0M142.9 86.1h0M112.5 98.0h0M125.7 99.3h0M118.6 108.4h0M122.5 86.6h0M139.1 115.8h0M132.1 68.6h0M132.0 125.9h0M126.2 94.9h0M126.2 135.3h0M103.6 103.9h0M117.6 86.2h0M104.1 102.6h0M114.7 119.0h0M109.1 107.9h0M283.3 89.2h0M127.8 121.6h0M124.9 111.1h0M117.0 97.0h0M174.6 140.1h0M276.2 109.9h0M104.7 103.9h0M123.0 119.3h0M144.9 83.0h0M270.6 102.4h0M124.0 136.3h0M124.4 84.5h0M108.0 103.7h0M178.0 145.0h0M113.1 103.5h0M172.7 142.0h0M109.8 96.1h0M121.4 116.4h0M118.1 117.1h0M392.2 130.1h0M123.1 83.1h0M173.4 142.8h0M114.0 118.8h0M106.6 94.5h0M114.5 95.0h0M408.3 128.9h0M116.7 115.5h0M138.4 115.3h0M129.0 105.1h0M295.4 140.5h0M106.1 96.6h0M133.1 109.3h0M117.5 104.8h0M114.4 108.8h0M116.3 106.6h0M107.7 90.9h0M139.1 92.4h0M131.5 101.2h0M125.7 95.0h0M109.6 106.1h0M412.9 133.9h0M121.8 81.3h0M130.1 119.3h0M121.0 98.4h0M118.9 99.9h0M109.4 93.2h0M279.5 77.7h0M139.9 124.0h0M289.0 88.9h0M137.6 87.2h0M142.8 104.6h0M128.0 143.2h0M135.2 123.2h0M139.1 104.7h0M120.4 127.3h0M123.5 121.9h0M283.5 77.6h0M291.8 64.9h0M143.5 66.1h0M179.5 144.2h0M127.0 86.5h0M118.6 104.8h0M111.4 110.9h0M139.9 101.5h0M128.7 104.1h0M136.0 125.1h0M122.8 133.4h0M296.0 134.2h0M123.9 117.8h0M108.9 98.1h0M132.0 128.0h0M126.0 84.5h0" stroke="#3184b7"/>
<path d="M107.8 100.0h0M139.0 77.3h0M115.8 119.6h0M134.8 125.6h0M106.2 94.6h0M385.7 131.7h0M128.8 130.2h0M116.8 123.2h0M142.3 108.8h0M122.7 100.5h0M134.8 115.8h0M106.2 102.3h0M110.0 93.1h0M163.3 109.9h0M151.5 117.3h0M134.3 119.3h0M412.7 135.3h0M113.6 139.7h0M385.4 125.5h0M125.3 95.4h0M141.8 112.1h0M173.8 144.3h0M122.9 89.7h0M111.4 86.9h0M138.8 123.7h0M123.4 105.5h0M135.0 129.3h0M411.1 128.6h0M292.3 137.7h0M127.1 123.9h0M175.3 147.0h0M156.6 105.6h0M128.9 134.8h0M108.6 94.0h0M126.7 109.6h0M278.8 67.7h0M133.5 127.0h0M115.4 91.8h0M107.1 104.0h0M141.4 74.3h0M124.9 138.3h0M122.7 87.8h0M131.3 117.4h0M114.3 94.2h0M173.3 139.1h0M111.7 92.5h0M394.5 138.9h0M409.8 138.6h0M300.3 138.2h0M416.7 135.8h0" stroke="#308eb6"/>
<path d="M133.8 126.1h0M117.1 102.4h0M128.6 118.5h0M174.7 142.0h0M178.3 126.9h0M171.9 138.4h0M106.8 96.2h0M126.7 96.5h0M113.8 84.4h0M142.1 115.7h0M142.7 101.8h0M118.4 108.6h0M139.8 73.9h0M130.3 101.1h0M300.7 135.3h0M131.2 75.8h0M131.0 107.8h0M119.7 117.0h0M117.5 91.6h0M119.2 119.1h0M414.5 129.1h0M278.4 80.5h0M113.9 109.9h0M286.3 77.6h0M286.9 68.0h0M130.5 112.6h0M434.2 86.5h0M140.6 78.4h0M132.0 124.9h0M408.8 142.1h0M412.5 142.3h0M114.8 116.7h0M105.4 108.4h0M123.6 123.7h0M120.5 136.6h0M127.9 122.9h0M171.8 137.5h0M122.1 141.7h0" stroke="#3599b4"/>
<path d="M133.3 121.2h0M389.6 127.9h0M290.8 74.7h0M109.5 109.9h0M288.1 107.1h0M141.8 116.5h0M291.8 140.4h0M291.3 139.6h0M264.2 77.8h0M281.7 117.7h0M118.4 97.0h0M177.1 142.9h0M272.4 95.6h0M275.6 92.3h0M127.5 98.9h0M123.8 128.4h0M119.8 81.8h0M130.7 125.1h0M295.8 133.9h0M292.1 117.0h0M270.5 85.5h0M131.0 77.2h0M112.0 113.2h0M295.5 110.3h0M296.0 134.6h0M282.9 75.0h0M280.1 65.6h0M113.6 88.5h0M406.9 145.3h0M269.6 103.0h0M151.2 114.8h0M269.7 89.5h0M293.2 76.5h0M126.3 117.3h0M261.0 64.0h0M139.5 109.3h0M405.7 145.0h0M298.2 123.6h0M140.9 73.2h0M404.1 139.9h0" stroke="#42a4af"/>
<path d="M282.3 87.6h0M434.0 85.9h0M130.5 126.1h0M294.1 139.9h0M297.2 121.8h0M433.2 84.1h0M291.3 65.7h0M278.8 112.1h0M274.5 113.2h0M391.2 135.5h0M146.8 89.0h0M271.4 80.0h0M294.3 122.8h0M274.4 88.5h0M283.9 98.1h0M283.4 101.1h0M267.3 91.6h0M146.3 90.2h0M286.7 87.7h0M295.6 94.1h0M139.8 80.2h0M274.0 102.5h0M112.7 89.2h0M273.5 104.4h0M298.1 142.6h0M153.2 96.5h0M434.5 89.6h0M260.2 64.9h0M300.5 122.1h0M292.4 67.5h0M174.1 136.3h0M256.9 77.7h0M170.3 115.4h0" stroke="#4fb0ab"/>
<path d="M289.1 67.1h0M285.4 62.1h0M414.1 130.2h0M295.0 92.5h0M135.9 85.4h0M274.6 82.1h0M289.4 75.4h0M282.7 78.9h0M290.1 82.4h0M297.1 90.5h0M139.1 113.5h0M112.3 104.7h0M293.3 83.3h0M282.6 118.0h0M282.5 91.6h0M296.0 141.0h0M287.3 107.6h0M122.5 98.1h0M275.8 81.5h0M276.2 112.3h0M275.5 88.8h0M271.3 100.5h0M276.0 95.6h0M114.9 130.1h0M283.6 105.0h0M298.2 137.6h0M272.6 86.3h0M271.5 87.4h0M294.8 115.9h0M291.0 109.7h0M142.8 102.9h0M276.9 95.3h0M275.7 104.3h0M271.4 92.1h0M144.5 99.1h0M286.7 109.4h0M296.9 129.6h0M179.3 141.8h0M298.0 126.7h0M124.5 124.8h0" stroke="#5cbba6"/>
<path d="M282.9 66.2h0M142.7 113.7h0M287.5 86.9h0M292.5 72.4h0M286.1 71.9h0M118.8 128.5h0M105.8 113.6h0M286.4 101.0h0M296.0 97.2h0M179.3 149.2h0M296.1 80.3h0M291.9 105.4h0M281.9 97.5h0M282.9 116.0h0M286.0 102.5h0M134.2 89.3h0M288.3 108.4h0M136.2 97.0h0M120.2 112.9h0M281.0 99.1h0M117.5 140.7h0M297.4 121.2h0M407.8 132.4h0M272.9 81.5h0M296.6 116.2h0M289.7 61.4h0M296.3 122.2h0M296.7 90.1h0M298.2 74.6h0M276.1 117.0h0M285.5 90.9h0M405.8 135.3h0M271.5 88.9h0M296.1 91.8h0M138.9 107.4h0M284.1 98.1h0M111.4 138.2h0M280.0 72.1h0M274.4 107.9h0M272.8 100.0h0M294.6 84.9h0" stroke="#6ec2a6"/>
<path d="M267.4 104.1h0M290.7 63.6h0M413.0 140.9h0M277.5 100.1h0M135.9 99.6h0M112.6 128.0h0M280.6 117.7h0M285.7 74.9h0M275.4 82.4h0M286.7 112.4h0M276.6 115.5h0M121.1 148.8h0M266.6 88.7h0M117.7 111.1h0M280.2 105.3h0M298.4 136.2h0M265.0 78.4h0M130.8 92.9h0M144.3 88.5h0M292.7 80.2h0M133.4 72.8h0M139.3 90.5h0M109.2 126.6h0M273.5 77.6h0M281.6 91.3h0M281.0 106.2h0M298.5 88.0h0M270.5 81.4h0M104.9 125.6h0M124.7 80.0h0M271.4 89.8h0M410.7 134.6h0M265.9 99.1h0M273.2 90.8h0M270.9 82.2h0M286.4 100.9h0M288.5 83.5h0M143.5 102.3h0M289.3 74.2h0M432.8 89.8h0M290.2 98.1h0" stroke="#80caa5"/>
<path d="M123.9 110.9h0M290.3 78.1h0M119.6 136.6h0M132.9 97.5h0M296.2 127.7h0M293.3 111.9h0M295.8 83.4h0M145.7 105.3h0M282.5 63.9h0M121.5 84.7h0M286.8 75.3h0M318.0 84.0h0M293.8 91.6h0M234.2 148.7h0M287.3 71.5h0M285.5 107.5h0M262.0 110.0h0M105.9 125.8h0M140.1 93.3h0M273.7 101.5h0M108.9 116.2h0M132.6 107.8h0M140.9 73.4h0M282.0 110.1h0M172.8 148.4h0M292.8 82.0h0M414.4 138.1h0M297.3 137.7h0M277.0 115.1h0M291.6 105.3h0M292.8 65.7h0M276.7 85.8h0M415.3 131.4h0M401.7 128.1h0M293.0 120.2h0" stroke="#92d2a4"/>
<path d="M299.5 122.3h0M278.9 82.0h0M273.5 81.9h0M140.1 103.5h0M291.3 104.8h0M291.7 129.9h0M280.7 80.4h0M377.8 54.1h0M138.9 79.5h0M275.1 100.3h0M117.1 138.4h0M265.4 90.4h0M295.1 76.3h0M121.9 147.7h0M123.8 119.2h0M293.9 80.1h0M286.6 102.9h0M295.2 81.7h0M295.1 66.8h0M431.9 109.1h0M291.8 100.2h0M275.9 117.7h0M272.8 116.6h0M273.5 89.2h0M295.4 121.6h0M285.8 63.7h0M279.6 99.6h0M274.9 116.4h0M118.7 138.1h0" stroke="#a4d9a4"/>
<path d="M132.2 99.4h0M173.5 148.6h0M103.7 109.2h0M108.5 133.1h0M133.1 73.6h0M298.5 140.2h0M283.9 82.9h0M281.9 107.8h0M130.2 73.3h0M279.2 68.7h0M275.1 80.4h0M134.8 83.0h0M280.7 96.2h0M269.9 81.0h0M141.5 85.2h0M136.8 86.9h0M285.9 100.8h0M407.3 134.4h0M103.4 114.2h0M124.6 148.5h0M121.1 115.7h0M295.5 89.8h0M280.0 98.3h0M285.4 97.2h0M298.2 121.7h0M268.5 89.6h0M275.9 97.8h0M257.3 83.1h0" stroke="#b2dea2"/>
<path d="M147.7 99.7h0M270.5 96.0h0M284.3 95.6h0M290.4 75.7h0M142.4 87.3h0M297.3 85.9h0M156.5 102.8h0M290.4 83.8h0M291.1 110.1h0M104.9 116.4h0M295.1 98.2h0M286.3 67.8h0M294.1 116.3h0M111.5 130.2h0M171.8 133.7h0M295.0 127.0h0M286.3 105.3h0M271.6 83.4h0M293.2 122.6h0M122.6 138.0h0M289.4 83.6h0" stroke="#c0e2a0"/>
<path d="M117.8 130.6h0M140.1 98.2h0M289.8 98.8h0M106.1 120.9h0M106.7 129.3h0M281.4 73.0h0M103.4 108.9h0M278.1 102.3h0M295.5 139.3h0M272.5 101.2h0M139.9 94.3h0M122.7 138.2h0M282.9 70.7h0M296.7 75.6h0M276.2 116.5h0" stroke="#cee69e"/>
<path d="M168.4 120.7h0M280.8 66.3h0M295.4 80.7h0M140.5 101.8h0M150.8 102.6h0M118.6 143.6h0M111.9 126.7h0M166.8 138.7h0M177.6 135.3h0M282.9 112.4h0M102.9 102.2h0M274.2 94.0h0M294.1 100.6h0M124.0 141.5h0M175.2 124.2h0M110.2 132.7h0M169.2 139.5h0" stroke="#dceb9c"/>
<path d="M118.0 144.8h0M283.6 91.2h0M115.4 127.6h0M168.8 135.7h0M432.4 117.7h0M135.8 131.8h0M140.9 114.0h0M290.9 86.4h0M106.2 116.1h0M290.5 68.2h0M121.8 146.3h0M295.0 65.5h0M171.0 129.6h0M156.3 107.6h0M107.6 112.4h0M133.0 91.0h0M286.0 81.2h0M137.1 131.6h0M135.4 100.5h0M289.9 102.1h0" stroke="#e2ea89"/>
<path d="M286.3 105.8h0M141.2 119.9h0M136.0 90.1h0M403.3 126.6h0M289.3 72.5h0M112.9 139.2h0M112.4 140.6h0M266.5 96.4h0M280.8 106.1h0M299.5 130.5h0M292.9 111.5h0M111.4 116.0h0M279.7 71.0h0M274.9 105.0h0M114.0 126.5h0" stroke="#e9e876"/>
<path d="M402.2 140.7h0M291.9 70.4h0M286.9 127.2h0M110.3 127.4h0M416.5 86.0h0M298.2 137.8h0M285.6 71.3h0M272.9 116.9h0M413.6 133.0h0M372.7 61.6h0M114.8 140.3h0M282.0 99.7h0M145.5 101.4h0M270.1 107.5h0M297.1 124.3h0M144.5 84.5h0M103.6 113.3h0M117.2 141.2h0M285.0 86.5h0M289.3 90.4h0M129.3 75.3h0M290.9 137.4h0M275.8 114.6h0M284.1 115.6h0M144.5 81.1h0M269.8 91.7h0M284.5 114.8h0M289.2 88.9h0M291.6 104.8h0M273.5 84.2h0M288.7 73.8h0M422.2 127.2h0M139.8 77.1h0M120.5 148.2h0M284.9 82.7h0M300.8 129.0h0M298.7 80.3h0M296.1 112.2h0M137.0 74.4h0" stroke="#efe763"/>
<path d="M411.9 138.8h0M272.3 93.0h0M121.8 147.2h0M291.5 139.3h0M112.7 124.9h0M288.9 98.9h0M270.5 106.9h0M276.5 79.8h0M114.3 139.6h0M290.5 91.7h0M270.8 95.6h0M281.4 85.2h0M135.5 76.4h0M128.8 140.6h0M124.5 146.0h0M290.4 71.1h0M116.3 136.9h0M296.6 74.2h0M269.0 82.1h0M293.6 78.1h0M108.2 121.7h0M285.0 107.6h0M135.5 135.3h0M301.1 105.6h0M138.2 81.6h0M289.8 63.5h0M273.3 88.1h0M287.3 117.7h0M104.7 124.3h0M293.6 87.8h0M273.3 117.0h0M285.0 101.4h0M277.6 85.1h0M135.5 74.9h0M403.4 144.5h0M295.9 88.0h0M111.8 117.1h0M289.0 124.3h0M129.9 79.4h0M103.7 117.4h0M275.4 88.3h0M282.6 116.2h0M287.4 86.4h0" stroke="#f3e44e"/>
<path d="M123.1 147.0h0M294.7 81.7h0M290.5 69.5h0M279.7 119.4h0M290.9 100.8h0M291.4 98.8h0M114.0 132.7h0M114.3 140.4h0M403.1 142.2h0M405.2 74.7h0M291.6 82.5h0M413.2 122.0h0M117.4 136.8h0M297.2 86.5h0M294.6 97.2h0M299.9 87.3h0M283.6 95.0h0M107.5 128.0h0M413.8 118.0h0M143.2 83.2h0M430.5 119.5h0M285.7 88.4h0M289.0 138.0h0M298.8 90.3h0M286.4 114.0h0M291.2 81.1h0M171.9 139.4h0M271.3 111.0h0M293.9 115.0h0" stroke="#f6df37"/>
<path d="M105.1 110.2h0M127.2 142.0h0M144.0 80.9h0M274.5 118.6h0M281.5 87.7h0M283.6 78.3h0M281.0 111.6h0M287.2 98.3h0M290.3 139.2h0M274.2 97.1h0M285.6 109.6h0M108.5 122.4h0M267.5 88.4h0M293.1 148.1h0M294.0 89.1h0M422.0 127.4h0M285.1 102.3h0M290.2 89.7h0M271.5 79.0h0M276.3 79.0h0M123.4 142.9h0M284.0 123.8h0M288.6 91.5h0M102.6 106.3h0M274.0 89.7h0M419.2 117.0h0M292.2 93.8h0M286.5 139.3h0M281.2 117.0h0M266.0 96.9h0M287.4 145.0h0M291.1 107.1h0" stroke="#f8da20"/>
<path d="M269.0 95.1h0M286.2 63.0h0M288.4 139.5h0M292.3 104.7h0M270.9 83.0h0M426.4 111.4h0M275.9 76.6h0M140.1 117.3h0M263.2 72.0h0M116.9 130.5h0M118.5 131.0h0M139.9 118.1h0M276.9 69.7h0M407.0 112.6h0M429.3 110.8h0M133.9 136.7h0M271.6 111.4h0M284.9 121.4h0M388.7 108.1h0M413.9 110.5h0M414.2 108.2h0M280.5 107.0h0M267.3 93.4h0M271.8 110.8h0M297.4 68.4h0M131.5 77.5h0M274.1 112.0h0" stroke="#f8d42c"/>
<path d="M104.9 122.8h0M105.7 114.5h0M108.1 134.0h0M429.6 118.6h0M268.2 91.5h0M282.6 131.6h0M289.2 106.7h0M418.9 124.5h0M275.7 112.8h0M287.6 66.7h0M428.6 116.9h0M280.6 66.6h0M134.2 73.7h0M418.2 100.0h0M169.3 134.7h0M266.2 102.2h0M279.0 98.6h0M274.9 86.8h0M295.3 122.1h0" stroke="#f8cf38"/>
<path d="M403.0 110.5h0M431.3 111.4h0M284.6 122.7h0M286.1 77.1h0M126.1 144.2h0M413.0 117.8h0M286.0 83.7h0M134.3 76.4h0M285.3 135.5h0M107.2 119.1h0M431.9 109.3h0M290.1 119.1h0M420.0 100.4h0M287.0 145.7h0M291.1 96.0h0M103.2 110.7h0M119.5 137.3h0M279.0 134.5h0M294.2 67.3h0M290.9 109.5h0M421.3 111.5h0M427.0 93.1h0M297.1 94.1h0" stroke="#f7ca44"/>
<path d="M397.1 113.2h0M274.1 108.2h0M412.4 122.6h0M401.9 122.8h0M140.8 123.9h0M122.1 137.2h0M404.7 109.4h0" stroke="#f7c450"/>
<path d="M257.3 71.8h0M291.8 81.1h0M276.1 122.5h0M296.7 116.2h0M277.6 132.1h0M433.1 110.8h0M404.3 123.8h0M425.0 119.2h0M279.7 116.4h0M283.0 67.6h0M275.1 110.6h0M126.6 141.6h0M402.6 110.4h0M118.3 137.2h0M406.0 114.3h0M118.3 132.6h0M420.6 126.2h0M274.3 119.3h0M278.5 107.0h0" stroke="#f6ba52"/>
<path d="M272.2 112.2h0M426.9 121.2h0M264.8 84.8h0M409.2 119.3h0M274.9 109.9h0M281.0 111.4h0M261.3 77.6h0M414.8 129.8h0M280.8 122.4h0M431.5 100.6h0M417.2 119.5h0" stroke="#f6b054"/>
<path d="M140.2 125.5h0M283.1 108.8h0M276.3 116.1h0M417.6 89.7h0M292.3 91.9h0M272.0 110.6h0M429.2 117.8h0M281.3 119.2h0M255.8 75.7h0M271.0 79.3h0M399.3 117.9h0M287.9 130.6h0M298.1 104.6h0M278.8 113.6h0M406.9 116.8h0M425.2 113.2h0M420.1 127.9h0M410.0 109.6h0M294.9 118.2h0M428.8 113.5h0" stroke="#f5a656"/>
<path d="M297.1 120.3h0M421.1 98.2h0M417.5 87.7h0M276.7 117.9h0M431.1 115.5h0M277.8 119.2h0M416.1 106.7h0M303.0 108.7h0M272.3 77.9h0M261.2 81.9h0M296.4 107.0h0M284.7 136.0h0M266.1 89.9h0M425.5 104.6h0M273.8 110.5h0M274.9 72.4h0M137.1 132.0h0M285.8 119.9h0" stroke="#f49c58"/>
<path d="M411.1 105.2h0M284.0 120.6h0M295.0 126.2h0M298.1 111.8h0M138.3 127.3h0M262.0 87.1h0M419.6 108.3h0M294.9 115.8h0M418.8 99.2h0M274.4 114.1h0M141.1 121.4h0" stroke="#f39052"/>
<path d="M297.3 122.2h0M280.1 131.7h0M430.8 115.6h0M430.2 104.9h0M426.5 86.5h0M428.7 101.1h0M296.2 103.1h0M415.0 125.9h0M288.2 121.3h0M426.3 102.3h0M410.6 103.7h0M397.8 116.2h0M415.9 89.9h0" stroke="#f2844c"/>
<path d="M292.4 119.4h0M289.8 128.4h0M408.6 112.2h0M426.6 106.0h0M403.3 117.1h0M300.5 114.6h0M277.2 121.2h0M301.0 118.5h0M283.0 124.6h0" stroke="#f17846"/>
<path d="M416.8 90.2h0M308.6 117.2h0M400.0 113.5h0M422.6 100.7h0M393.8 111.2h0M426.8 100.3h0M420.1 110.6h0M265.1 69.2h0M406.6 122.0h0M418.5 101.4h0M428.7 102.4h0M432.0 105.6h0" stroke="#f06c40"/>
<path d="M401.7 100.7h0M310.3 111.6h0M417.5 87.7h0M427.7 101.2h0M429.9 99.4h0M426.7 110.1h0M403.1 119.5h0M420.7 124.5h0M424.3 111.3h0M414.7 127.4h0M430.8 110.2h0" stroke="#ee613d"/>
<path d="M406.5 126.2h0M417.6 94.2h0M422.5 109.2h0M423.9 88.2h0M421.4 92.4h0M377.6 78.4h0M427.8 98.4h0M419.8 96.3h0M406.2 88.4h0M310.4 114.9h0M152.7 106.4h0" stroke="#ec563a"/>
<path d="M299.9 105.2h0M421.6 111.4h0M411.5 118.3h0M423.2 114.8h0M386.6 109.0h0M414.4 106.4h0M418.0 89.1h0M312.3 93.8h0M417.6 96.7h0M414.0 122.4h0M412.9 123.5h0M417.7 97.3h0" stroke="#e94b37"/>
<path d="M409.0 124.6h0M285.3 135.6h0M416.4 117.1h0M420.5 86.5h0" stroke="#e74034"/>
<path d="M430.1 107.0h0M428.9 91.1h0M413.2 127.3h0M301.4 122.9h0M310.6 114.7h0" stroke="#e43633"/>
<path d="M282.3 127.7h0M411.0 111.2h0M425.9 124.5h0M419.4 123.7h0M425.2 86.5h0M418.8 88.5h0M426.6 90.4h0M421.2 91.2h0M298.0 117.5h0M307.7 84.6h0M298.1 122.8h0M430.4 98.7h0M402.2 104.8h0M392.6 108.9h0M405.1 124.2h0M194.0 94.5h0M395.0 79.5h0" stroke="#e12f36"/>
<path d="M425.0 105.9h0M419.8 112.0h0M424.0 119.3h0M418.7 94.4h0M426.2 115.9h0M424.6 113.5h0M405.8 117.5h0M299.6 123.5h0M193.5 86.0h0" stroke="#dd2738"/>
<path d="M301.7 97.2h0M428.0 110.9h0M419.3 105.5h0M406.6 111.8h0M410.7 123.9h0M413.0 109.5h0M298.1 123.1h0M423.7 122.8h0M425.0 98.8h0M412.2 112.0h0M390.3 109.9h0M412.9 113.9h0M419.5 105.2h0" stroke="#da203b"/>
<path d="M425.1 115.9h0M421.6 86.0h0M304.3 78.5h0M411.3 102.6h0M294.5 106.9h0M424.6 88.3h0M420.4 114.7h0" stroke="#d11b3c"/>
<path d="M427.9 101.5h0M416.3 124.1h0M425.4 117.5h0M426.8 104.8h0M417.6 101.2h0M411.1 109.2h0M397.2 113.2h0" stroke="#c3183d"/>
<path d="M398.8 73.9h0M421.2 110.4h0M290.9 120.3h0" stroke="#b6153d"/>
<path d="M401.7 97.7h0" stroke="#a8123e"/>
</g>
<line x1="97" y1="45" x2="97" y2="158" stroke="#000" stroke-width="2"/>
<line x1="91.5" y1="52.2" x2="97" y2="52.2" stroke="#000" stroke-width="1.7"/>
<text x="84.9" y="56.1" font-size="13" text-anchor="end" font-weight="normal" fill="#1a1a1a" >5.0</text>
<line x1="91.5" y1="78.9" x2="97" y2="78.9" stroke="#000" stroke-width="1.7"/>
<text x="84.9" y="82.80000000000001" font-size="13" text-anchor="end" font-weight="normal" fill="#1a1a1a" >2.5</text>
<line x1="91.5" y1="105.7" x2="97" y2="105.7" stroke="#000" stroke-width="1.7"/>
<text x="84.9" y="109.60000000000001" font-size="13" text-anchor="end" font-weight="normal" fill="#1a1a1a" >0.0</text>
<line x1="91.5" y1="132.5" x2="97" y2="132.5" stroke="#000" stroke-width="1.7"/>
<text x="84.9" y="136.4" font-size="13" text-anchor="end" font-weight="normal" fill="#1a1a1a" >−2.5</text>
<text transform="translate(48.4,101.6) rotate(-90) scale(0.77,1)" font-size="17" text-anchor="middle" fill="#1a1a1a">UMAP2</text>
<line x1="96" y1="157" x2="207.5" y2="157" stroke="#000" stroke-width="2"/>
<line x1="120" y1="158" x2="120" y2="163.2" stroke="#000" stroke-width="1.7"/>
<text x="119.0" y="181.1" font-size="12.5" text-anchor="middle" font-weight="normal" fill="#1a1a1a" >−5</text>
<line x1="150" y1="158" x2="150" y2="163.2" stroke="#000" stroke-width="1.7"/>
<text x="150" y="181.1" font-size="12.5" text-anchor="middle" font-weight="normal" fill="#1a1a1a" >0</text>
<line x1="180" y1="158" x2="180" y2="163.2" stroke="#000" stroke-width="1.7"/>
<text x="180" y="181.1" font-size="12.5" text-anchor="middle" font-weight="normal" fill="#1a1a1a" >5</text>
<line x1="213.25" y1="157" x2="323.25" y2="157" stroke="#000" stroke-width="2"/>
<line x1="236.25" y1="158" x2="236.25" y2="163.2" stroke="#000" stroke-width="1.7"/>
<text x="235.25" y="181.1" font-size="12.5" text-anchor="middle" font-weight="normal" fill="#1a1a1a" >−5</text>
<line x1="266.25" y1="158" x2="266.25" y2="163.2" stroke="#000" stroke-width="1.7"/>
<text x="266.25" y="181.1" font-size="12.5" text-anchor="middle" font-weight="normal" fill="#1a1a1a" >0</text>
<line x1="296.25" y1="158" x2="296.25" y2="163.2" stroke="#000" stroke-width="1.7"/>
<text x="296.25" y="181.1" font-size="12.5" text-anchor="middle" font-weight="normal" fill="#1a1a1a" >5</text>
<line x1="329.5" y1="157" x2="440.75" y2="157" stroke="#000" stroke-width="2"/>
<line x1="352.25" y1="158" x2="352.25" y2="163.2" stroke="#000" stroke-width="1.7"/>
<text x="351.25" y="181.1" font-size="12.5" text-anchor="middle" font-weight="normal" fill="#1a1a1a" >−5</text>
<line x1="382.25" y1="158" x2="382.25" y2="163.2" stroke="#000" stroke-width="1.7"/>
<text x="382.25" y="181.1" font-size="12.5" text-anchor="middle" font-weight="normal" fill="#1a1a1a" >0</text>
<line x1="412.25" y1="158" x2="412.25" y2="163.2" stroke="#000" stroke-width="1.7"/>
<text x="412.25" y="181.1" font-size="12.5" text-anchor="middle" font-weight="normal" fill="#1a1a1a" >5</text>
<text transform="translate(265.3,205.6) scale(0.77,1)" font-size="17" text-anchor="middle" fill="#1a1a1a">UMAP1</text>
<defs><linearGradient id="cb" x1="0" y1="0" x2="0" y2="1">
<stop offset="0" stop-color="#a8123e"/>
<stop offset="0.06" stop-color="#d81c3c"/>
<stop offset="0.15" stop-color="#e63a32"/>
<stop offset="0.25" stop-color="#f07040"/>
<stop offset="0.33" stop-color="#f4a560"/>
<stop offset="0.42" stop-color="#f6cc50"/>
<stop offset="0.50" stop-color="#fbdc00"/>
<stop offset="0.60" stop-color="#f0ea98"/>
<stop offset="0.67" stop-color="#d0e6a8"/>
<stop offset="0.75" stop-color="#86cca2"/>
<stop offset="0.82" stop-color="#5ab8a0"/>
<stop offset="0.88" stop-color="#2890b4"/>
<stop offset="0.94" stop-color="#3566b0"/>
<stop offset="1" stop-color="#4a4aa2"/>
</linearGradient></defs>
<rect x="459.5" y="50.5" width="14" height="100.5" rx="3" ry="2" fill="url(#cb)"/>
<line x1="459.5" y1="75.3" x2="462.3" y2="75.3" stroke="#fff" stroke-width="1.2"/>
<line x1="470.7" y1="75.3" x2="473.5" y2="75.3" stroke="#fff" stroke-width="1.2"/>
<line x1="459.5" y1="100.8" x2="462.3" y2="100.8" stroke="#fff" stroke-width="1.2"/>
<line x1="470.7" y1="100.8" x2="473.5" y2="100.8" stroke="#fff" stroke-width="1.2"/>
<line x1="459.5" y1="125.9" x2="462.3" y2="125.9" stroke="#fff" stroke-width="1.2"/>
<line x1="470.7" y1="125.9" x2="473.5" y2="125.9" stroke="#fff" stroke-width="1.2"/>
<text x="480.6" y="55.1" font-size="13" text-anchor="start" font-weight="normal" fill="#1a1a1a" >1.00</text>
<text x="480.6" y="79.6" font-size="13" text-anchor="start" font-weight="normal" fill="#1a1a1a" >0.75</text>
<text x="480.6" y="104.6" font-size="13" text-anchor="start" font-weight="normal" fill="#1a1a1a" >0.50</text>
<text x="480.6" y="129.6" font-size="13" text-anchor="start" font-weight="normal" fill="#1a1a1a" >0.25</text>
<text x="480.6" y="154.4" font-size="13" text-anchor="start" font-weight="normal" fill="#1a1a1a" >0.00</text>
<text x="15" y="261.9" font-size="24" text-anchor="start" font-weight="bold" fill="#000" >K</text>
<polygon points="123,241.5 348.5,241.5 123,268.8" fill="#485567"/>
<polygon points="123.5,275.4 350.3,244.8 350.3,278.3 123.5,278.3" fill="#105284"/>
<text x="126.8" y="255.4" font-size="13" text-anchor="start" font-weight="normal" fill="#fff" textLength="80" lengthAdjust="spacingAndGlyphs" >Committed B</text>
<text x="274.7" y="269.6" font-size="13" text-anchor="start" font-weight="normal" fill="#fff" textLength="63.5" lengthAdjust="spacingAndGlyphs" >Progenitor</text>
<rect x="107.30" y="485.40" width="59.10" height="12.00" fill="#f7900f" />
<rect x="107.30" y="436.20" width="59.10" height="49.20" fill="#105283" />
<rect x="107.30" y="432.00" width="59.10" height="4.20" fill="#3cb54a" />
<rect x="107.30" y="427.50" width="59.10" height="4.50" fill="#c8132f" />
<rect x="107.30" y="319.60" width="59.10" height="107.90" fill="#475465" />
<rect x="107.30" y="300.00" width="59.10" height="19.60" fill="#bfbdc2" />
<rect x="173.50" y="495.70" width="59.30" height="2.00" fill="#653d14" />
<rect x="173.50" y="493.00" width="59.30" height="2.70" fill="#f7900f" />
<rect x="173.50" y="414.70" width="59.30" height="78.30" fill="#105283" />
<rect x="173.50" y="410.40" width="59.30" height="4.30" fill="#3cb54a" />
<rect x="173.50" y="405.50" width="59.30" height="4.90" fill="#c8132f" />
<rect x="173.50" y="316.70" width="59.30" height="88.80" fill="#475465" />
<rect x="173.50" y="300.00" width="59.30" height="16.70" fill="#bfbdc2" />
<rect x="239.60" y="490.30" width="59.20" height="7.40" fill="#653d14" />
<rect x="239.60" y="489.00" width="59.20" height="1.30" fill="#f7900f" />
<rect x="239.60" y="380.90" width="59.20" height="108.10" fill="#105283" />
<rect x="239.60" y="376.60" width="59.20" height="4.30" fill="#3cb54a" />
<rect x="239.60" y="371.80" width="59.20" height="4.80" fill="#c8132f" />
<rect x="239.60" y="311.20" width="59.20" height="60.60" fill="#475465" />
<rect x="239.60" y="300.00" width="59.20" height="11.20" fill="#bfbdc2" />
<rect x="306.00" y="488.20" width="59.20" height="9.50" fill="#653d14" />
<rect x="306.00" y="486.40" width="59.20" height="1.80" fill="#f7900f" />
<rect x="306.00" y="376.20" width="59.20" height="110.20" fill="#105283" />
<rect x="306.00" y="363.50" width="59.20" height="12.70" fill="#3cb54a" />
<rect x="306.00" y="353.80" width="59.20" height="9.70" fill="#c8132f" />
<rect x="306.00" y="312.00" width="59.20" height="41.80" fill="#475465" />
<rect x="306.00" y="300.00" width="59.20" height="12.00" fill="#bfbdc2" />
<line x1="97" y1="290.2" x2="97" y2="508" stroke="#000" stroke-width="2"/>
<line x1="96" y1="507.8" x2="375" y2="507.8" stroke="#000" stroke-width="1.8"/>
<line x1="91.3" y1="299.6" x2="97" y2="299.6" stroke="#000" stroke-width="1.7"/>
<text x="84.6" y="303.8" font-size="13" text-anchor="end" font-weight="normal" fill="#1a1a1a" textLength="25.8" lengthAdjust="spacingAndGlyphs" >1.00</text>
<line x1="91.3" y1="349.02500000000003" x2="97" y2="349.02500000000003" stroke="#000" stroke-width="1.7"/>
<text x="84.6" y="353.225" font-size="13" text-anchor="end" font-weight="normal" fill="#1a1a1a" textLength="25.8" lengthAdjust="spacingAndGlyphs" >0.75</text>
<line x1="91.3" y1="398.45000000000005" x2="97" y2="398.45000000000005" stroke="#000" stroke-width="1.7"/>
<text x="84.6" y="402.65000000000003" font-size="13" text-anchor="end" font-weight="normal" fill="#1a1a1a" textLength="25.8" lengthAdjust="spacingAndGlyphs" >0.50</text>
<line x1="91.3" y1="447.875" x2="97" y2="447.875" stroke="#000" stroke-width="1.7"/>
<text x="84.6" y="452.075" font-size="13" text-anchor="end" font-weight="normal" fill="#1a1a1a" textLength="25.8" lengthAdjust="spacingAndGlyphs" >0.25</text>
<line x1="91.3" y1="497.3" x2="97" y2="497.3" stroke="#000" stroke-width="1.7"/>
<text x="84.6" y="501.5" font-size="13" text-anchor="end" font-weight="normal" fill="#1a1a1a" textLength="25.8" lengthAdjust="spacingAndGlyphs" >0.00</text>
<line x1="136.9" y1="508.6" x2="136.9" y2="513.9" stroke="#000" stroke-width="1.7"/>
<text transform="translate(137.00,526.2) rotate(-45)" font-size="12.8" text-anchor="end" fill="#1a1a1a" textLength="50.5" lengthAdjust="spacingAndGlyphs">0 - 0.25</text>
<line x1="203.2" y1="508.6" x2="203.2" y2="513.9" stroke="#000" stroke-width="1.7"/>
<text transform="translate(203.30,526.2) rotate(-45)" font-size="12.8" text-anchor="end" fill="#1a1a1a" textLength="62" lengthAdjust="spacingAndGlyphs">0.25 - 0.5</text>
<line x1="269.2" y1="508.6" x2="269.2" y2="513.9" stroke="#000" stroke-width="1.7"/>
<text transform="translate(269.70,526.2) rotate(-45)" font-size="12.8" text-anchor="end" fill="#1a1a1a" textLength="63" lengthAdjust="spacingAndGlyphs">0.5 - 0.75</text>
<line x1="335.6" y1="508.6" x2="335.6" y2="513.9" stroke="#000" stroke-width="1.7"/>
<text transform="translate(334.30,526.2) rotate(-45)" font-size="12.8" text-anchor="end" fill="#1a1a1a" textLength="48.8" lengthAdjust="spacingAndGlyphs">0.75 - 1</text>
<text transform="translate(41.3,398) rotate(-90) scale(0.77,1)" font-size="17" text-anchor="middle" dy="0.35em" fill="#1a1a1a">Fraction</text>
<text x="237.5" y="593.1" font-size="17" text-anchor="middle" fill="#1a1a1a" textLength="224.5" lengthAdjust="spacingAndGlyphs">Quantile of nCount_RNA (cell mass)</text>
<text x="393.6" y="300" font-size="12.8" text-anchor="start" font-weight="normal" fill="#1a1a1a" textLength="110" lengthAdjust="spacingAndGlyphs" >predicted.celltype</text>
<rect x="393.70" y="310.00" width="12.50" height="12.00" fill="#bfbdc2" />
<text x="412.6" y="319.7" font-size="12.8" text-anchor="start" font-weight="normal" fill="#1a1a1a" textLength="71.5" lengthAdjust="spacingAndGlyphs" >Plasmablast</text>
<rect x="393.70" y="330.72" width="12.50" height="12.00" fill="#475465" />
<text x="412.6" y="340.42" font-size="12.8" text-anchor="start" font-weight="normal" fill="#1a1a1a" textLength="61.3" lengthAdjust="spacingAndGlyphs" >Memory B</text>
<rect x="393.70" y="351.44" width="12.50" height="12.00" fill="#c8132f" />
<text x="412.6" y="361.14" font-size="12.8" text-anchor="start" font-weight="normal" fill="#1a1a1a" textLength="46.2" lengthAdjust="spacingAndGlyphs" >Naive B</text>
<rect x="393.70" y="372.16" width="12.50" height="12.00" fill="#3cb54a" />
<text x="412.6" y="381.85999999999996" font-size="12.8" text-anchor="start" font-weight="normal" fill="#1a1a1a" textLength="53.6" lengthAdjust="spacingAndGlyphs" >Prog_B 1</text>
<rect x="393.70" y="392.88" width="12.50" height="12.00" fill="#105283" />
<text x="412.6" y="402.58" font-size="12.8" text-anchor="start" font-weight="normal" fill="#1a1a1a" textLength="55" lengthAdjust="spacingAndGlyphs" >Prog_B 2</text>
<rect x="393.70" y="413.60" width="12.50" height="12.00" fill="#f7900f" />
<text x="412.6" y="423.3" font-size="12.8" text-anchor="start" font-weight="normal" fill="#1a1a1a" textLength="61.3" lengthAdjust="spacingAndGlyphs" >Prog_RBC</text>
<rect x="393.70" y="434.32" width="12.50" height="12.00" fill="#653d14" />
<text x="412.6" y="444.02" font-size="12.8" text-anchor="start" font-weight="normal" fill="#1a1a1a" textLength="54.7" lengthAdjust="spacingAndGlyphs" >Prog_DC</text>
<rect x="393.70" y="455.04" width="12.50" height="12.00" fill="#29abe2" />
<text x="412.6" y="464.73999999999995" font-size="12.8" text-anchor="start" font-weight="normal" fill="#1a1a1a" textLength="26.5" lengthAdjust="spacingAndGlyphs" >HSC</text>
<rect x="393.70" y="475.76" width="12.50" height="12.00" fill="#a3b98a" />
<text x="412.6" y="485.46" font-size="12.8" text-anchor="start" font-weight="normal" fill="#1a1a1a" textLength="80.8" lengthAdjust="spacingAndGlyphs" >CD4 Memory</text>
<rect x="393.70" y="496.48" width="12.50" height="12.00" fill="#e6198c" />
<text x="412.6" y="506.18" font-size="12.8" text-anchor="start" font-weight="normal" fill="#1a1a1a" textLength="27.4" lengthAdjust="spacingAndGlyphs" >pDC</text>
</svg>
</div>
</body></html>
